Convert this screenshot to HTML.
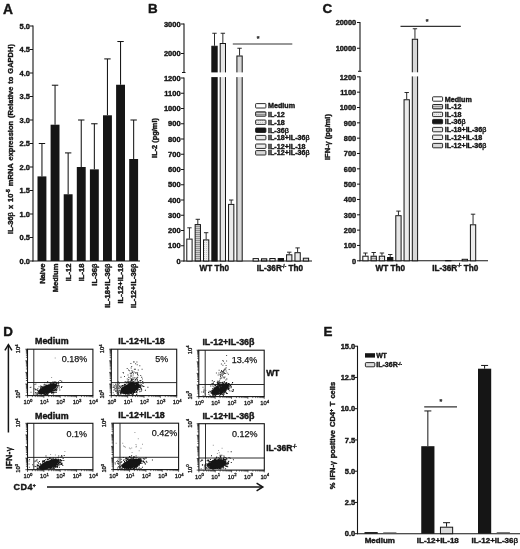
<!DOCTYPE html>
<html lang="en"><head><meta charset="utf-8"><title>Figure</title>
<style>html,body{margin:0;padding:0;background:#fff}body{width:520px;height:549px;overflow:hidden}svg text{font-family:"Liberation Sans",Arial,sans-serif}</style></head>
<body>
<svg width="520" height="549" viewBox="0 0 520 549" font-family="'Liberation Sans', Arial, sans-serif" style="display:block;background:#fff">
<rect width="520" height="549" fill="#fff"/>
<defs>
<pattern id="hh" width="2" height="2" patternUnits="userSpaceOnUse"><rect width="2" height="2" fill="#cfcfcf"/><rect width="2" height="0.9" fill="#8a8a8a"/></pattern>
<pattern id="dots" width="2" height="2" patternUnits="userSpaceOnUse"><rect width="2" height="2" fill="#ececec"/><rect width="1" height="1" fill="#c4c4c4"/></pattern>
</defs>
<g id="panelA">
<text x="2.9" y="13.5" font-size="13.8" font-weight="bold" text-anchor="start" fill="#151515" stroke="#151515" stroke-width="0.4" stroke-linejoin="round">A</text>
<line x1="33.00" y1="25.50" x2="33.00" y2="261.50" stroke="#151515" stroke-width="1.1"/>
<line x1="32.50" y1="261.00" x2="140.00" y2="261.00" stroke="#151515" stroke-width="1.1"/>
<line x1="30.00" y1="261.00" x2="33.00" y2="261.00" stroke="#151515" stroke-width="1"/>
<text x="30.0" y="263.7" font-size="7.5" font-weight="bold" text-anchor="end" fill="#151515" stroke="#151515" stroke-width="0.4" stroke-linejoin="round">0.0</text>
<line x1="30.00" y1="237.50" x2="33.00" y2="237.50" stroke="#151515" stroke-width="1"/>
<text x="30.0" y="240.2" font-size="7.5" font-weight="bold" text-anchor="end" fill="#151515" stroke="#151515" stroke-width="0.4" stroke-linejoin="round">0.5</text>
<line x1="30.00" y1="214.00" x2="33.00" y2="214.00" stroke="#151515" stroke-width="1"/>
<text x="30.0" y="216.7" font-size="7.5" font-weight="bold" text-anchor="end" fill="#151515" stroke="#151515" stroke-width="0.4" stroke-linejoin="round">1.0</text>
<line x1="30.00" y1="190.50" x2="33.00" y2="190.50" stroke="#151515" stroke-width="1"/>
<text x="30.0" y="193.2" font-size="7.5" font-weight="bold" text-anchor="end" fill="#151515" stroke="#151515" stroke-width="0.4" stroke-linejoin="round">1.5</text>
<line x1="30.00" y1="167.00" x2="33.00" y2="167.00" stroke="#151515" stroke-width="1"/>
<text x="30.0" y="169.7" font-size="7.5" font-weight="bold" text-anchor="end" fill="#151515" stroke="#151515" stroke-width="0.4" stroke-linejoin="round">2.0</text>
<line x1="30.00" y1="143.50" x2="33.00" y2="143.50" stroke="#151515" stroke-width="1"/>
<text x="30.0" y="146.2" font-size="7.5" font-weight="bold" text-anchor="end" fill="#151515" stroke="#151515" stroke-width="0.4" stroke-linejoin="round">2.5</text>
<line x1="30.00" y1="120.00" x2="33.00" y2="120.00" stroke="#151515" stroke-width="1"/>
<text x="30.0" y="122.7" font-size="7.5" font-weight="bold" text-anchor="end" fill="#151515" stroke="#151515" stroke-width="0.4" stroke-linejoin="round">3.0</text>
<line x1="30.00" y1="96.50" x2="33.00" y2="96.50" stroke="#151515" stroke-width="1"/>
<text x="30.0" y="99.2" font-size="7.5" font-weight="bold" text-anchor="end" fill="#151515" stroke="#151515" stroke-width="0.4" stroke-linejoin="round">3.5</text>
<line x1="30.00" y1="73.00" x2="33.00" y2="73.00" stroke="#151515" stroke-width="1"/>
<text x="30.0" y="75.7" font-size="7.5" font-weight="bold" text-anchor="end" fill="#151515" stroke="#151515" stroke-width="0.4" stroke-linejoin="round">4.0</text>
<line x1="30.00" y1="49.50" x2="33.00" y2="49.50" stroke="#151515" stroke-width="1"/>
<text x="30.0" y="52.2" font-size="7.5" font-weight="bold" text-anchor="end" fill="#151515" stroke="#151515" stroke-width="0.4" stroke-linejoin="round">4.5</text>
<line x1="30.00" y1="26.00" x2="33.00" y2="26.00" stroke="#151515" stroke-width="1"/>
<text x="30.0" y="28.7" font-size="7.5" font-weight="bold" text-anchor="end" fill="#151515" stroke="#151515" stroke-width="0.4" stroke-linejoin="round">5.0</text>
<text x="13.4" y="139" font-size="7.5" font-weight="bold" text-anchor="middle" fill="#151515" stroke="#151515" stroke-width="0.4" stroke-linejoin="round" transform="rotate(-90 13.4 139)" word-spacing="0.9" xml:space="preserve">IL-36<tspan font-weight="normal">β</tspan> x 10<tspan dy="-3" font-size="5">-5</tspan><tspan dy="3"> </tspan>mRNA expression (Relative to GAPDH)</text>
<line x1="41.95" y1="143.50" x2="41.95" y2="176.40" stroke="#151515" stroke-width="1.05"/>
<line x1="38.75" y1="143.50" x2="45.15" y2="143.50" stroke="#151515" stroke-width="1.05"/>
<rect x="37.50" y="176.40" width="8.90" height="84.60" fill="#151515" stroke="none" stroke-width="1"/>
<text x="44.75" y="263.6" font-size="7.6" font-weight="bold" text-anchor="end" fill="#151515" stroke="#151515" stroke-width="0.4" stroke-linejoin="round" transform="rotate(-90 44.75 263.6)">Naive</text>
<line x1="55.05" y1="85.22" x2="55.05" y2="124.70" stroke="#151515" stroke-width="1.05"/>
<line x1="51.85" y1="85.22" x2="58.25" y2="85.22" stroke="#151515" stroke-width="1.05"/>
<rect x="50.60" y="124.70" width="8.90" height="136.30" fill="#151515" stroke="none" stroke-width="1"/>
<text x="57.85" y="263.6" font-size="7.6" font-weight="bold" text-anchor="end" fill="#151515" stroke="#151515" stroke-width="0.4" stroke-linejoin="round" transform="rotate(-90 57.85 263.6)">Medium</text>
<line x1="68.15" y1="152.90" x2="68.15" y2="194.26" stroke="#151515" stroke-width="1.05"/>
<line x1="64.95" y1="152.90" x2="71.35" y2="152.90" stroke="#151515" stroke-width="1.05"/>
<rect x="63.70" y="194.26" width="8.90" height="66.74" fill="#151515" stroke="none" stroke-width="1"/>
<text x="70.95" y="263.6" font-size="7.6" font-weight="bold" text-anchor="end" fill="#151515" stroke="#151515" stroke-width="0.4" stroke-linejoin="round" transform="rotate(-90 70.95 263.6)">IL-12</text>
<line x1="81.25" y1="120.00" x2="81.25" y2="167.00" stroke="#151515" stroke-width="1.05"/>
<line x1="78.05" y1="120.00" x2="84.45" y2="120.00" stroke="#151515" stroke-width="1.05"/>
<rect x="76.80" y="167.00" width="8.90" height="94.00" fill="#151515" stroke="none" stroke-width="1"/>
<text x="84.05" y="263.6" font-size="7.6" font-weight="bold" text-anchor="end" fill="#151515" stroke="#151515" stroke-width="0.4" stroke-linejoin="round" transform="rotate(-90 84.05 263.6)">IL-18</text>
<line x1="94.35" y1="123.76" x2="94.35" y2="169.35" stroke="#151515" stroke-width="1.05"/>
<line x1="91.15" y1="123.76" x2="97.55" y2="123.76" stroke="#151515" stroke-width="1.05"/>
<rect x="89.90" y="169.35" width="8.90" height="91.65" fill="#151515" stroke="none" stroke-width="1"/>
<text x="97.15" y="263.6" font-size="7.6" font-weight="bold" text-anchor="end" fill="#151515" stroke="#151515" stroke-width="0.4" stroke-linejoin="round" transform="rotate(-90 97.15 263.6)">IL-36<tspan font-weight="normal">β</tspan></text>
<line x1="107.45" y1="58.90" x2="107.45" y2="115.30" stroke="#151515" stroke-width="1.05"/>
<line x1="104.25" y1="58.90" x2="110.65" y2="58.90" stroke="#151515" stroke-width="1.05"/>
<rect x="103.00" y="115.30" width="8.90" height="145.70" fill="#151515" stroke="none" stroke-width="1"/>
<text x="110.25" y="263.6" font-size="7.6" font-weight="bold" text-anchor="end" fill="#151515" stroke="#151515" stroke-width="0.4" stroke-linejoin="round" transform="rotate(-90 110.25 263.6)">IL-18+IL-36<tspan font-weight="normal">β</tspan></text>
<line x1="120.55" y1="41.51" x2="120.55" y2="84.75" stroke="#151515" stroke-width="1.05"/>
<line x1="117.35" y1="41.51" x2="123.75" y2="41.51" stroke="#151515" stroke-width="1.05"/>
<rect x="116.10" y="84.75" width="8.90" height="176.25" fill="#151515" stroke="none" stroke-width="1"/>
<text x="123.35" y="263.6" font-size="7.6" font-weight="bold" text-anchor="end" fill="#151515" stroke="#151515" stroke-width="0.4" stroke-linejoin="round" transform="rotate(-90 123.35 263.6)">IL-12+IL-18</text>
<line x1="133.65" y1="120.00" x2="133.65" y2="159.01" stroke="#151515" stroke-width="1.05"/>
<line x1="130.45" y1="120.00" x2="136.85" y2="120.00" stroke="#151515" stroke-width="1.05"/>
<rect x="129.20" y="159.01" width="8.90" height="101.99" fill="#151515" stroke="none" stroke-width="1"/>
<text x="136.45" y="263.6" font-size="7.6" font-weight="bold" text-anchor="end" fill="#151515" stroke="#151515" stroke-width="0.4" stroke-linejoin="round" transform="rotate(-90 136.45 263.6)">IL-12+IL-36<tspan font-weight="normal">β</tspan></text>
</g>
<g id="panelB">
<text x="148.0" y="13.3" font-size="13.4" font-weight="bold" text-anchor="start" fill="#151515" stroke="#151515" stroke-width="0.4" stroke-linejoin="round">B</text>
<line x1="184.00" y1="77.50" x2="184.00" y2="261.50" stroke="#151515" stroke-width="1.1"/>
<line x1="184.00" y1="23.50" x2="184.00" y2="72.50" stroke="#151515" stroke-width="1.1"/>
<line x1="183.50" y1="261.00" x2="312.00" y2="261.00" stroke="#151515" stroke-width="1.1"/>
<line x1="181.00" y1="261.00" x2="184.00" y2="261.00" stroke="#151515" stroke-width="1"/>
<text x="180.6" y="263.7" font-size="7.5" font-weight="bold" text-anchor="end" fill="#151515" stroke="#151515" stroke-width="0.4" stroke-linejoin="round">0</text>
<line x1="181.00" y1="245.75" x2="184.00" y2="245.75" stroke="#151515" stroke-width="1"/>
<text x="180.6" y="248.45" font-size="7.5" font-weight="bold" text-anchor="end" fill="#151515" stroke="#151515" stroke-width="0.4" stroke-linejoin="round">100</text>
<line x1="181.00" y1="230.50" x2="184.00" y2="230.50" stroke="#151515" stroke-width="1"/>
<text x="180.6" y="233.2" font-size="7.5" font-weight="bold" text-anchor="end" fill="#151515" stroke="#151515" stroke-width="0.4" stroke-linejoin="round">200</text>
<line x1="181.00" y1="215.25" x2="184.00" y2="215.25" stroke="#151515" stroke-width="1"/>
<text x="180.6" y="217.95" font-size="7.5" font-weight="bold" text-anchor="end" fill="#151515" stroke="#151515" stroke-width="0.4" stroke-linejoin="round">300</text>
<line x1="181.00" y1="200.00" x2="184.00" y2="200.00" stroke="#151515" stroke-width="1"/>
<text x="180.6" y="202.7" font-size="7.5" font-weight="bold" text-anchor="end" fill="#151515" stroke="#151515" stroke-width="0.4" stroke-linejoin="round">400</text>
<line x1="181.00" y1="184.75" x2="184.00" y2="184.75" stroke="#151515" stroke-width="1"/>
<text x="180.6" y="187.45" font-size="7.5" font-weight="bold" text-anchor="end" fill="#151515" stroke="#151515" stroke-width="0.4" stroke-linejoin="round">500</text>
<line x1="181.00" y1="169.50" x2="184.00" y2="169.50" stroke="#151515" stroke-width="1"/>
<text x="180.6" y="172.2" font-size="7.5" font-weight="bold" text-anchor="end" fill="#151515" stroke="#151515" stroke-width="0.4" stroke-linejoin="round">600</text>
<line x1="181.00" y1="154.25" x2="184.00" y2="154.25" stroke="#151515" stroke-width="1"/>
<text x="180.6" y="156.95" font-size="7.5" font-weight="bold" text-anchor="end" fill="#151515" stroke="#151515" stroke-width="0.4" stroke-linejoin="round">700</text>
<line x1="181.00" y1="139.00" x2="184.00" y2="139.00" stroke="#151515" stroke-width="1"/>
<text x="180.6" y="141.7" font-size="7.5" font-weight="bold" text-anchor="end" fill="#151515" stroke="#151515" stroke-width="0.4" stroke-linejoin="round">800</text>
<line x1="181.00" y1="123.75" x2="184.00" y2="123.75" stroke="#151515" stroke-width="1"/>
<text x="180.6" y="126.45" font-size="7.5" font-weight="bold" text-anchor="end" fill="#151515" stroke="#151515" stroke-width="0.4" stroke-linejoin="round">900</text>
<line x1="181.00" y1="108.50" x2="184.00" y2="108.50" stroke="#151515" stroke-width="1"/>
<text x="180.6" y="111.2" font-size="7.5" font-weight="bold" text-anchor="end" fill="#151515" stroke="#151515" stroke-width="0.4" stroke-linejoin="round">1000</text>
<line x1="181.00" y1="93.25" x2="184.00" y2="93.25" stroke="#151515" stroke-width="1"/>
<text x="180.6" y="95.95" font-size="7.5" font-weight="bold" text-anchor="end" fill="#151515" stroke="#151515" stroke-width="0.4" stroke-linejoin="round">1100</text>
<line x1="181.00" y1="78.00" x2="184.00" y2="78.00" stroke="#151515" stroke-width="1"/>
<text x="180.6" y="80.7" font-size="7.5" font-weight="bold" text-anchor="end" fill="#151515" stroke="#151515" stroke-width="0.4" stroke-linejoin="round">1200</text>
<line x1="181.00" y1="24.00" x2="184.00" y2="24.00" stroke="#151515" stroke-width="1"/>
<text x="180.6" y="26.7" font-size="7.5" font-weight="bold" text-anchor="end" fill="#151515" stroke="#151515" stroke-width="0.4" stroke-linejoin="round">3000</text>
<line x1="181.00" y1="53.50" x2="184.00" y2="53.50" stroke="#151515" stroke-width="1"/>
<text x="180.6" y="56.2" font-size="7.5" font-weight="bold" text-anchor="end" fill="#151515" stroke="#151515" stroke-width="0.4" stroke-linejoin="round">2000</text>
<line x1="182.00" y1="72.50" x2="185.50" y2="72.50" stroke="#151515" stroke-width="1"/>
<text x="156.9" y="138" font-size="7.4" font-weight="bold" text-anchor="middle" fill="#151515" stroke="#151515" stroke-width="0.4" stroke-linejoin="round" transform="rotate(-90 156.9 138)">IL-2 (pg/ml)</text>
<line x1="189.45" y1="227.80" x2="189.45" y2="238.60" stroke="#151515" stroke-width="0.9"/>
<line x1="187.25" y1="227.80" x2="191.65" y2="227.80" stroke="#151515" stroke-width="0.9"/>
<rect x="186.80" y="239.10" width="5.30" height="21.90" fill="#ffffff" stroke="#151515" stroke-width="1"/>
<line x1="197.80" y1="219.30" x2="197.80" y2="224.10" stroke="#151515" stroke-width="0.9"/>
<line x1="195.60" y1="219.30" x2="200.00" y2="219.30" stroke="#151515" stroke-width="0.9"/>
<rect x="195.15" y="224.60" width="5.30" height="36.40" fill="url(#hh)" stroke="#151515" stroke-width="1"/>
<line x1="206.15" y1="232.70" x2="206.15" y2="239.40" stroke="#151515" stroke-width="0.9"/>
<line x1="203.95" y1="232.70" x2="208.35" y2="232.70" stroke="#151515" stroke-width="0.9"/>
<rect x="203.50" y="239.90" width="5.30" height="21.10" fill="url(#dots)" stroke="#151515" stroke-width="1"/>
<line x1="214.50" y1="33.25" x2="214.50" y2="45.75" stroke="#151515" stroke-width="0.9"/>
<line x1="212.30" y1="33.25" x2="216.70" y2="33.25" stroke="#151515" stroke-width="0.9"/>
<rect x="211.85" y="46.25" width="5.30" height="214.75" fill="#151515" stroke="#151515" stroke-width="1"/>
<rect x="210.55" y="72.40" width="7.90" height="4.70" fill="#fff"/>
<line x1="222.85" y1="33.25" x2="222.85" y2="43.00" stroke="#151515" stroke-width="0.9"/>
<line x1="220.65" y1="33.25" x2="225.05" y2="33.25" stroke="#151515" stroke-width="0.9"/>
<rect x="220.20" y="43.50" width="5.30" height="217.50" fill="#e6e6e6" stroke="#151515" stroke-width="1"/>
<rect x="218.90" y="72.40" width="7.90" height="4.70" fill="#fff"/>
<line x1="231.20" y1="200.00" x2="231.20" y2="203.90" stroke="#151515" stroke-width="0.9"/>
<line x1="229.00" y1="200.00" x2="233.40" y2="200.00" stroke="#151515" stroke-width="0.9"/>
<rect x="228.55" y="204.40" width="5.30" height="56.60" fill="#ebebeb" stroke="#151515" stroke-width="1"/>
<line x1="239.55" y1="48.25" x2="239.55" y2="55.50" stroke="#151515" stroke-width="0.9"/>
<line x1="237.35" y1="48.25" x2="241.75" y2="48.25" stroke="#151515" stroke-width="0.9"/>
<rect x="236.90" y="56.00" width="5.30" height="205.00" fill="#d8d8d8" stroke="#151515" stroke-width="1"/>
<rect x="235.60" y="72.40" width="7.90" height="4.70" fill="#fff"/>
<rect x="253.10" y="258.60" width="5.30" height="2.40" fill="#ffffff" stroke="#151515" stroke-width="1"/>
<rect x="261.47" y="258.80" width="5.30" height="2.20" fill="url(#hh)" stroke="#151515" stroke-width="1"/>
<rect x="269.84" y="258.50" width="5.30" height="2.50" fill="url(#dots)" stroke="#151515" stroke-width="1"/>
<rect x="278.21" y="258.50" width="5.30" height="2.50" fill="#151515" stroke="#151515" stroke-width="1"/>
<line x1="289.23" y1="252.20" x2="289.23" y2="254.30" stroke="#151515" stroke-width="0.9"/>
<line x1="287.03" y1="252.20" x2="291.43" y2="252.20" stroke="#151515" stroke-width="0.9"/>
<rect x="286.58" y="254.80" width="5.30" height="6.20" fill="#e6e6e6" stroke="#151515" stroke-width="1"/>
<line x1="297.60" y1="247.90" x2="297.60" y2="252.20" stroke="#151515" stroke-width="0.9"/>
<line x1="295.40" y1="247.90" x2="299.80" y2="247.90" stroke="#151515" stroke-width="0.9"/>
<rect x="294.95" y="252.70" width="5.30" height="8.30" fill="#ebebeb" stroke="#151515" stroke-width="1"/>
<rect x="303.32" y="258.20" width="5.30" height="2.80" fill="#d8d8d8" stroke="#151515" stroke-width="1"/>
<line x1="232.80" y1="44.00" x2="292.30" y2="44.00" stroke="#333" stroke-width="1.2"/>
<text x="258.2" y="41.0" font-size="7" font-weight="bold" text-anchor="middle" fill="#151515" stroke="#151515" stroke-width="0.2" stroke-linejoin="round">*</text>
<text x="214.4" y="271" font-size="8.2" font-weight="bold" text-anchor="middle" fill="#151515" stroke="#151515" stroke-width="0.4" stroke-linejoin="round">WT Th0</text>
<text x="256.8" y="271" font-size="8.2" font-weight="bold" text-anchor="start" fill="#151515" stroke="#151515" stroke-width="0.4" stroke-linejoin="round">IL-36R<tspan dy="-3.2" font-size="4.6">-/-</tspan><tspan dy="3.2"> </tspan>Th0</text>
<rect x="255.6" y="103.60" width="10.3" height="4.4" rx="0.7" fill="#ffffff" stroke="#151515" stroke-width="0.9"/>
<text x="268" y="108.39999999999999" font-size="7.15" font-weight="bold" text-anchor="start" fill="#151515" stroke="#151515" stroke-width="0.4" stroke-linejoin="round">Medium</text>
<rect x="255.6" y="111.80" width="10.3" height="4.4" rx="0.7" fill="url(#hh)" stroke="#151515" stroke-width="0.9"/>
<text x="268" y="116.6" font-size="7.15" font-weight="bold" text-anchor="start" fill="#151515" stroke="#151515" stroke-width="0.4" stroke-linejoin="round">IL-12</text>
<rect x="255.6" y="120.00" width="10.3" height="4.4" rx="0.7" fill="url(#dots)" stroke="#151515" stroke-width="0.9"/>
<text x="268" y="124.8" font-size="7.15" font-weight="bold" text-anchor="start" fill="#151515" stroke="#151515" stroke-width="0.4" stroke-linejoin="round">IL-18</text>
<rect x="255.6" y="128.00" width="10.3" height="4.4" rx="0.7" fill="#151515" stroke="#151515" stroke-width="0.9"/>
<text x="268" y="132.79999999999998" font-size="7.15" font-weight="bold" text-anchor="start" fill="#151515" stroke="#151515" stroke-width="0.4" stroke-linejoin="round">IL-36<tspan font-weight="normal">β</tspan></text>
<rect x="255.6" y="135.40" width="10.3" height="4.4" rx="0.7" fill="#e6e6e6" stroke="#151515" stroke-width="0.9"/>
<text x="268" y="140.2" font-size="7.15" font-weight="bold" text-anchor="start" fill="#151515" stroke="#151515" stroke-width="0.4" stroke-linejoin="round">IL-18+IL-36<tspan font-weight="normal">β</tspan></text>
<rect x="255.6" y="144.00" width="10.3" height="4.4" rx="0.7" fill="#ebebeb" stroke="#151515" stroke-width="0.9"/>
<text x="268" y="148.79999999999998" font-size="7.15" font-weight="bold" text-anchor="start" fill="#151515" stroke="#151515" stroke-width="0.4" stroke-linejoin="round">IL-12+IL-18</text>
<rect x="255.6" y="150.60" width="10.3" height="4.4" rx="0.7" fill="#d8d8d8" stroke="#151515" stroke-width="0.9"/>
<text x="268" y="155.4" font-size="7.15" font-weight="bold" text-anchor="start" fill="#151515" stroke="#151515" stroke-width="0.4" stroke-linejoin="round">IL-12+IL-36<tspan font-weight="normal">β</tspan></text>
</g>
<g id="panelC">
<text x="322.6" y="13.3" font-size="13.4" font-weight="bold" text-anchor="start" fill="#151515" stroke="#151515" stroke-width="0.4" stroke-linejoin="round">C</text>
<line x1="360.00" y1="76.50" x2="360.00" y2="261.30" stroke="#151515" stroke-width="1.1"/>
<line x1="360.00" y1="22.00" x2="360.00" y2="71.30" stroke="#151515" stroke-width="1.1"/>
<line x1="359.50" y1="260.80" x2="488.00" y2="260.80" stroke="#151515" stroke-width="1.1"/>
<line x1="357.00" y1="260.80" x2="360.00" y2="260.80" stroke="#151515" stroke-width="1"/>
<text x="356.2" y="263.5" font-size="7.4" font-weight="bold" text-anchor="end" fill="#151515" stroke="#151515" stroke-width="0.4" stroke-linejoin="round">0</text>
<line x1="357.00" y1="245.47" x2="360.00" y2="245.47" stroke="#151515" stroke-width="1"/>
<text x="356.2" y="248.17000000000002" font-size="7.4" font-weight="bold" text-anchor="end" fill="#151515" stroke="#151515" stroke-width="0.4" stroke-linejoin="round">100</text>
<line x1="357.00" y1="230.14" x2="360.00" y2="230.14" stroke="#151515" stroke-width="1"/>
<text x="356.2" y="232.84" font-size="7.4" font-weight="bold" text-anchor="end" fill="#151515" stroke="#151515" stroke-width="0.4" stroke-linejoin="round">200</text>
<line x1="357.00" y1="214.81" x2="360.00" y2="214.81" stroke="#151515" stroke-width="1"/>
<text x="356.2" y="217.51" font-size="7.4" font-weight="bold" text-anchor="end" fill="#151515" stroke="#151515" stroke-width="0.4" stroke-linejoin="round">300</text>
<line x1="357.00" y1="199.48" x2="360.00" y2="199.48" stroke="#151515" stroke-width="1"/>
<text x="356.2" y="202.18" font-size="7.4" font-weight="bold" text-anchor="end" fill="#151515" stroke="#151515" stroke-width="0.4" stroke-linejoin="round">400</text>
<line x1="357.00" y1="184.15" x2="360.00" y2="184.15" stroke="#151515" stroke-width="1"/>
<text x="356.2" y="186.85000000000002" font-size="7.4" font-weight="bold" text-anchor="end" fill="#151515" stroke="#151515" stroke-width="0.4" stroke-linejoin="round">500</text>
<line x1="357.00" y1="168.82" x2="360.00" y2="168.82" stroke="#151515" stroke-width="1"/>
<text x="356.2" y="171.52" font-size="7.4" font-weight="bold" text-anchor="end" fill="#151515" stroke="#151515" stroke-width="0.4" stroke-linejoin="round">600</text>
<line x1="357.00" y1="153.49" x2="360.00" y2="153.49" stroke="#151515" stroke-width="1"/>
<text x="356.2" y="156.19" font-size="7.4" font-weight="bold" text-anchor="end" fill="#151515" stroke="#151515" stroke-width="0.4" stroke-linejoin="round">700</text>
<line x1="357.00" y1="138.16" x2="360.00" y2="138.16" stroke="#151515" stroke-width="1"/>
<text x="356.2" y="140.86" font-size="7.4" font-weight="bold" text-anchor="end" fill="#151515" stroke="#151515" stroke-width="0.4" stroke-linejoin="round">800</text>
<line x1="357.00" y1="122.83" x2="360.00" y2="122.83" stroke="#151515" stroke-width="1"/>
<text x="356.2" y="125.53000000000002" font-size="7.4" font-weight="bold" text-anchor="end" fill="#151515" stroke="#151515" stroke-width="0.4" stroke-linejoin="round">900</text>
<line x1="357.00" y1="107.50" x2="360.00" y2="107.50" stroke="#151515" stroke-width="1"/>
<text x="356.2" y="110.20000000000003" font-size="7.4" font-weight="bold" text-anchor="end" fill="#151515" stroke="#151515" stroke-width="0.4" stroke-linejoin="round">1000</text>
<line x1="357.00" y1="92.17" x2="360.00" y2="92.17" stroke="#151515" stroke-width="1"/>
<text x="356.2" y="94.87000000000002" font-size="7.4" font-weight="bold" text-anchor="end" fill="#151515" stroke="#151515" stroke-width="0.4" stroke-linejoin="round">1100</text>
<line x1="357.00" y1="76.84" x2="360.00" y2="76.84" stroke="#151515" stroke-width="1"/>
<text x="356.2" y="79.54000000000003" font-size="7.4" font-weight="bold" text-anchor="end" fill="#151515" stroke="#151515" stroke-width="0.4" stroke-linejoin="round">1200</text>
<line x1="357.00" y1="22.50" x2="360.00" y2="22.50" stroke="#151515" stroke-width="1"/>
<text x="356.2" y="25.2" font-size="7.4" font-weight="bold" text-anchor="end" fill="#151515" stroke="#151515" stroke-width="0.4" stroke-linejoin="round">20000</text>
<line x1="357.00" y1="48.25" x2="360.00" y2="48.25" stroke="#151515" stroke-width="1"/>
<text x="356.2" y="50.95" font-size="7.4" font-weight="bold" text-anchor="end" fill="#151515" stroke="#151515" stroke-width="0.4" stroke-linejoin="round">10000</text>
<line x1="358.00" y1="71.30" x2="361.50" y2="71.30" stroke="#151515" stroke-width="1"/>
<text x="329.6" y="137" font-size="7.6" font-weight="bold" text-anchor="middle" fill="#151515" stroke="#151515" stroke-width="0.4" stroke-linejoin="round" transform="rotate(-90 329.6 137)">IFN-<tspan font-weight="normal">γ</tspan> (pg/ml)</text>
<line x1="365.45" y1="253.00" x2="365.45" y2="255.70" stroke="#151515" stroke-width="0.9"/>
<line x1="363.25" y1="253.00" x2="367.65" y2="253.00" stroke="#151515" stroke-width="0.9"/>
<rect x="362.80" y="256.20" width="5.30" height="4.60" fill="#ffffff" stroke="#151515" stroke-width="1"/>
<line x1="373.70" y1="252.50" x2="373.70" y2="255.70" stroke="#151515" stroke-width="0.9"/>
<line x1="371.50" y1="252.50" x2="375.90" y2="252.50" stroke="#151515" stroke-width="0.9"/>
<rect x="371.05" y="256.20" width="5.30" height="4.60" fill="url(#hh)" stroke="#151515" stroke-width="1"/>
<line x1="381.95" y1="253.00" x2="381.95" y2="255.70" stroke="#151515" stroke-width="0.9"/>
<line x1="379.75" y1="253.00" x2="384.15" y2="253.00" stroke="#151515" stroke-width="0.9"/>
<rect x="379.30" y="256.20" width="5.30" height="4.60" fill="url(#dots)" stroke="#151515" stroke-width="1"/>
<line x1="390.20" y1="254.50" x2="390.20" y2="257.00" stroke="#151515" stroke-width="0.9"/>
<line x1="388.00" y1="254.50" x2="392.40" y2="254.50" stroke="#151515" stroke-width="0.9"/>
<rect x="387.55" y="257.50" width="5.30" height="3.30" fill="#151515" stroke="#151515" stroke-width="1"/>
<line x1="398.45" y1="211.10" x2="398.45" y2="215.20" stroke="#151515" stroke-width="0.9"/>
<line x1="396.25" y1="211.10" x2="400.65" y2="211.10" stroke="#151515" stroke-width="0.9"/>
<rect x="395.80" y="215.70" width="5.30" height="45.10" fill="#e6e6e6" stroke="#151515" stroke-width="1"/>
<line x1="406.70" y1="92.50" x2="406.70" y2="99.25" stroke="#151515" stroke-width="0.9"/>
<line x1="404.50" y1="92.50" x2="408.90" y2="92.50" stroke="#151515" stroke-width="0.9"/>
<rect x="404.05" y="99.75" width="5.30" height="161.05" fill="#ebebeb" stroke="#151515" stroke-width="1"/>
<line x1="414.95" y1="28.75" x2="414.95" y2="38.75" stroke="#151515" stroke-width="0.9"/>
<line x1="412.75" y1="28.75" x2="417.15" y2="28.75" stroke="#151515" stroke-width="0.9"/>
<rect x="412.30" y="39.25" width="5.30" height="221.55" fill="#d8d8d8" stroke="#151515" stroke-width="1"/>
<rect x="411.00" y="72.30" width="7.90" height="4.10" fill="#fff"/>
<rect x="445.65" y="260.50" width="5.30" height="0.30" fill="url(#dots)" stroke="#151515" stroke-width="1"/>
<rect x="462.15" y="259.30" width="5.30" height="1.50" fill="#e6e6e6" stroke="#151515" stroke-width="1"/>
<line x1="473.05" y1="214.20" x2="473.05" y2="224.30" stroke="#151515" stroke-width="0.9"/>
<line x1="470.85" y1="214.20" x2="475.25" y2="214.20" stroke="#151515" stroke-width="0.9"/>
<rect x="470.40" y="224.80" width="5.30" height="36.00" fill="#ebebeb" stroke="#151515" stroke-width="1"/>
<line x1="400.50" y1="26.40" x2="460.80" y2="26.40" stroke="#333" stroke-width="1.2"/>
<text x="427.0" y="23.8" font-size="7" font-weight="bold" text-anchor="middle" fill="#151515" stroke="#151515" stroke-width="0.2" stroke-linejoin="round">*</text>
<text x="390.2" y="270.5" font-size="8.2" font-weight="bold" text-anchor="middle" fill="#151515" stroke="#151515" stroke-width="0.4" stroke-linejoin="round">WT Th0</text>
<text x="432.2" y="270.5" font-size="8.2" font-weight="bold" text-anchor="start" fill="#151515" stroke="#151515" stroke-width="0.4" stroke-linejoin="round">IL-36R<tspan dy="-3.2" font-size="4.6">-/-</tspan><tspan dy="3.2"> </tspan>Th0</text>
<rect x="432.6" y="96.80" width="10" height="4.4" rx="0.7" fill="#ffffff" stroke="#151515" stroke-width="0.9"/>
<text x="444.8" y="101.6" font-size="7.15" font-weight="bold" text-anchor="start" fill="#151515" stroke="#151515" stroke-width="0.4" stroke-linejoin="round">Medium</text>
<rect x="432.6" y="104.50" width="10" height="4.4" rx="0.7" fill="url(#hh)" stroke="#151515" stroke-width="0.9"/>
<text x="444.8" y="109.3" font-size="7.15" font-weight="bold" text-anchor="start" fill="#151515" stroke="#151515" stroke-width="0.4" stroke-linejoin="round">IL-12</text>
<rect x="432.6" y="112.20" width="10" height="4.4" rx="0.7" fill="url(#dots)" stroke="#151515" stroke-width="0.9"/>
<text x="444.8" y="117.0" font-size="7.15" font-weight="bold" text-anchor="start" fill="#151515" stroke="#151515" stroke-width="0.4" stroke-linejoin="round">IL-18</text>
<rect x="432.6" y="119.40" width="10" height="4.4" rx="0.7" fill="#151515" stroke="#151515" stroke-width="0.9"/>
<text x="444.8" y="124.19999999999999" font-size="7.15" font-weight="bold" text-anchor="start" fill="#151515" stroke="#151515" stroke-width="0.4" stroke-linejoin="round">IL-36<tspan font-weight="normal">β</tspan></text>
<rect x="432.6" y="127.40" width="10" height="4.4" rx="0.7" fill="#e6e6e6" stroke="#151515" stroke-width="0.9"/>
<text x="444.8" y="132.2" font-size="7.15" font-weight="bold" text-anchor="start" fill="#151515" stroke="#151515" stroke-width="0.4" stroke-linejoin="round">IL-18+IL-36<tspan font-weight="normal">β</tspan></text>
<rect x="432.6" y="135.10" width="10" height="4.4" rx="0.7" fill="#ebebeb" stroke="#151515" stroke-width="0.9"/>
<text x="444.8" y="139.9" font-size="7.15" font-weight="bold" text-anchor="start" fill="#151515" stroke="#151515" stroke-width="0.4" stroke-linejoin="round">IL-12+IL-18</text>
<rect x="432.6" y="143.40" width="10" height="4.4" rx="0.7" fill="#d8d8d8" stroke="#151515" stroke-width="0.9"/>
<text x="444.8" y="148.2" font-size="7.15" font-weight="bold" text-anchor="start" fill="#151515" stroke="#151515" stroke-width="0.4" stroke-linejoin="round">IL-12+IL-36<tspan font-weight="normal">β</tspan></text>
</g>
<g id="panelD">
<text x="3.2" y="335.8" font-size="13.4" font-weight="bold" text-anchor="start" fill="#151515" stroke="#151515" stroke-width="0.4" stroke-linejoin="round">D</text>
<line x1="8.40" y1="344.80" x2="8.40" y2="432.50" stroke="#151515" stroke-width="1.5"/>
<polyline points="4.9,350.4 8.4,344.6 11.9,350.4" fill="none" stroke="#151515" stroke-width="1.5"/>
<text x="12.2" y="468.8" font-size="8.4" font-weight="bold" text-anchor="start" fill="#151515" stroke="#151515" stroke-width="0.4" stroke-linejoin="round" transform="rotate(-90 12.2 468.8)" letter-spacing="0.3">IFN-<tspan font-weight="normal">γ</tspan></text>
<text x="13.6" y="490.2" font-size="9" font-weight="bold" text-anchor="start" fill="#151515" stroke="#151515" stroke-width="0.4" stroke-linejoin="round" letter-spacing="0.4">CD4<tspan dy="-3.2" font-size="5">+</tspan><tspan dy="3.2"> </tspan></text>
<line x1="47.00" y1="487.00" x2="262.30" y2="487.00" stroke="#151515" stroke-width="1.5"/>
<polyline points="256.6,483.2 262.8,487 256.6,490.8" fill="none" stroke="#151515" stroke-width="1.5"/>
<rect x="27.50" y="349.20" width="65.40" height="46.40" fill="#fff" stroke="#151515" stroke-width="1.1"/>
<line x1="33.80" y1="349.20" x2="33.80" y2="395.60" stroke="#151515" stroke-width="0.9"/>
<line x1="27.50" y1="382.50" x2="92.90" y2="382.50" stroke="#151515" stroke-width="0.9"/>
<text x="35.0" y="344.4" font-size="8.9" font-weight="bold" text-anchor="start" fill="#151515" stroke="#151515" stroke-width="0.4" stroke-linejoin="round">Medium</text>
<text x="87.2" y="362.4" font-size="9" font-weight="normal" text-anchor="end" fill="#151515" stroke="#151515" stroke-width="0.25" stroke-linejoin="round">0.18%</text>
<text x="23.6" y="404.29999999999995" font-size="5.8" font-weight="normal" text-anchor="start" fill="#151515" stroke="#151515" stroke-width="0.3" stroke-linejoin="round">10<tspan dy="-2.4" font-size="4.3">0</tspan><tspan dy="2.4"></tspan></text>
<line x1="27.50" y1="395.60" x2="27.50" y2="397.80" stroke="#151515" stroke-width="0.7"/>
<line x1="25.30" y1="395.60" x2="27.50" y2="395.60" stroke="#151515" stroke-width="0.7"/>
<line x1="32.42" y1="395.60" x2="32.42" y2="397.10" stroke="#151515" stroke-width="0.6"/>
<line x1="25.90" y1="392.11" x2="27.50" y2="392.11" stroke="#151515" stroke-width="0.7"/>
<line x1="35.30" y1="395.60" x2="35.30" y2="397.10" stroke="#151515" stroke-width="0.6"/>
<line x1="25.90" y1="390.07" x2="27.50" y2="390.07" stroke="#151515" stroke-width="0.7"/>
<line x1="37.34" y1="395.60" x2="37.34" y2="397.10" stroke="#151515" stroke-width="0.6"/>
<line x1="25.90" y1="388.62" x2="27.50" y2="388.62" stroke="#151515" stroke-width="0.7"/>
<line x1="38.93" y1="395.60" x2="38.93" y2="397.10" stroke="#151515" stroke-width="0.6"/>
<line x1="25.90" y1="387.49" x2="27.50" y2="387.49" stroke="#151515" stroke-width="0.7"/>
<line x1="40.22" y1="395.60" x2="40.22" y2="397.10" stroke="#151515" stroke-width="0.6"/>
<line x1="25.90" y1="386.57" x2="27.50" y2="386.57" stroke="#151515" stroke-width="0.7"/>
<line x1="41.32" y1="395.60" x2="41.32" y2="397.10" stroke="#151515" stroke-width="0.6"/>
<line x1="25.90" y1="385.80" x2="27.50" y2="385.80" stroke="#151515" stroke-width="0.7"/>
<line x1="42.27" y1="395.60" x2="42.27" y2="397.10" stroke="#151515" stroke-width="0.6"/>
<line x1="25.90" y1="385.12" x2="27.50" y2="385.12" stroke="#151515" stroke-width="0.7"/>
<line x1="43.10" y1="395.60" x2="43.10" y2="397.10" stroke="#151515" stroke-width="0.6"/>
<line x1="25.90" y1="384.53" x2="27.50" y2="384.53" stroke="#151515" stroke-width="0.7"/>
<text x="39.95" y="404.29999999999995" font-size="5.8" font-weight="normal" text-anchor="start" fill="#151515" stroke="#151515" stroke-width="0.3" stroke-linejoin="round">10<tspan dy="-2.4" font-size="4.3">1</tspan><tspan dy="2.4"></tspan></text>
<line x1="43.85" y1="395.60" x2="43.85" y2="397.80" stroke="#151515" stroke-width="0.7"/>
<line x1="25.30" y1="384.00" x2="27.50" y2="384.00" stroke="#151515" stroke-width="0.7"/>
<line x1="48.77" y1="395.60" x2="48.77" y2="397.10" stroke="#151515" stroke-width="0.6"/>
<line x1="25.90" y1="380.51" x2="27.50" y2="380.51" stroke="#151515" stroke-width="0.7"/>
<line x1="51.65" y1="395.60" x2="51.65" y2="397.10" stroke="#151515" stroke-width="0.6"/>
<line x1="25.90" y1="378.47" x2="27.50" y2="378.47" stroke="#151515" stroke-width="0.7"/>
<line x1="53.69" y1="395.60" x2="53.69" y2="397.10" stroke="#151515" stroke-width="0.6"/>
<line x1="25.90" y1="377.02" x2="27.50" y2="377.02" stroke="#151515" stroke-width="0.7"/>
<line x1="55.28" y1="395.60" x2="55.28" y2="397.10" stroke="#151515" stroke-width="0.6"/>
<line x1="25.90" y1="375.89" x2="27.50" y2="375.89" stroke="#151515" stroke-width="0.7"/>
<line x1="56.57" y1="395.60" x2="56.57" y2="397.10" stroke="#151515" stroke-width="0.6"/>
<line x1="25.90" y1="374.97" x2="27.50" y2="374.97" stroke="#151515" stroke-width="0.7"/>
<line x1="57.67" y1="395.60" x2="57.67" y2="397.10" stroke="#151515" stroke-width="0.6"/>
<line x1="25.90" y1="374.20" x2="27.50" y2="374.20" stroke="#151515" stroke-width="0.7"/>
<line x1="58.62" y1="395.60" x2="58.62" y2="397.10" stroke="#151515" stroke-width="0.6"/>
<line x1="25.90" y1="373.52" x2="27.50" y2="373.52" stroke="#151515" stroke-width="0.7"/>
<line x1="59.45" y1="395.60" x2="59.45" y2="397.10" stroke="#151515" stroke-width="0.6"/>
<line x1="25.90" y1="372.93" x2="27.50" y2="372.93" stroke="#151515" stroke-width="0.7"/>
<text x="56.300000000000004" y="404.29999999999995" font-size="5.8" font-weight="normal" text-anchor="start" fill="#151515" stroke="#151515" stroke-width="0.3" stroke-linejoin="round">10<tspan dy="-2.4" font-size="4.3">2</tspan><tspan dy="2.4"></tspan></text>
<line x1="60.20" y1="395.60" x2="60.20" y2="397.80" stroke="#151515" stroke-width="0.7"/>
<line x1="25.30" y1="372.40" x2="27.50" y2="372.40" stroke="#151515" stroke-width="0.7"/>
<line x1="65.12" y1="395.60" x2="65.12" y2="397.10" stroke="#151515" stroke-width="0.6"/>
<line x1="25.90" y1="368.91" x2="27.50" y2="368.91" stroke="#151515" stroke-width="0.7"/>
<line x1="68.00" y1="395.60" x2="68.00" y2="397.10" stroke="#151515" stroke-width="0.6"/>
<line x1="25.90" y1="366.87" x2="27.50" y2="366.87" stroke="#151515" stroke-width="0.7"/>
<line x1="70.04" y1="395.60" x2="70.04" y2="397.10" stroke="#151515" stroke-width="0.6"/>
<line x1="25.90" y1="365.42" x2="27.50" y2="365.42" stroke="#151515" stroke-width="0.7"/>
<line x1="71.63" y1="395.60" x2="71.63" y2="397.10" stroke="#151515" stroke-width="0.6"/>
<line x1="25.90" y1="364.29" x2="27.50" y2="364.29" stroke="#151515" stroke-width="0.7"/>
<line x1="72.92" y1="395.60" x2="72.92" y2="397.10" stroke="#151515" stroke-width="0.6"/>
<line x1="25.90" y1="363.37" x2="27.50" y2="363.37" stroke="#151515" stroke-width="0.7"/>
<line x1="74.02" y1="395.60" x2="74.02" y2="397.10" stroke="#151515" stroke-width="0.6"/>
<line x1="25.90" y1="362.60" x2="27.50" y2="362.60" stroke="#151515" stroke-width="0.7"/>
<line x1="74.97" y1="395.60" x2="74.97" y2="397.10" stroke="#151515" stroke-width="0.6"/>
<line x1="25.90" y1="361.92" x2="27.50" y2="361.92" stroke="#151515" stroke-width="0.7"/>
<line x1="75.80" y1="395.60" x2="75.80" y2="397.10" stroke="#151515" stroke-width="0.6"/>
<line x1="25.90" y1="361.33" x2="27.50" y2="361.33" stroke="#151515" stroke-width="0.7"/>
<text x="72.65" y="404.29999999999995" font-size="5.8" font-weight="normal" text-anchor="start" fill="#151515" stroke="#151515" stroke-width="0.3" stroke-linejoin="round">10<tspan dy="-2.4" font-size="4.3">3</tspan><tspan dy="2.4"></tspan></text>
<line x1="76.55" y1="395.60" x2="76.55" y2="397.80" stroke="#151515" stroke-width="0.7"/>
<line x1="25.30" y1="360.80" x2="27.50" y2="360.80" stroke="#151515" stroke-width="0.7"/>
<line x1="81.47" y1="395.60" x2="81.47" y2="397.10" stroke="#151515" stroke-width="0.6"/>
<line x1="25.90" y1="357.31" x2="27.50" y2="357.31" stroke="#151515" stroke-width="0.7"/>
<line x1="84.35" y1="395.60" x2="84.35" y2="397.10" stroke="#151515" stroke-width="0.6"/>
<line x1="25.90" y1="355.27" x2="27.50" y2="355.27" stroke="#151515" stroke-width="0.7"/>
<line x1="86.39" y1="395.60" x2="86.39" y2="397.10" stroke="#151515" stroke-width="0.6"/>
<line x1="25.90" y1="353.82" x2="27.50" y2="353.82" stroke="#151515" stroke-width="0.7"/>
<line x1="87.98" y1="395.60" x2="87.98" y2="397.10" stroke="#151515" stroke-width="0.6"/>
<line x1="25.90" y1="352.69" x2="27.50" y2="352.69" stroke="#151515" stroke-width="0.7"/>
<line x1="89.27" y1="395.60" x2="89.27" y2="397.10" stroke="#151515" stroke-width="0.6"/>
<line x1="25.90" y1="351.77" x2="27.50" y2="351.77" stroke="#151515" stroke-width="0.7"/>
<line x1="90.37" y1="395.60" x2="90.37" y2="397.10" stroke="#151515" stroke-width="0.6"/>
<line x1="25.90" y1="351.00" x2="27.50" y2="351.00" stroke="#151515" stroke-width="0.7"/>
<line x1="91.32" y1="395.60" x2="91.32" y2="397.10" stroke="#151515" stroke-width="0.6"/>
<line x1="25.90" y1="350.32" x2="27.50" y2="350.32" stroke="#151515" stroke-width="0.7"/>
<line x1="92.15" y1="395.60" x2="92.15" y2="397.10" stroke="#151515" stroke-width="0.6"/>
<line x1="25.90" y1="349.73" x2="27.50" y2="349.73" stroke="#151515" stroke-width="0.7"/>
<text x="89.0" y="404.29999999999995" font-size="5.8" font-weight="normal" text-anchor="start" fill="#151515" stroke="#151515" stroke-width="0.3" stroke-linejoin="round">10<tspan dy="-2.4" font-size="4.3">4</tspan><tspan dy="2.4"></tspan></text>
<line x1="92.90" y1="395.60" x2="92.90" y2="397.80" stroke="#151515" stroke-width="0.7"/>
<line x1="25.30" y1="349.20" x2="27.50" y2="349.20" stroke="#151515" stroke-width="0.7"/>
<text x="20.5" y="398.59999999999997" font-size="5.8" font-weight="normal" text-anchor="start" fill="#151515" stroke="#151515" stroke-width="0.3" stroke-linejoin="round" transform="rotate(-90 20.5 398.59999999999997)">10<tspan dy="-2.4" font-size="4.3">0</tspan><tspan dy="2.4"></tspan></text>
<text x="20.5" y="353.2" font-size="5.8" font-weight="normal" text-anchor="start" fill="#151515" stroke="#151515" stroke-width="0.3" stroke-linejoin="round" transform="rotate(-90 20.5 353.2)">10<tspan dy="-2.4" font-size="4.3">4</tspan><tspan dy="2.4"></tspan></text>
<ellipse cx="47.4" cy="388.9" rx="10.6" ry="3.7" transform="rotate(-24 47.4 388.9)" fill="#151515"/>
<path d="M52.7 382.3h1v1h-1zM48.6 390.6h1v1h-1zM41.5 391.4h1v1h-1zM48.3 388.1h1v1h-1zM51.3 389.8h1v1h-1zM47.5 389.0h1v1h-1zM38.8 391.2h1v1h-1zM46.5 382.3h1v1h-1zM48.6 388.8h1v1h-1zM53.8 385.5h1v1h-1zM52.6 387.6h1v1h-1zM47.5 385.9h1v1h-1zM51.0 386.9h1v1h-1zM41.2 390.4h1v1h-1zM47.0 387.0h1v1h-1zM47.4 385.7h1v1h-1zM46.9 388.5h1v1h-1zM52.1 390.0h1v1h-1zM45.8 391.1h1v1h-1zM58.0 384.4h1v1h-1zM50.2 385.8h1v1h-1zM47.6 393.3h1v1h-1zM53.0 387.6h1v1h-1zM52.6 390.4h1v1h-1zM43.7 386.9h1v1h-1zM56.4 388.7h1v1h-1zM40.3 392.2h1v1h-1zM51.1 386.8h1v1h-1zM50.1 390.6h1v1h-1zM49.3 384.8h1v1h-1zM46.6 393.4h1v1h-1zM42.5 388.8h1v1h-1zM38.3 393.2h1v1h-1zM42.3 391.6h1v1h-1zM46.1 389.4h1v1h-1zM54.9 384.3h1v1h-1zM54.7 386.1h1v1h-1zM44.4 389.1h1v1h-1zM49.6 391.5h1v1h-1zM50.5 389.2h1v1h-1zM42.8 392.5h1v1h-1zM45.2 386.2h1v1h-1zM48.0 388.7h1v1h-1zM51.4 392.4h1v1h-1zM55.2 388.6h1v1h-1zM51.0 390.6h1v1h-1zM42.6 392.2h1v1h-1zM56.7 382.7h1v1h-1zM44.5 391.0h1v1h-1zM41.3 391.7h1v1h-1zM43.6 388.5h1v1h-1zM40.5 392.9h1v1h-1zM43.7 392.6h1v1h-1zM51.1 386.9h1v1h-1zM49.2 384.6h1v1h-1zM55.0 389.5h1v1h-1zM52.2 391.9h1v1h-1zM45.0 384.4h1v1h-1zM46.8 390.3h1v1h-1zM48.3 388.5h1v1h-1zM48.4 390.7h1v1h-1zM52.2 384.2h1v1h-1zM45.9 388.6h1v1h-1zM49.8 384.8h1v1h-1zM48.7 386.3h1v1h-1zM47.2 392.1h1v1h-1zM43.7 387.6h1v1h-1zM52.4 386.2h1v1h-1zM44.0 389.5h1v1h-1zM54.8 381.7h1v1h-1zM43.8 390.6h1v1h-1zM48.4 388.4h1v1h-1zM51.2 383.5h1v1h-1zM50.4 383.7h1v1h-1zM45.7 392.9h1v1h-1zM47.2 381.2h1v1h-1zM50.5 390.9h1v1h-1zM47.1 384.9h1v1h-1zM41.0 389.4h1v1h-1zM42.8 387.3h1v1h-1zM51.3 386.3h1v1h-1zM58.5 385.2h1v1h-1zM41.7 386.0h1v1h-1zM40.3 385.6h1v1h-1zM48.3 391.5h1v1h-1zM47.2 388.6h1v1h-1zM48.7 388.9h1v1h-1zM55.7 392.0h1v1h-1zM44.7 390.9h1v1h-1zM59.3 389.4h1v1h-1zM46.8 392.5h1v1h-1zM43.2 388.9h1v1h-1zM48.0 384.4h1v1h-1zM43.9 389.7h1v1h-1zM52.7 383.9h1v1h-1zM44.4 387.0h1v1h-1zM40.5 386.7h1v1h-1zM48.3 388.8h1v1h-1zM47.9 386.2h1v1h-1zM56.8 385.1h1v1h-1zM44.8 388.3h1v1h-1zM52.3 387.8h1v1h-1zM54.5 388.7h1v1h-1zM46.5 384.6h1v1h-1zM49.9 386.9h1v1h-1zM50.9 388.4h1v1h-1zM49.3 392.0h1v1h-1zM51.0 389.6h1v1h-1zM44.3 388.3h1v1h-1zM53.4 389.2h1v1h-1zM58.7 385.6h1v1h-1zM50.8 384.6h1v1h-1zM48.4 387.9h1v1h-1zM56.0 382.5h1v1h-1zM51.7 392.3h1v1h-1zM42.2 387.8h1v1h-1zM49.5 390.8h1v1h-1zM44.3 391.2h1v1h-1zM50.6 386.3h1v1h-1zM53.6 388.5h1v1h-1zM53.2 387.8h1v1h-1zM43.9 385.4h1v1h-1zM47.9 389.1h1v1h-1zM46.7 390.3h1v1h-1zM54.2 381.9h1v1h-1zM51.0 386.8h1v1h-1zM53.0 386.6h1v1h-1zM49.4 386.8h1v1h-1zM46.1 384.7h1v1h-1zM55.3 381.5h1v1h-1zM35.2 389.0h1v1h-1zM51.6 388.3h1v1h-1zM46.0 386.2h1v1h-1zM52.7 384.0h1v1h-1zM48.1 388.5h1v1h-1zM51.9 387.1h1v1h-1zM43.3 392.5h1v1h-1zM46.3 388.4h1v1h-1zM60.9 386.9h1v1h-1zM50.0 388.0h1v1h-1zM47.5 384.9h1v1h-1zM54.2 386.3h1v1h-1zM45.9 393.5h1v1h-1zM45.7 386.0h1v1h-1zM45.2 387.8h1v1h-1zM50.7 386.3h1v1h-1zM53.3 386.6h1v1h-1zM44.3 393.7h1v1h-1zM52.7 387.6h1v1h-1zM44.8 387.6h1v1h-1zM41.3 386.5h1v1h-1zM51.5 388.6h1v1h-1zM42.9 387.8h1v1h-1zM41.8 393.3h1v1h-1zM47.2 388.4h1v1h-1zM47.1 387.9h1v1h-1zM45.6 390.1h1v1h-1zM53.4 384.3h1v1h-1zM43.1 385.8h1v1h-1zM36.7 393.4h1v1h-1zM49.9 384.9h1v1h-1zM48.4 389.6h1v1h-1zM50.7 388.0h1v1h-1zM50.3 389.9h1v1h-1zM51.6 384.8h1v1h-1zM51.7 388.2h1v1h-1zM50.1 388.7h1v1h-1zM48.7 388.7h1v1h-1zM40.6 386.2h1v1h-1zM53.5 392.2h1v1h-1zM53.7 390.2h1v1h-1zM46.8 390.9h1v1h-1zM44.3 389.6h1v1h-1zM47.2 393.2h1v1h-1zM47.0 388.0h1v1h-1zM57.3 385.7h1v1h-1zM41.5 392.6h1v1h-1zM51.8 389.5h1v1h-1zM43.0 389.3h1v1h-1zM47.1 388.4h1v1h-1zM44.9 392.4h1v1h-1zM45.8 390.0h1v1h-1zM45.2 388.6h1v1h-1zM49.7 386.3h1v1h-1zM50.9 389.9h1v1h-1zM40.6 389.6h1v1h-1zM47.3 388.6h1v1h-1zM41.5 392.2h1v1h-1zM44.9 392.5h1v1h-1zM45.7 394.0h1v1h-1zM46.6 385.9h1v1h-1zM43.5 390.3h1v1h-1zM40.9 389.9h1v1h-1zM58.7 387.5h1v1h-1zM44.6 386.0h1v1h-1zM49.2 387.7h1v1h-1zM36.7 394.1h1v1h-1zM50.7 383.2h1v1h-1zM51.4 388.8h1v1h-1zM40.5 388.7h1v1h-1zM48.2 392.4h1v1h-1zM56.2 389.8h1v1h-1zM54.5 386.7h1v1h-1zM48.5 386.4h1v1h-1zM47.4 385.2h1v1h-1zM47.8 389.7h1v1h-1zM45.4 394.0h1v1h-1zM42.6 388.2h1v1h-1zM50.3 383.6h1v1h-1zM61.2 380.7h1v1h-1zM51.5 390.9h1v1h-1zM43.7 384.1h1v1h-1zM50.4 388.0h1v1h-1zM51.1 392.8h1v1h-1zM44.4 394.1h1v1h-1zM35.2 392.1h1v1h-1zM52.7 387.0h1v1h-1zM50.3 390.5h1v1h-1zM49.0 386.0h1v1h-1zM53.9 381.5h1v1h-1zM50.1 388.1h1v1h-1zM43.7 392.3h1v1h-1zM50.1 386.1h1v1h-1zM45.7 384.8h1v1h-1zM50.8 387.3h1v1h-1zM46.3 389.2h1v1h-1zM43.4 393.5h1v1h-1zM49.9 389.5h1v1h-1zM44.6 386.6h1v1h-1zM44.9 386.2h1v1h-1zM45.7 385.2h1v1h-1zM51.8 392.1h1v1h-1zM54.2 386.5h1v1h-1zM36.8 393.3h1v1h-1zM49.6 391.7h1v1h-1zM43.6 389.0h1v1h-1zM53.7 382.8h1v1h-1zM52.7 383.3h1v1h-1zM50.5 384.9h1v1h-1zM43.7 391.7h1v1h-1zM42.4 391.2h1v1h-1zM47.2 389.0h1v1h-1zM41.5 390.4h1v1h-1zM44.6 387.4h1v1h-1zM50.7 391.8h1v1h-1zM39.6 392.2h1v1h-1zM44.3 388.9h1v1h-1zM51.7 386.9h1v1h-1zM51.6 390.1h1v1h-1zM53.4 386.5h1v1h-1zM51.1 389.8h1v1h-1zM45.7 388.0h1v1h-1zM43.5 393.1h1v1h-1zM47.0 388.9h1v1h-1zM42.4 389.2h1v1h-1zM37.4 390.1h1v1h-1zM40.8 394.2h1v1h-1zM55.6 388.2h1v1h-1zM38.5 392.6h1v1h-1zM43.7 393.8h1v1h-1zM44.5 392.4h1v1h-1zM43.3 393.7h1v1h-1zM56.7 386.7h1v1h-1zM54.1 390.0h1v1h-1zM51.7 390.7h1v1h-1zM44.3 388.4h1v1h-1zM44.6 390.6h1v1h-1zM51.5 390.0h1v1h-1zM45.7 389.5h1v1h-1zM38.7 393.1h1v1h-1zM42.5 389.8h1v1h-1zM47.0 389.6h1v1h-1zM46.4 392.1h1v1h-1zM46.1 393.2h1v1h-1zM47.6 386.9h1v1h-1zM51.1 388.7h1v1h-1zM55.4 382.8h1v1h-1zM42.5 391.5h1v1h-1zM38.8 393.1h1v1h-1zM49.8 384.1h1v1h-1zM47.1 394.2h1v1h-1zM45.0 386.0h1v1h-1zM46.8 385.5h1v1h-1zM50.1 383.1h1v1h-1zM51.3 389.1h1v1h-1zM47.0 381.7h1v1h-1zM58.2 382.9h1v1h-1zM44.7 391.9h1v1h-1zM38.4 390.8h1v1h-1zM48.8 390.1h1v1h-1zM45.6 390.9h1v1h-1zM53.3 386.8h1v1h-1zM55.7 387.7h1v1h-1zM44.7 391.5h1v1h-1zM44.6 390.4h1v1h-1zM51.6 383.5h1v1h-1zM40.3 388.3h1v1h-1zM46.2 384.8h1v1h-1zM47.4 391.3h1v1h-1zM50.9 385.5h1v1h-1zM44.9 389.9h1v1h-1zM47.8 387.8h1v1h-1zM47.4 388.1h1v1h-1zM54.9 386.5h1v1h-1zM40.1 387.5h1v1h-1zM52.3 383.7h1v1h-1zM51.2 385.5h1v1h-1zM42.2 391.1h1v1h-1zM48.6 386.5h1v1h-1zM51.0 390.2h1v1h-1zM44.5 391.1h1v1h-1zM47.3 391.5h1v1h-1zM49.0 388.2h1v1h-1zM52.5 392.1h1v1h-1zM44.2 387.7h1v1h-1zM37.2 389.9h1v1h-1zM48.2 390.2h1v1h-1zM48.3 388.8h1v1h-1zM51.0 383.9h1v1h-1zM51.9 385.9h1v1h-1zM50.6 385.1h1v1h-1zM55.6 390.6h1v1h-1zM49.2 387.9h1v1h-1zM48.5 389.1h1v1h-1zM46.5 387.9h1v1h-1zM48.3 388.1h1v1h-1zM45.6 392.2h1v1h-1zM45.5 391.4h1v1h-1zM58.0 381.6h1v1h-1zM43.8 392.0h1v1h-1zM42.9 393.2h1v1h-1zM45.6 389.9h1v1h-1zM43.2 388.4h1v1h-1zM48.7 382.6h1v1h-1zM39.7 390.4h1v1h-1zM47.1 393.7h1v1h-1zM47.6 393.6h1v1h-1zM44.3 382.3h1v1h-1zM52.4 381.4h1v1h-1zM55.4 389.8h1v1h-1zM49.4 387.6h1v1h-1zM50.8 390.4h1v1h-1zM34.6 388.5h1v1h-1zM53.4 385.3h1v1h-1zM44.6 389.6h1v1h-1zM39.8 389.5h1v1h-1zM48.4 388.9h1v1h-1zM45.2 390.1h1v1h-1zM48.5 389.6h1v1h-1zM52.3 386.1h1v1h-1zM47.8 391.2h1v1h-1zM52.5 382.9h1v1h-1zM53.1 391.8h1v1h-1zM44.5 387.3h1v1h-1zM46.2 385.7h1v1h-1zM44.2 388.0h1v1h-1zM52.8 393.6h1v1h-1zM45.5 390.4h1v1h-1zM45.0 392.6h1v1h-1zM56.0 385.4h1v1h-1zM53.1 390.3h1v1h-1zM50.4 389.7h1v1h-1zM49.4 385.7h1v1h-1zM45.1 390.1h1v1h-1zM42.3 388.0h1v1h-1zM56.3 383.5h1v1h-1zM45.5 391.8h1v1h-1zM45.0 387.4h1v1h-1zM41.8 387.1h1v1h-1zM40.9 391.8h1v1h-1zM52.5 381.4h1v1h-1zM44.4 387.9h1v1h-1zM59.6 380.1h1v1h-1zM35.4 393.4h1v1h-1zM61.3 386.1h1v1h-1zM54.5 391.8h1v1h-1zM56.8 387.2h1v1h-1zM50.7 384.8h1v1h-1zM50.8 391.8h1v1h-1zM48.3 391.3h1v1h-1zM55.1 387.0h1v1h-1zM41.8 389.5h1v1h-1zM54.1 386.4h1v1h-1zM48.4 387.0h1v1h-1zM46.1 393.0h1v1h-1zM50.6 388.5h1v1h-1zM39.2 390.1h1v1h-1zM49.6 387.5h1v1h-1zM43.6 391.2h1v1h-1zM50.1 386.3h1v1h-1zM44.0 393.1h1v1h-1zM49.0 387.6h1v1h-1zM53.2 389.7h1v1h-1zM50.4 382.4h1v1h-1zM52.3 386.3h1v1h-1zM53.6 389.9h1v1h-1z" fill="#151515"/>
<path d="M54.7 357.6h1v1h-1zM51.1 376.9h1v1h-1z" fill="#999"/>
<path d="M37.4 388.2h1v1h-1zM35.3 389.5h1v1h-1zM37.9 392.4h1v1h-1zM35.8 392.5h1v1h-1zM38.5 386.3h1v1h-1zM30.5 391.8h1v1h-1zM36.2 389.2h1v1h-1zM33.4 388.0h1v1h-1zM37.3 392.3h1v1h-1zM34.3 383.9h1v1h-1zM37.0 388.6h1v1h-1zM30.4 386.8h1v1h-1zM35.4 383.6h1v1h-1zM29.7 386.9h1v1h-1z" fill="#555"/>
<rect x="111.30" y="349.20" width="65.40" height="46.40" fill="#fff" stroke="#151515" stroke-width="1.1"/>
<line x1="117.80" y1="349.20" x2="117.80" y2="395.60" stroke="#151515" stroke-width="0.9"/>
<line x1="111.30" y1="382.60" x2="176.70" y2="382.60" stroke="#151515" stroke-width="0.9"/>
<text x="118.2" y="344.4" font-size="8.9" font-weight="bold" text-anchor="start" fill="#151515" stroke="#151515" stroke-width="0.4" stroke-linejoin="round">IL-12+IL-18</text>
<text x="168.2" y="362.4" font-size="9" font-weight="normal" text-anchor="end" fill="#151515" stroke="#151515" stroke-width="0.25" stroke-linejoin="round">5%</text>
<text x="107.39999999999999" y="404.29999999999995" font-size="5.8" font-weight="normal" text-anchor="start" fill="#151515" stroke="#151515" stroke-width="0.3" stroke-linejoin="round">10<tspan dy="-2.4" font-size="4.3">0</tspan><tspan dy="2.4"></tspan></text>
<line x1="111.30" y1="395.60" x2="111.30" y2="397.80" stroke="#151515" stroke-width="0.7"/>
<line x1="109.10" y1="395.60" x2="111.30" y2="395.60" stroke="#151515" stroke-width="0.7"/>
<line x1="116.22" y1="395.60" x2="116.22" y2="397.10" stroke="#151515" stroke-width="0.6"/>
<line x1="109.70" y1="392.11" x2="111.30" y2="392.11" stroke="#151515" stroke-width="0.7"/>
<line x1="119.10" y1="395.60" x2="119.10" y2="397.10" stroke="#151515" stroke-width="0.6"/>
<line x1="109.70" y1="390.07" x2="111.30" y2="390.07" stroke="#151515" stroke-width="0.7"/>
<line x1="121.14" y1="395.60" x2="121.14" y2="397.10" stroke="#151515" stroke-width="0.6"/>
<line x1="109.70" y1="388.62" x2="111.30" y2="388.62" stroke="#151515" stroke-width="0.7"/>
<line x1="122.73" y1="395.60" x2="122.73" y2="397.10" stroke="#151515" stroke-width="0.6"/>
<line x1="109.70" y1="387.49" x2="111.30" y2="387.49" stroke="#151515" stroke-width="0.7"/>
<line x1="124.02" y1="395.60" x2="124.02" y2="397.10" stroke="#151515" stroke-width="0.6"/>
<line x1="109.70" y1="386.57" x2="111.30" y2="386.57" stroke="#151515" stroke-width="0.7"/>
<line x1="125.12" y1="395.60" x2="125.12" y2="397.10" stroke="#151515" stroke-width="0.6"/>
<line x1="109.70" y1="385.80" x2="111.30" y2="385.80" stroke="#151515" stroke-width="0.7"/>
<line x1="126.07" y1="395.60" x2="126.07" y2="397.10" stroke="#151515" stroke-width="0.6"/>
<line x1="109.70" y1="385.12" x2="111.30" y2="385.12" stroke="#151515" stroke-width="0.7"/>
<line x1="126.90" y1="395.60" x2="126.90" y2="397.10" stroke="#151515" stroke-width="0.6"/>
<line x1="109.70" y1="384.53" x2="111.30" y2="384.53" stroke="#151515" stroke-width="0.7"/>
<text x="123.75" y="404.29999999999995" font-size="5.8" font-weight="normal" text-anchor="start" fill="#151515" stroke="#151515" stroke-width="0.3" stroke-linejoin="round">10<tspan dy="-2.4" font-size="4.3">1</tspan><tspan dy="2.4"></tspan></text>
<line x1="127.65" y1="395.60" x2="127.65" y2="397.80" stroke="#151515" stroke-width="0.7"/>
<line x1="109.10" y1="384.00" x2="111.30" y2="384.00" stroke="#151515" stroke-width="0.7"/>
<line x1="132.57" y1="395.60" x2="132.57" y2="397.10" stroke="#151515" stroke-width="0.6"/>
<line x1="109.70" y1="380.51" x2="111.30" y2="380.51" stroke="#151515" stroke-width="0.7"/>
<line x1="135.45" y1="395.60" x2="135.45" y2="397.10" stroke="#151515" stroke-width="0.6"/>
<line x1="109.70" y1="378.47" x2="111.30" y2="378.47" stroke="#151515" stroke-width="0.7"/>
<line x1="137.49" y1="395.60" x2="137.49" y2="397.10" stroke="#151515" stroke-width="0.6"/>
<line x1="109.70" y1="377.02" x2="111.30" y2="377.02" stroke="#151515" stroke-width="0.7"/>
<line x1="139.08" y1="395.60" x2="139.08" y2="397.10" stroke="#151515" stroke-width="0.6"/>
<line x1="109.70" y1="375.89" x2="111.30" y2="375.89" stroke="#151515" stroke-width="0.7"/>
<line x1="140.37" y1="395.60" x2="140.37" y2="397.10" stroke="#151515" stroke-width="0.6"/>
<line x1="109.70" y1="374.97" x2="111.30" y2="374.97" stroke="#151515" stroke-width="0.7"/>
<line x1="141.47" y1="395.60" x2="141.47" y2="397.10" stroke="#151515" stroke-width="0.6"/>
<line x1="109.70" y1="374.20" x2="111.30" y2="374.20" stroke="#151515" stroke-width="0.7"/>
<line x1="142.42" y1="395.60" x2="142.42" y2="397.10" stroke="#151515" stroke-width="0.6"/>
<line x1="109.70" y1="373.52" x2="111.30" y2="373.52" stroke="#151515" stroke-width="0.7"/>
<line x1="143.25" y1="395.60" x2="143.25" y2="397.10" stroke="#151515" stroke-width="0.6"/>
<line x1="109.70" y1="372.93" x2="111.30" y2="372.93" stroke="#151515" stroke-width="0.7"/>
<text x="140.1" y="404.29999999999995" font-size="5.8" font-weight="normal" text-anchor="start" fill="#151515" stroke="#151515" stroke-width="0.3" stroke-linejoin="round">10<tspan dy="-2.4" font-size="4.3">2</tspan><tspan dy="2.4"></tspan></text>
<line x1="144.00" y1="395.60" x2="144.00" y2="397.80" stroke="#151515" stroke-width="0.7"/>
<line x1="109.10" y1="372.40" x2="111.30" y2="372.40" stroke="#151515" stroke-width="0.7"/>
<line x1="148.92" y1="395.60" x2="148.92" y2="397.10" stroke="#151515" stroke-width="0.6"/>
<line x1="109.70" y1="368.91" x2="111.30" y2="368.91" stroke="#151515" stroke-width="0.7"/>
<line x1="151.80" y1="395.60" x2="151.80" y2="397.10" stroke="#151515" stroke-width="0.6"/>
<line x1="109.70" y1="366.87" x2="111.30" y2="366.87" stroke="#151515" stroke-width="0.7"/>
<line x1="153.84" y1="395.60" x2="153.84" y2="397.10" stroke="#151515" stroke-width="0.6"/>
<line x1="109.70" y1="365.42" x2="111.30" y2="365.42" stroke="#151515" stroke-width="0.7"/>
<line x1="155.43" y1="395.60" x2="155.43" y2="397.10" stroke="#151515" stroke-width="0.6"/>
<line x1="109.70" y1="364.29" x2="111.30" y2="364.29" stroke="#151515" stroke-width="0.7"/>
<line x1="156.72" y1="395.60" x2="156.72" y2="397.10" stroke="#151515" stroke-width="0.6"/>
<line x1="109.70" y1="363.37" x2="111.30" y2="363.37" stroke="#151515" stroke-width="0.7"/>
<line x1="157.82" y1="395.60" x2="157.82" y2="397.10" stroke="#151515" stroke-width="0.6"/>
<line x1="109.70" y1="362.60" x2="111.30" y2="362.60" stroke="#151515" stroke-width="0.7"/>
<line x1="158.77" y1="395.60" x2="158.77" y2="397.10" stroke="#151515" stroke-width="0.6"/>
<line x1="109.70" y1="361.92" x2="111.30" y2="361.92" stroke="#151515" stroke-width="0.7"/>
<line x1="159.60" y1="395.60" x2="159.60" y2="397.10" stroke="#151515" stroke-width="0.6"/>
<line x1="109.70" y1="361.33" x2="111.30" y2="361.33" stroke="#151515" stroke-width="0.7"/>
<text x="156.45" y="404.29999999999995" font-size="5.8" font-weight="normal" text-anchor="start" fill="#151515" stroke="#151515" stroke-width="0.3" stroke-linejoin="round">10<tspan dy="-2.4" font-size="4.3">3</tspan><tspan dy="2.4"></tspan></text>
<line x1="160.35" y1="395.60" x2="160.35" y2="397.80" stroke="#151515" stroke-width="0.7"/>
<line x1="109.10" y1="360.80" x2="111.30" y2="360.80" stroke="#151515" stroke-width="0.7"/>
<line x1="165.27" y1="395.60" x2="165.27" y2="397.10" stroke="#151515" stroke-width="0.6"/>
<line x1="109.70" y1="357.31" x2="111.30" y2="357.31" stroke="#151515" stroke-width="0.7"/>
<line x1="168.15" y1="395.60" x2="168.15" y2="397.10" stroke="#151515" stroke-width="0.6"/>
<line x1="109.70" y1="355.27" x2="111.30" y2="355.27" stroke="#151515" stroke-width="0.7"/>
<line x1="170.19" y1="395.60" x2="170.19" y2="397.10" stroke="#151515" stroke-width="0.6"/>
<line x1="109.70" y1="353.82" x2="111.30" y2="353.82" stroke="#151515" stroke-width="0.7"/>
<line x1="171.78" y1="395.60" x2="171.78" y2="397.10" stroke="#151515" stroke-width="0.6"/>
<line x1="109.70" y1="352.69" x2="111.30" y2="352.69" stroke="#151515" stroke-width="0.7"/>
<line x1="173.07" y1="395.60" x2="173.07" y2="397.10" stroke="#151515" stroke-width="0.6"/>
<line x1="109.70" y1="351.77" x2="111.30" y2="351.77" stroke="#151515" stroke-width="0.7"/>
<line x1="174.17" y1="395.60" x2="174.17" y2="397.10" stroke="#151515" stroke-width="0.6"/>
<line x1="109.70" y1="351.00" x2="111.30" y2="351.00" stroke="#151515" stroke-width="0.7"/>
<line x1="175.12" y1="395.60" x2="175.12" y2="397.10" stroke="#151515" stroke-width="0.6"/>
<line x1="109.70" y1="350.32" x2="111.30" y2="350.32" stroke="#151515" stroke-width="0.7"/>
<line x1="175.95" y1="395.60" x2="175.95" y2="397.10" stroke="#151515" stroke-width="0.6"/>
<line x1="109.70" y1="349.73" x2="111.30" y2="349.73" stroke="#151515" stroke-width="0.7"/>
<text x="172.79999999999998" y="404.29999999999995" font-size="5.8" font-weight="normal" text-anchor="start" fill="#151515" stroke="#151515" stroke-width="0.3" stroke-linejoin="round">10<tspan dy="-2.4" font-size="4.3">4</tspan><tspan dy="2.4"></tspan></text>
<line x1="176.70" y1="395.60" x2="176.70" y2="397.80" stroke="#151515" stroke-width="0.7"/>
<line x1="109.10" y1="349.20" x2="111.30" y2="349.20" stroke="#151515" stroke-width="0.7"/>
<text x="104.3" y="398.59999999999997" font-size="5.8" font-weight="normal" text-anchor="start" fill="#151515" stroke="#151515" stroke-width="0.3" stroke-linejoin="round" transform="rotate(-90 104.3 398.59999999999997)">10<tspan dy="-2.4" font-size="4.3">0</tspan><tspan dy="2.4"></tspan></text>
<text x="104.3" y="353.2" font-size="5.8" font-weight="normal" text-anchor="start" fill="#151515" stroke="#151515" stroke-width="0.3" stroke-linejoin="round" transform="rotate(-90 104.3 353.2)">10<tspan dy="-2.4" font-size="4.3">4</tspan><tspan dy="2.4"></tspan></text>
<ellipse cx="130.0" cy="388.4" rx="10.4" ry="4.8" transform="rotate(-20 130.0 388.4)" fill="#151515"/>
<path d="M143.4 386.0h1v1h-1zM131.9 387.2h1v1h-1zM136.1 391.3h1v1h-1zM128.7 391.7h1v1h-1zM125.2 393.2h1v1h-1zM127.6 390.3h1v1h-1zM124.6 388.8h1v1h-1zM136.9 387.3h1v1h-1zM125.7 389.0h1v1h-1zM131.2 387.8h1v1h-1zM125.2 389.4h1v1h-1zM120.0 386.7h1v1h-1zM123.4 391.5h1v1h-1zM129.8 387.7h1v1h-1zM128.1 387.3h1v1h-1zM129.1 390.8h1v1h-1zM138.8 389.3h1v1h-1zM132.8 393.8h1v1h-1zM118.2 384.5h1v1h-1zM133.3 387.7h1v1h-1zM132.1 393.5h1v1h-1zM123.2 389.8h1v1h-1zM117.6 392.4h1v1h-1zM119.9 392.1h1v1h-1zM121.3 385.5h1v1h-1zM135.6 388.8h1v1h-1zM130.3 392.5h1v1h-1zM129.8 385.3h1v1h-1zM129.7 390.6h1v1h-1zM134.1 388.5h1v1h-1zM134.5 388.4h1v1h-1zM138.6 386.8h1v1h-1zM123.5 390.9h1v1h-1zM127.1 393.4h1v1h-1zM127.9 386.9h1v1h-1zM117.7 393.5h1v1h-1zM128.8 389.9h1v1h-1zM135.4 391.8h1v1h-1zM133.4 388.5h1v1h-1zM130.3 389.6h1v1h-1zM128.3 391.4h1v1h-1zM129.2 381.3h1v1h-1zM134.2 384.1h1v1h-1zM133.2 389.4h1v1h-1zM130.4 380.9h1v1h-1zM121.6 388.7h1v1h-1zM134.8 386.0h1v1h-1zM132.2 382.7h1v1h-1zM140.1 380.2h1v1h-1zM138.3 384.4h1v1h-1zM134.0 386.6h1v1h-1zM131.9 389.7h1v1h-1zM131.7 382.6h1v1h-1zM128.6 388.2h1v1h-1zM133.1 387.4h1v1h-1zM134.6 386.0h1v1h-1zM133.0 385.1h1v1h-1zM135.5 385.6h1v1h-1zM132.8 393.4h1v1h-1zM138.5 388.9h1v1h-1zM136.9 390.3h1v1h-1zM126.1 389.4h1v1h-1zM128.4 391.7h1v1h-1zM133.9 384.6h1v1h-1zM132.4 388.9h1v1h-1zM126.0 391.7h1v1h-1zM127.1 389.7h1v1h-1zM134.3 387.6h1v1h-1zM126.4 392.1h1v1h-1zM136.7 385.4h1v1h-1zM130.9 387.1h1v1h-1zM133.0 386.9h1v1h-1zM135.3 383.5h1v1h-1zM147.4 386.8h1v1h-1zM129.4 384.7h1v1h-1zM128.4 384.1h1v1h-1zM129.8 391.2h1v1h-1zM123.5 388.7h1v1h-1zM131.4 387.8h1v1h-1zM127.5 388.3h1v1h-1zM130.2 391.0h1v1h-1zM132.3 386.2h1v1h-1zM129.6 386.0h1v1h-1zM124.2 391.0h1v1h-1zM125.6 385.1h1v1h-1zM130.2 380.5h1v1h-1zM138.9 386.5h1v1h-1zM123.5 389.0h1v1h-1zM128.7 389.5h1v1h-1zM123.6 388.5h1v1h-1zM130.5 386.7h1v1h-1zM132.7 390.7h1v1h-1zM118.3 393.7h1v1h-1zM127.2 391.4h1v1h-1zM135.3 386.8h1v1h-1zM137.9 384.9h1v1h-1zM133.1 385.4h1v1h-1zM135.8 390.9h1v1h-1zM135.7 385.9h1v1h-1zM124.0 388.3h1v1h-1zM130.3 383.5h1v1h-1zM133.5 385.8h1v1h-1zM119.2 386.2h1v1h-1zM137.1 383.0h1v1h-1zM131.0 383.5h1v1h-1zM124.5 387.8h1v1h-1zM131.3 391.6h1v1h-1zM131.6 386.5h1v1h-1zM138.0 382.0h1v1h-1zM129.8 389.2h1v1h-1zM130.3 392.5h1v1h-1zM125.3 387.0h1v1h-1zM132.2 390.4h1v1h-1zM124.2 391.2h1v1h-1zM139.9 386.7h1v1h-1zM140.2 387.6h1v1h-1zM128.0 386.6h1v1h-1zM125.8 389.7h1v1h-1zM121.9 388.9h1v1h-1zM137.0 388.2h1v1h-1zM131.5 389.4h1v1h-1zM115.2 383.7h1v1h-1zM132.4 384.5h1v1h-1zM131.9 387.1h1v1h-1zM144.9 389.7h1v1h-1zM128.8 390.4h1v1h-1zM128.1 386.5h1v1h-1zM127.7 394.1h1v1h-1zM123.4 389.1h1v1h-1zM134.2 383.9h1v1h-1zM139.2 387.0h1v1h-1zM134.5 384.2h1v1h-1zM130.0 391.2h1v1h-1zM135.5 388.9h1v1h-1zM129.6 392.1h1v1h-1zM139.5 385.2h1v1h-1zM127.6 390.2h1v1h-1zM128.7 388.6h1v1h-1zM131.4 383.9h1v1h-1zM124.4 390.0h1v1h-1zM129.6 392.5h1v1h-1zM134.9 387.4h1v1h-1zM131.5 393.2h1v1h-1zM129.5 383.5h1v1h-1zM122.5 388.0h1v1h-1zM137.8 386.3h1v1h-1zM135.9 386.0h1v1h-1zM142.5 382.9h1v1h-1zM130.7 393.1h1v1h-1zM140.6 388.8h1v1h-1zM136.7 382.0h1v1h-1zM131.2 390.4h1v1h-1zM131.3 392.8h1v1h-1zM131.5 381.7h1v1h-1zM133.6 383.2h1v1h-1zM125.9 388.8h1v1h-1zM125.0 391.9h1v1h-1zM131.0 378.8h1v1h-1zM130.3 388.2h1v1h-1zM119.6 391.5h1v1h-1zM121.8 390.9h1v1h-1zM127.0 387.0h1v1h-1zM128.7 388.9h1v1h-1zM136.9 382.9h1v1h-1zM132.4 382.1h1v1h-1zM132.3 391.2h1v1h-1zM132.4 389.0h1v1h-1zM131.8 384.7h1v1h-1zM125.4 389.4h1v1h-1zM136.7 385.6h1v1h-1zM135.3 387.2h1v1h-1zM125.1 391.0h1v1h-1zM119.0 389.8h1v1h-1zM125.6 385.0h1v1h-1zM123.2 390.4h1v1h-1zM132.1 388.4h1v1h-1zM133.0 390.1h1v1h-1zM127.9 392.2h1v1h-1zM131.7 389.1h1v1h-1zM127.3 392.1h1v1h-1zM120.1 393.4h1v1h-1zM133.8 392.0h1v1h-1zM127.8 386.7h1v1h-1zM126.0 389.1h1v1h-1zM124.7 381.2h1v1h-1zM136.2 381.8h1v1h-1zM125.5 387.6h1v1h-1zM128.7 387.5h1v1h-1zM126.7 389.0h1v1h-1zM125.5 389.0h1v1h-1zM141.2 389.4h1v1h-1zM122.2 389.4h1v1h-1zM134.8 388.1h1v1h-1zM132.7 385.8h1v1h-1zM131.3 382.8h1v1h-1zM125.7 387.5h1v1h-1zM131.9 390.3h1v1h-1zM134.3 391.7h1v1h-1zM120.6 387.8h1v1h-1zM121.9 385.0h1v1h-1zM136.3 388.1h1v1h-1zM131.6 394.0h1v1h-1zM140.6 390.8h1v1h-1zM126.5 384.7h1v1h-1zM128.5 392.0h1v1h-1zM126.9 388.1h1v1h-1zM135.1 387.4h1v1h-1zM118.4 391.5h1v1h-1zM132.5 378.9h1v1h-1zM130.7 387.5h1v1h-1zM126.1 387.0h1v1h-1zM140.9 388.2h1v1h-1zM131.7 391.7h1v1h-1zM126.4 390.4h1v1h-1zM133.7 390.2h1v1h-1zM126.7 384.5h1v1h-1zM131.9 385.1h1v1h-1zM132.4 388.3h1v1h-1zM131.7 385.9h1v1h-1zM128.7 385.0h1v1h-1zM128.9 385.4h1v1h-1zM129.2 386.0h1v1h-1zM126.9 391.6h1v1h-1zM122.1 386.8h1v1h-1zM132.5 386.7h1v1h-1zM134.4 389.9h1v1h-1zM131.1 389.9h1v1h-1zM120.1 393.0h1v1h-1zM123.5 385.4h1v1h-1zM126.6 392.0h1v1h-1zM135.4 386.5h1v1h-1zM122.4 390.3h1v1h-1zM123.8 384.3h1v1h-1zM125.1 393.0h1v1h-1zM140.4 385.1h1v1h-1zM124.3 389.4h1v1h-1zM128.4 389.1h1v1h-1zM141.2 376.7h1v1h-1zM136.8 379.7h1v1h-1zM133.6 385.6h1v1h-1zM130.4 388.7h1v1h-1zM133.2 385.1h1v1h-1zM130.8 386.3h1v1h-1zM129.3 390.1h1v1h-1zM138.0 386.5h1v1h-1zM140.2 382.3h1v1h-1zM129.0 384.6h1v1h-1zM127.5 390.0h1v1h-1zM128.1 389.1h1v1h-1zM131.2 380.1h1v1h-1zM134.2 390.9h1v1h-1zM132.9 384.0h1v1h-1zM131.4 386.6h1v1h-1zM132.4 385.9h1v1h-1zM133.3 386.4h1v1h-1zM123.4 387.3h1v1h-1zM139.3 391.2h1v1h-1zM130.1 392.7h1v1h-1zM133.1 388.4h1v1h-1zM136.5 381.9h1v1h-1zM128.0 390.9h1v1h-1zM126.1 387.7h1v1h-1zM124.3 388.8h1v1h-1zM121.0 387.7h1v1h-1zM134.0 391.3h1v1h-1zM125.5 389.5h1v1h-1zM129.3 383.0h1v1h-1zM129.2 393.8h1v1h-1zM136.4 385.2h1v1h-1zM130.3 386.0h1v1h-1zM124.0 393.1h1v1h-1zM129.5 392.6h1v1h-1zM138.2 383.5h1v1h-1zM136.5 392.3h1v1h-1zM129.0 389.4h1v1h-1zM130.3 386.6h1v1h-1zM126.7 393.1h1v1h-1zM132.5 379.0h1v1h-1zM141.8 385.2h1v1h-1zM125.4 389.4h1v1h-1zM130.4 381.6h1v1h-1zM129.6 391.4h1v1h-1zM136.6 388.7h1v1h-1zM124.6 388.4h1v1h-1zM130.2 392.3h1v1h-1zM129.0 390.3h1v1h-1zM129.6 391.3h1v1h-1zM133.6 388.5h1v1h-1zM125.4 386.1h1v1h-1zM124.0 387.8h1v1h-1zM133.6 388.2h1v1h-1zM132.9 392.9h1v1h-1zM132.6 391.4h1v1h-1zM124.9 389.3h1v1h-1zM125.8 389.5h1v1h-1zM131.0 384.2h1v1h-1zM130.9 384.2h1v1h-1zM126.3 391.2h1v1h-1zM132.1 383.2h1v1h-1zM133.1 389.3h1v1h-1zM125.3 393.7h1v1h-1zM137.3 389.4h1v1h-1zM127.9 386.8h1v1h-1zM133.2 389.9h1v1h-1zM140.6 383.9h1v1h-1zM130.5 385.2h1v1h-1zM127.4 386.8h1v1h-1zM130.3 391.6h1v1h-1zM124.3 389.1h1v1h-1zM130.7 388.8h1v1h-1zM127.8 390.1h1v1h-1zM133.0 383.2h1v1h-1zM128.3 388.1h1v1h-1zM127.2 392.8h1v1h-1zM136.2 393.9h1v1h-1zM131.8 385.2h1v1h-1zM142.6 385.7h1v1h-1zM130.7 382.7h1v1h-1zM136.2 389.6h1v1h-1zM129.4 392.9h1v1h-1zM129.5 386.0h1v1h-1zM136.7 383.9h1v1h-1zM133.6 383.2h1v1h-1zM124.7 387.8h1v1h-1zM135.5 387.1h1v1h-1zM124.6 389.8h1v1h-1zM130.0 385.8h1v1h-1zM120.7 393.2h1v1h-1zM139.4 380.2h1v1h-1zM129.5 389.7h1v1h-1zM129.7 392.1h1v1h-1zM127.6 389.4h1v1h-1zM123.6 391.0h1v1h-1zM133.0 392.1h1v1h-1zM130.0 387.6h1v1h-1zM127.1 389.2h1v1h-1zM132.2 385.1h1v1h-1zM123.2 392.1h1v1h-1zM134.6 383.9h1v1h-1zM135.9 383.4h1v1h-1zM127.0 388.7h1v1h-1zM125.5 385.0h1v1h-1zM116.8 391.7h1v1h-1zM126.1 387.2h1v1h-1zM137.2 388.1h1v1h-1zM136.1 382.2h1v1h-1zM119.3 385.5h1v1h-1zM135.9 388.9h1v1h-1zM131.3 388.1h1v1h-1zM122.6 385.2h1v1h-1zM137.9 385.2h1v1h-1zM138.5 385.3h1v1h-1zM131.8 388.9h1v1h-1zM123.3 392.1h1v1h-1zM124.4 388.9h1v1h-1zM131.5 390.0h1v1h-1zM136.5 384.7h1v1h-1zM140.3 386.1h1v1h-1zM128.8 391.6h1v1h-1zM131.5 388.5h1v1h-1zM128.1 382.6h1v1h-1zM135.0 388.9h1v1h-1zM132.5 388.5h1v1h-1zM128.6 389.7h1v1h-1zM129.6 386.2h1v1h-1zM135.4 386.3h1v1h-1zM125.6 390.0h1v1h-1zM129.3 389.6h1v1h-1zM123.6 391.2h1v1h-1zM118.7 387.8h1v1h-1zM133.1 384.5h1v1h-1zM124.7 389.4h1v1h-1zM137.2 386.6h1v1h-1zM124.4 390.9h1v1h-1zM116.7 389.8h1v1h-1zM134.0 392.0h1v1h-1zM132.4 383.3h1v1h-1zM132.7 385.0h1v1h-1zM138.0 384.6h1v1h-1zM137.8 386.3h1v1h-1zM126.7 390.8h1v1h-1zM123.9 389.2h1v1h-1zM125.8 388.6h1v1h-1zM129.8 382.5h1v1h-1zM140.2 386.7h1v1h-1zM129.3 389.3h1v1h-1zM124.5 383.7h1v1h-1zM136.9 386.7h1v1h-1zM123.3 393.2h1v1h-1zM128.3 383.2h1v1h-1zM121.4 386.2h1v1h-1zM121.9 390.1h1v1h-1zM133.0 381.5h1v1h-1zM133.5 384.1h1v1h-1zM117.8 381.6h1v1h-1zM132.6 380.9h1v1h-1zM128.0 381.6h1v1h-1zM132.2 383.0h1v1h-1zM131.2 382.6h1v1h-1zM140.4 380.0h1v1h-1zM131.3 379.8h1v1h-1zM134.7 379.6h1v1h-1zM126.8 381.6h1v1h-1zM134.4 380.7h1v1h-1zM130.6 382.3h1v1h-1zM130.9 379.3h1v1h-1zM124.0 384.1h1v1h-1zM124.0 384.4h1v1h-1zM136.3 378.0h1v1h-1zM132.5 381.1h1v1h-1zM136.9 379.2h1v1h-1zM118.7 382.7h1v1h-1zM142.2 380.9h1v1h-1zM126.5 382.8h1v1h-1zM137.8 381.4h1v1h-1zM132.1 379.5h1v1h-1zM130.9 381.4h1v1h-1zM124.9 383.9h1v1h-1zM135.4 382.9h1v1h-1zM135.3 379.1h1v1h-1zM137.5 381.1h1v1h-1zM125.9 381.7h1v1h-1z" fill="#151515"/>
<path d="M128.1 376.7h1v1h-1zM123.0 372.6h1v1h-1zM133.1 378.5h1v1h-1zM124.0 376.1h1v1h-1zM132.9 381.0h1v1h-1zM135.0 372.5h1v1h-1zM128.2 378.9h1v1h-1zM122.6 372.0h1v1h-1zM137.1 372.2h1v1h-1zM127.7 381.0h1v1h-1zM131.7 378.2h1v1h-1zM134.2 377.2h1v1h-1zM136.7 364.3h1v1h-1zM130.5 378.2h1v1h-1zM120.5 376.8h1v1h-1zM134.5 377.5h1v1h-1zM137.6 374.8h1v1h-1zM128.0 369.6h1v1h-1zM134.9 383.9h1v1h-1zM130.0 381.1h1v1h-1zM132.0 371.9h1v1h-1zM131.0 372.4h1v1h-1zM136.7 373.1h1v1h-1zM127.6 380.2h1v1h-1zM136.4 361.4h1v1h-1zM132.2 370.7h1v1h-1zM129.5 377.2h1v1h-1zM137.0 374.1h1v1h-1zM133.7 371.6h1v1h-1zM137.8 369.5h1v1h-1zM132.7 374.4h1v1h-1zM130.7 367.5h1v1h-1zM141.9 378.6h1v1h-1zM137.2 376.8h1v1h-1zM130.3 375.3h1v1h-1zM131.1 375.5h1v1h-1zM130.4 363.1h1v1h-1zM126.8 378.6h1v1h-1zM129.7 372.7h1v1h-1zM127.5 374.6h1v1h-1zM133.4 361.1h1v1h-1zM135.6 372.0h1v1h-1zM133.4 361.8h1v1h-1zM132.5 376.8h1v1h-1zM130.3 375.7h1v1h-1zM136.6 377.1h1v1h-1zM130.5 373.6h1v1h-1zM129.1 370.2h1v1h-1zM131.3 370.3h1v1h-1zM135.1 363.2h1v1h-1zM140.2 375.0h1v1h-1zM127.4 381.3h1v1h-1zM134.9 368.8h1v1h-1zM132.9 372.8h1v1h-1zM139.3 365.2h1v1h-1zM133.9 368.7h1v1h-1zM126.7 368.0h1v1h-1zM141.6 368.7h1v1h-1zM131.2 366.0h1v1h-1zM130.9 372.7h1v1h-1z" fill="#444"/>
<path d="M117.6 387.4h1v1h-1zM116.0 389.4h1v1h-1zM112.7 384.4h1v1h-1zM115.9 386.9h1v1h-1zM114.2 389.3h1v1h-1zM117.4 390.7h1v1h-1zM115.3 391.1h1v1h-1zM114.6 387.9h1v1h-1zM115.8 386.0h1v1h-1zM112.5 386.7h1v1h-1zM115.9 391.3h1v1h-1zM117.6 391.0h1v1h-1zM114.3 387.4h1v1h-1zM117.8 390.2h1v1h-1zM117.9 387.8h1v1h-1zM113.5 386.8h1v1h-1zM115.1 391.1h1v1h-1zM114.7 385.3h1v1h-1zM115.7 389.7h1v1h-1zM116.6 393.1h1v1h-1zM116.3 385.0h1v1h-1zM112.7 392.3h1v1h-1zM113.3 389.6h1v1h-1zM117.3 386.2h1v1h-1zM116.9 388.1h1v1h-1zM113.4 386.2h1v1h-1zM115.7 387.9h1v1h-1zM117.9 391.8h1v1h-1zM114.9 389.7h1v1h-1zM115.7 386.1h1v1h-1zM113.7 394.2h1v1h-1zM121.6 392.7h1v1h-1zM114.0 385.3h1v1h-1zM113.3 386.9h1v1h-1zM116.6 383.7h1v1h-1zM116.5 391.2h1v1h-1zM120.6 385.7h1v1h-1z" fill="#555"/>
<rect x="198.80" y="350.20" width="65.40" height="46.40" fill="#fff" stroke="#151515" stroke-width="1.1"/>
<line x1="205.20" y1="350.20" x2="205.20" y2="396.60" stroke="#151515" stroke-width="0.9"/>
<line x1="198.80" y1="384.50" x2="264.20" y2="384.50" stroke="#151515" stroke-width="0.9"/>
<text x="202.4" y="345.4" font-size="8.9" font-weight="bold" text-anchor="start" fill="#151515" stroke="#151515" stroke-width="0.4" stroke-linejoin="round">IL-12+IL-36<tspan font-weight="bold">β</tspan></text>
<text x="257.2" y="363.4" font-size="9" font-weight="normal" text-anchor="end" fill="#151515" stroke="#151515" stroke-width="0.25" stroke-linejoin="round">13.4%</text>
<text x="194.9" y="405.29999999999995" font-size="5.8" font-weight="normal" text-anchor="start" fill="#151515" stroke="#151515" stroke-width="0.3" stroke-linejoin="round">10<tspan dy="-2.4" font-size="4.3">0</tspan><tspan dy="2.4"></tspan></text>
<line x1="198.80" y1="396.60" x2="198.80" y2="398.80" stroke="#151515" stroke-width="0.7"/>
<line x1="196.60" y1="396.60" x2="198.80" y2="396.60" stroke="#151515" stroke-width="0.7"/>
<line x1="203.72" y1="396.60" x2="203.72" y2="398.10" stroke="#151515" stroke-width="0.6"/>
<line x1="197.20" y1="393.11" x2="198.80" y2="393.11" stroke="#151515" stroke-width="0.7"/>
<line x1="206.60" y1="396.60" x2="206.60" y2="398.10" stroke="#151515" stroke-width="0.6"/>
<line x1="197.20" y1="391.07" x2="198.80" y2="391.07" stroke="#151515" stroke-width="0.7"/>
<line x1="208.64" y1="396.60" x2="208.64" y2="398.10" stroke="#151515" stroke-width="0.6"/>
<line x1="197.20" y1="389.62" x2="198.80" y2="389.62" stroke="#151515" stroke-width="0.7"/>
<line x1="210.23" y1="396.60" x2="210.23" y2="398.10" stroke="#151515" stroke-width="0.6"/>
<line x1="197.20" y1="388.49" x2="198.80" y2="388.49" stroke="#151515" stroke-width="0.7"/>
<line x1="211.52" y1="396.60" x2="211.52" y2="398.10" stroke="#151515" stroke-width="0.6"/>
<line x1="197.20" y1="387.57" x2="198.80" y2="387.57" stroke="#151515" stroke-width="0.7"/>
<line x1="212.62" y1="396.60" x2="212.62" y2="398.10" stroke="#151515" stroke-width="0.6"/>
<line x1="197.20" y1="386.80" x2="198.80" y2="386.80" stroke="#151515" stroke-width="0.7"/>
<line x1="213.57" y1="396.60" x2="213.57" y2="398.10" stroke="#151515" stroke-width="0.6"/>
<line x1="197.20" y1="386.12" x2="198.80" y2="386.12" stroke="#151515" stroke-width="0.7"/>
<line x1="214.40" y1="396.60" x2="214.40" y2="398.10" stroke="#151515" stroke-width="0.6"/>
<line x1="197.20" y1="385.53" x2="198.80" y2="385.53" stroke="#151515" stroke-width="0.7"/>
<text x="211.25" y="405.29999999999995" font-size="5.8" font-weight="normal" text-anchor="start" fill="#151515" stroke="#151515" stroke-width="0.3" stroke-linejoin="round">10<tspan dy="-2.4" font-size="4.3">1</tspan><tspan dy="2.4"></tspan></text>
<line x1="215.15" y1="396.60" x2="215.15" y2="398.80" stroke="#151515" stroke-width="0.7"/>
<line x1="196.60" y1="385.00" x2="198.80" y2="385.00" stroke="#151515" stroke-width="0.7"/>
<line x1="220.07" y1="396.60" x2="220.07" y2="398.10" stroke="#151515" stroke-width="0.6"/>
<line x1="197.20" y1="381.51" x2="198.80" y2="381.51" stroke="#151515" stroke-width="0.7"/>
<line x1="222.95" y1="396.60" x2="222.95" y2="398.10" stroke="#151515" stroke-width="0.6"/>
<line x1="197.20" y1="379.47" x2="198.80" y2="379.47" stroke="#151515" stroke-width="0.7"/>
<line x1="224.99" y1="396.60" x2="224.99" y2="398.10" stroke="#151515" stroke-width="0.6"/>
<line x1="197.20" y1="378.02" x2="198.80" y2="378.02" stroke="#151515" stroke-width="0.7"/>
<line x1="226.58" y1="396.60" x2="226.58" y2="398.10" stroke="#151515" stroke-width="0.6"/>
<line x1="197.20" y1="376.89" x2="198.80" y2="376.89" stroke="#151515" stroke-width="0.7"/>
<line x1="227.87" y1="396.60" x2="227.87" y2="398.10" stroke="#151515" stroke-width="0.6"/>
<line x1="197.20" y1="375.97" x2="198.80" y2="375.97" stroke="#151515" stroke-width="0.7"/>
<line x1="228.97" y1="396.60" x2="228.97" y2="398.10" stroke="#151515" stroke-width="0.6"/>
<line x1="197.20" y1="375.20" x2="198.80" y2="375.20" stroke="#151515" stroke-width="0.7"/>
<line x1="229.92" y1="396.60" x2="229.92" y2="398.10" stroke="#151515" stroke-width="0.6"/>
<line x1="197.20" y1="374.52" x2="198.80" y2="374.52" stroke="#151515" stroke-width="0.7"/>
<line x1="230.75" y1="396.60" x2="230.75" y2="398.10" stroke="#151515" stroke-width="0.6"/>
<line x1="197.20" y1="373.93" x2="198.80" y2="373.93" stroke="#151515" stroke-width="0.7"/>
<text x="227.6" y="405.29999999999995" font-size="5.8" font-weight="normal" text-anchor="start" fill="#151515" stroke="#151515" stroke-width="0.3" stroke-linejoin="round">10<tspan dy="-2.4" font-size="4.3">2</tspan><tspan dy="2.4"></tspan></text>
<line x1="231.50" y1="396.60" x2="231.50" y2="398.80" stroke="#151515" stroke-width="0.7"/>
<line x1="196.60" y1="373.40" x2="198.80" y2="373.40" stroke="#151515" stroke-width="0.7"/>
<line x1="236.42" y1="396.60" x2="236.42" y2="398.10" stroke="#151515" stroke-width="0.6"/>
<line x1="197.20" y1="369.91" x2="198.80" y2="369.91" stroke="#151515" stroke-width="0.7"/>
<line x1="239.30" y1="396.60" x2="239.30" y2="398.10" stroke="#151515" stroke-width="0.6"/>
<line x1="197.20" y1="367.87" x2="198.80" y2="367.87" stroke="#151515" stroke-width="0.7"/>
<line x1="241.34" y1="396.60" x2="241.34" y2="398.10" stroke="#151515" stroke-width="0.6"/>
<line x1="197.20" y1="366.42" x2="198.80" y2="366.42" stroke="#151515" stroke-width="0.7"/>
<line x1="242.93" y1="396.60" x2="242.93" y2="398.10" stroke="#151515" stroke-width="0.6"/>
<line x1="197.20" y1="365.29" x2="198.80" y2="365.29" stroke="#151515" stroke-width="0.7"/>
<line x1="244.22" y1="396.60" x2="244.22" y2="398.10" stroke="#151515" stroke-width="0.6"/>
<line x1="197.20" y1="364.37" x2="198.80" y2="364.37" stroke="#151515" stroke-width="0.7"/>
<line x1="245.32" y1="396.60" x2="245.32" y2="398.10" stroke="#151515" stroke-width="0.6"/>
<line x1="197.20" y1="363.60" x2="198.80" y2="363.60" stroke="#151515" stroke-width="0.7"/>
<line x1="246.27" y1="396.60" x2="246.27" y2="398.10" stroke="#151515" stroke-width="0.6"/>
<line x1="197.20" y1="362.92" x2="198.80" y2="362.92" stroke="#151515" stroke-width="0.7"/>
<line x1="247.10" y1="396.60" x2="247.10" y2="398.10" stroke="#151515" stroke-width="0.6"/>
<line x1="197.20" y1="362.33" x2="198.80" y2="362.33" stroke="#151515" stroke-width="0.7"/>
<text x="243.95000000000002" y="405.29999999999995" font-size="5.8" font-weight="normal" text-anchor="start" fill="#151515" stroke="#151515" stroke-width="0.3" stroke-linejoin="round">10<tspan dy="-2.4" font-size="4.3">3</tspan><tspan dy="2.4"></tspan></text>
<line x1="247.85" y1="396.60" x2="247.85" y2="398.80" stroke="#151515" stroke-width="0.7"/>
<line x1="196.60" y1="361.80" x2="198.80" y2="361.80" stroke="#151515" stroke-width="0.7"/>
<line x1="252.77" y1="396.60" x2="252.77" y2="398.10" stroke="#151515" stroke-width="0.6"/>
<line x1="197.20" y1="358.31" x2="198.80" y2="358.31" stroke="#151515" stroke-width="0.7"/>
<line x1="255.65" y1="396.60" x2="255.65" y2="398.10" stroke="#151515" stroke-width="0.6"/>
<line x1="197.20" y1="356.27" x2="198.80" y2="356.27" stroke="#151515" stroke-width="0.7"/>
<line x1="257.69" y1="396.60" x2="257.69" y2="398.10" stroke="#151515" stroke-width="0.6"/>
<line x1="197.20" y1="354.82" x2="198.80" y2="354.82" stroke="#151515" stroke-width="0.7"/>
<line x1="259.28" y1="396.60" x2="259.28" y2="398.10" stroke="#151515" stroke-width="0.6"/>
<line x1="197.20" y1="353.69" x2="198.80" y2="353.69" stroke="#151515" stroke-width="0.7"/>
<line x1="260.57" y1="396.60" x2="260.57" y2="398.10" stroke="#151515" stroke-width="0.6"/>
<line x1="197.20" y1="352.77" x2="198.80" y2="352.77" stroke="#151515" stroke-width="0.7"/>
<line x1="261.67" y1="396.60" x2="261.67" y2="398.10" stroke="#151515" stroke-width="0.6"/>
<line x1="197.20" y1="352.00" x2="198.80" y2="352.00" stroke="#151515" stroke-width="0.7"/>
<line x1="262.62" y1="396.60" x2="262.62" y2="398.10" stroke="#151515" stroke-width="0.6"/>
<line x1="197.20" y1="351.32" x2="198.80" y2="351.32" stroke="#151515" stroke-width="0.7"/>
<line x1="263.45" y1="396.60" x2="263.45" y2="398.10" stroke="#151515" stroke-width="0.6"/>
<line x1="197.20" y1="350.73" x2="198.80" y2="350.73" stroke="#151515" stroke-width="0.7"/>
<text x="260.30000000000007" y="405.29999999999995" font-size="5.8" font-weight="normal" text-anchor="start" fill="#151515" stroke="#151515" stroke-width="0.3" stroke-linejoin="round">10<tspan dy="-2.4" font-size="4.3">4</tspan><tspan dy="2.4"></tspan></text>
<line x1="264.20" y1="396.60" x2="264.20" y2="398.80" stroke="#151515" stroke-width="0.7"/>
<line x1="196.60" y1="350.20" x2="198.80" y2="350.20" stroke="#151515" stroke-width="0.7"/>
<text x="191.8" y="399.59999999999997" font-size="5.8" font-weight="normal" text-anchor="start" fill="#151515" stroke="#151515" stroke-width="0.3" stroke-linejoin="round" transform="rotate(-90 191.8 399.59999999999997)">10<tspan dy="-2.4" font-size="4.3">0</tspan><tspan dy="2.4"></tspan></text>
<text x="191.8" y="354.2" font-size="5.8" font-weight="normal" text-anchor="start" fill="#151515" stroke="#151515" stroke-width="0.3" stroke-linejoin="round" transform="rotate(-90 191.8 354.2)">10<tspan dy="-2.4" font-size="4.3">4</tspan><tspan dy="2.4"></tspan></text>
<ellipse cx="220.1" cy="389.2" rx="9.8" ry="4.0" transform="rotate(-26 220.1 389.2)" fill="#151515"/>
<path d="M219.0 385.7h1v1h-1zM214.3 388.8h1v1h-1zM219.2 390.5h1v1h-1zM229.1 384.3h1v1h-1zM219.0 387.4h1v1h-1zM225.6 386.6h1v1h-1zM224.2 390.3h1v1h-1zM218.9 391.2h1v1h-1zM212.5 393.7h1v1h-1zM219.7 390.4h1v1h-1zM222.1 392.5h1v1h-1zM219.4 388.8h1v1h-1zM224.8 389.6h1v1h-1zM211.8 389.7h1v1h-1zM208.4 392.3h1v1h-1zM222.1 389.2h1v1h-1zM221.7 386.7h1v1h-1zM225.5 387.3h1v1h-1zM218.0 392.2h1v1h-1zM215.4 391.6h1v1h-1zM214.9 388.3h1v1h-1zM232.4 390.9h1v1h-1zM219.4 391.2h1v1h-1zM230.6 390.4h1v1h-1zM226.2 388.6h1v1h-1zM220.2 391.3h1v1h-1zM224.6 390.6h1v1h-1zM219.3 388.5h1v1h-1zM232.1 391.1h1v1h-1zM226.3 383.1h1v1h-1zM217.4 389.6h1v1h-1zM215.8 386.0h1v1h-1zM221.4 389.3h1v1h-1zM219.2 390.3h1v1h-1zM220.4 391.9h1v1h-1zM232.5 389.3h1v1h-1zM218.9 388.6h1v1h-1zM219.3 390.1h1v1h-1zM220.5 385.9h1v1h-1zM218.4 391.2h1v1h-1zM228.8 383.2h1v1h-1zM212.4 385.5h1v1h-1zM224.6 388.9h1v1h-1zM214.0 391.2h1v1h-1zM217.4 393.9h1v1h-1zM214.5 393.6h1v1h-1zM226.0 387.7h1v1h-1zM212.2 390.9h1v1h-1zM219.4 386.9h1v1h-1zM226.1 386.8h1v1h-1zM219.5 389.7h1v1h-1zM213.8 390.1h1v1h-1zM226.5 385.5h1v1h-1zM219.3 390.4h1v1h-1zM217.3 393.1h1v1h-1zM219.2 392.3h1v1h-1zM220.0 394.3h1v1h-1zM221.7 388.2h1v1h-1zM218.7 386.4h1v1h-1zM217.2 392.2h1v1h-1zM216.5 388.9h1v1h-1zM214.4 388.8h1v1h-1zM217.5 387.5h1v1h-1zM220.5 389.7h1v1h-1zM213.8 394.5h1v1h-1zM218.0 388.1h1v1h-1zM222.2 390.4h1v1h-1zM220.8 385.7h1v1h-1zM219.9 390.7h1v1h-1zM217.2 388.0h1v1h-1zM223.9 390.3h1v1h-1zM222.5 389.6h1v1h-1zM214.9 387.8h1v1h-1zM225.0 389.1h1v1h-1zM219.9 387.7h1v1h-1zM217.2 391.0h1v1h-1zM225.6 392.3h1v1h-1zM220.8 386.5h1v1h-1zM224.2 391.5h1v1h-1zM222.7 390.7h1v1h-1zM222.1 386.3h1v1h-1zM222.1 390.7h1v1h-1zM216.2 388.4h1v1h-1zM215.1 390.0h1v1h-1zM222.9 388.7h1v1h-1zM231.6 383.4h1v1h-1zM233.0 389.3h1v1h-1zM208.0 392.0h1v1h-1zM223.6 388.5h1v1h-1zM222.2 394.3h1v1h-1zM218.4 393.4h1v1h-1zM217.9 387.4h1v1h-1zM219.9 388.1h1v1h-1zM217.3 392.0h1v1h-1zM221.0 389.7h1v1h-1zM227.3 388.5h1v1h-1zM230.5 387.3h1v1h-1zM226.2 388.7h1v1h-1zM227.9 385.0h1v1h-1zM221.1 386.3h1v1h-1zM218.3 393.4h1v1h-1zM208.7 390.8h1v1h-1zM217.5 392.4h1v1h-1zM217.4 384.1h1v1h-1zM211.4 392.6h1v1h-1zM217.5 388.8h1v1h-1zM211.9 394.5h1v1h-1zM222.2 383.2h1v1h-1zM228.9 387.6h1v1h-1zM220.5 389.4h1v1h-1zM223.5 386.8h1v1h-1zM217.9 386.4h1v1h-1zM214.6 390.2h1v1h-1zM220.2 389.3h1v1h-1zM222.3 387.6h1v1h-1zM221.1 387.9h1v1h-1zM229.9 385.4h1v1h-1zM224.2 385.2h1v1h-1zM217.4 388.0h1v1h-1zM214.5 388.2h1v1h-1zM216.8 392.4h1v1h-1zM220.6 386.3h1v1h-1zM223.4 384.7h1v1h-1zM220.3 392.2h1v1h-1zM222.4 387.1h1v1h-1zM214.3 388.9h1v1h-1zM222.3 391.2h1v1h-1zM223.9 391.6h1v1h-1zM215.3 390.2h1v1h-1zM212.5 392.8h1v1h-1zM212.6 390.5h1v1h-1zM216.3 390.4h1v1h-1zM213.3 393.6h1v1h-1zM224.1 385.8h1v1h-1zM210.0 391.2h1v1h-1zM224.9 388.1h1v1h-1zM228.3 388.6h1v1h-1zM218.3 386.5h1v1h-1zM224.8 382.8h1v1h-1zM223.8 392.0h1v1h-1zM221.1 392.8h1v1h-1zM224.2 384.6h1v1h-1zM222.8 387.8h1v1h-1zM220.7 389.9h1v1h-1zM221.6 387.6h1v1h-1zM222.9 389.2h1v1h-1zM228.9 384.0h1v1h-1zM225.2 382.5h1v1h-1zM226.7 387.2h1v1h-1zM220.8 389.7h1v1h-1zM222.2 392.0h1v1h-1zM220.2 390.6h1v1h-1zM223.0 395.3h1v1h-1zM223.7 386.4h1v1h-1zM212.7 395.2h1v1h-1zM219.5 387.5h1v1h-1zM218.4 385.6h1v1h-1zM221.5 391.7h1v1h-1zM215.9 388.9h1v1h-1zM216.1 388.5h1v1h-1zM224.3 385.3h1v1h-1zM225.2 387.2h1v1h-1zM220.8 390.8h1v1h-1zM219.1 394.7h1v1h-1zM218.8 393.3h1v1h-1zM213.0 392.2h1v1h-1zM222.7 389.0h1v1h-1zM225.5 383.5h1v1h-1zM225.9 388.3h1v1h-1zM212.2 391.3h1v1h-1zM220.7 386.6h1v1h-1zM220.5 385.0h1v1h-1zM217.9 388.2h1v1h-1zM216.1 386.4h1v1h-1zM210.7 390.5h1v1h-1zM217.3 391.8h1v1h-1zM220.0 388.5h1v1h-1zM215.2 391.2h1v1h-1zM221.2 386.0h1v1h-1zM214.5 387.0h1v1h-1zM226.3 378.4h1v1h-1zM213.4 391.9h1v1h-1zM210.6 392.6h1v1h-1zM224.2 390.9h1v1h-1zM212.2 392.5h1v1h-1zM224.1 389.8h1v1h-1zM216.5 390.5h1v1h-1zM218.8 384.7h1v1h-1zM223.0 389.7h1v1h-1zM220.6 386.7h1v1h-1zM221.2 384.0h1v1h-1zM228.8 390.3h1v1h-1zM217.3 384.2h1v1h-1zM216.9 387.7h1v1h-1zM220.4 390.4h1v1h-1zM226.5 382.8h1v1h-1zM217.8 387.4h1v1h-1zM214.7 394.2h1v1h-1zM224.4 387.0h1v1h-1zM214.4 390.5h1v1h-1zM220.1 385.1h1v1h-1zM225.1 387.7h1v1h-1zM217.9 390.7h1v1h-1zM217.1 386.0h1v1h-1zM226.1 381.9h1v1h-1zM222.2 388.9h1v1h-1zM224.9 388.0h1v1h-1zM223.3 393.0h1v1h-1zM216.2 386.5h1v1h-1zM217.2 385.3h1v1h-1zM227.6 386.7h1v1h-1zM217.9 390.6h1v1h-1zM215.5 391.3h1v1h-1zM220.5 393.7h1v1h-1zM217.6 391.2h1v1h-1zM217.3 394.1h1v1h-1zM222.1 382.2h1v1h-1zM219.2 391.0h1v1h-1zM222.8 388.6h1v1h-1zM214.6 387.4h1v1h-1zM216.0 393.6h1v1h-1zM218.0 393.1h1v1h-1zM218.2 388.3h1v1h-1zM226.2 384.1h1v1h-1zM221.9 392.4h1v1h-1zM221.0 391.8h1v1h-1zM218.4 386.9h1v1h-1zM221.4 389.3h1v1h-1zM216.5 391.0h1v1h-1zM221.8 391.3h1v1h-1zM216.5 388.1h1v1h-1zM212.6 394.3h1v1h-1zM212.5 388.0h1v1h-1zM222.4 386.4h1v1h-1zM221.7 387.5h1v1h-1zM223.5 392.6h1v1h-1zM220.6 387.1h1v1h-1zM212.1 390.4h1v1h-1zM225.3 391.6h1v1h-1zM218.2 391.1h1v1h-1zM217.1 389.4h1v1h-1zM214.2 392.8h1v1h-1zM220.3 386.8h1v1h-1zM220.6 389.7h1v1h-1zM226.0 392.7h1v1h-1zM225.0 387.8h1v1h-1zM214.6 393.3h1v1h-1zM219.5 392.0h1v1h-1zM224.8 389.8h1v1h-1zM215.0 394.7h1v1h-1zM228.4 385.1h1v1h-1zM218.4 393.2h1v1h-1zM215.0 392.2h1v1h-1zM220.7 385.2h1v1h-1zM225.3 385.8h1v1h-1zM218.0 393.0h1v1h-1zM222.6 389.1h1v1h-1zM223.6 391.8h1v1h-1zM224.1 386.3h1v1h-1zM219.8 388.1h1v1h-1zM213.5 386.6h1v1h-1zM219.9 390.9h1v1h-1zM225.6 389.9h1v1h-1zM227.9 387.7h1v1h-1zM221.0 391.7h1v1h-1zM226.8 392.9h1v1h-1zM224.5 389.7h1v1h-1zM221.8 392.1h1v1h-1zM221.0 388.2h1v1h-1zM222.6 387.0h1v1h-1zM221.9 385.2h1v1h-1zM219.7 393.2h1v1h-1zM213.1 390.5h1v1h-1zM216.9 387.4h1v1h-1zM221.6 391.7h1v1h-1zM222.0 382.0h1v1h-1zM220.4 392.1h1v1h-1zM214.9 388.9h1v1h-1zM217.8 391.6h1v1h-1zM223.4 387.6h1v1h-1zM221.3 390.3h1v1h-1zM216.8 390.3h1v1h-1zM220.1 387.3h1v1h-1zM217.2 389.5h1v1h-1zM222.3 387.9h1v1h-1zM221.6 385.2h1v1h-1zM221.0 388.5h1v1h-1zM215.0 390.6h1v1h-1zM220.0 390.2h1v1h-1zM215.4 389.7h1v1h-1zM232.0 382.0h1v1h-1zM220.0 387.9h1v1h-1zM217.1 390.4h1v1h-1zM217.7 392.4h1v1h-1zM220.9 388.1h1v1h-1zM220.6 391.5h1v1h-1zM222.8 391.4h1v1h-1zM224.3 388.3h1v1h-1zM219.1 387.2h1v1h-1zM224.4 391.2h1v1h-1zM218.4 388.8h1v1h-1zM219.8 389.5h1v1h-1zM222.1 388.0h1v1h-1zM220.4 388.3h1v1h-1zM226.1 384.7h1v1h-1zM223.2 388.9h1v1h-1zM225.8 387.0h1v1h-1zM226.3 392.9h1v1h-1zM221.4 388.9h1v1h-1zM216.2 387.0h1v1h-1zM222.2 388.6h1v1h-1zM215.2 385.6h1v1h-1zM222.9 385.7h1v1h-1zM214.8 387.6h1v1h-1zM223.1 388.6h1v1h-1zM221.6 393.7h1v1h-1zM224.6 390.5h1v1h-1zM224.7 388.3h1v1h-1zM216.6 389.7h1v1h-1zM222.5 391.6h1v1h-1zM219.0 387.8h1v1h-1zM220.6 393.3h1v1h-1zM220.1 392.3h1v1h-1zM217.2 390.4h1v1h-1zM220.1 389.9h1v1h-1zM211.7 392.2h1v1h-1zM219.6 390.7h1v1h-1zM218.4 383.9h1v1h-1zM224.8 389.4h1v1h-1zM227.6 388.7h1v1h-1zM216.7 388.2h1v1h-1zM223.9 385.9h1v1h-1zM222.5 388.5h1v1h-1zM218.2 390.8h1v1h-1zM225.3 384.4h1v1h-1zM219.8 388.3h1v1h-1zM222.6 384.2h1v1h-1zM219.6 389.7h1v1h-1zM218.4 381.7h1v1h-1zM219.7 385.4h1v1h-1zM211.6 390.6h1v1h-1zM214.7 395.3h1v1h-1zM217.2 391.1h1v1h-1zM220.5 387.8h1v1h-1zM221.7 389.8h1v1h-1zM232.1 382.1h1v1h-1zM220.8 382.4h1v1h-1zM224.0 385.4h1v1h-1zM219.3 383.6h1v1h-1zM216.1 394.2h1v1h-1zM223.4 394.1h1v1h-1zM214.9 388.1h1v1h-1zM217.7 389.9h1v1h-1zM224.9 390.6h1v1h-1zM222.2 390.2h1v1h-1zM215.2 392.5h1v1h-1zM220.3 390.4h1v1h-1zM215.7 388.3h1v1h-1zM224.9 385.1h1v1h-1zM221.0 392.1h1v1h-1zM217.5 394.0h1v1h-1zM220.0 386.4h1v1h-1zM224.5 387.1h1v1h-1zM218.0 389.6h1v1h-1zM219.9 387.4h1v1h-1zM228.0 387.5h1v1h-1zM232.8 389.7h1v1h-1zM215.5 392.2h1v1h-1zM230.9 386.2h1v1h-1zM225.8 387.5h1v1h-1zM222.1 391.5h1v1h-1zM231.0 384.0h1v1h-1zM214.3 384.8h1v1h-1zM220.4 387.7h1v1h-1zM220.4 391.7h1v1h-1zM213.5 393.0h1v1h-1zM227.3 384.3h1v1h-1zM217.9 386.9h1v1h-1zM213.9 387.9h1v1h-1zM221.1 391.4h1v1h-1zM222.7 386.3h1v1h-1zM218.2 389.5h1v1h-1zM223.0 383.3h1v1h-1zM230.2 385.1h1v1h-1zM217.6 389.1h1v1h-1zM216.7 387.5h1v1h-1zM214.4 392.6h1v1h-1zM212.2 388.2h1v1h-1zM217.5 387.0h1v1h-1zM228.3 389.0h1v1h-1zM218.1 387.9h1v1h-1zM220.5 389.4h1v1h-1zM223.0 384.9h1v1h-1zM217.4 390.9h1v1h-1zM222.9 387.1h1v1h-1zM222.2 391.7h1v1h-1zM228.8 385.7h1v1h-1zM221.4 388.7h1v1h-1zM220.2 388.7h1v1h-1zM219.0 381.8h1v1h-1zM228.0 382.9h1v1h-1zM219.6 382.3h1v1h-1zM211.8 380.2h1v1h-1zM211.6 383.0h1v1h-1zM216.7 382.2h1v1h-1zM213.7 380.9h1v1h-1zM217.9 384.3h1v1h-1zM212.8 382.7h1v1h-1zM213.0 382.4h1v1h-1zM218.2 383.2h1v1h-1zM210.3 385.4h1v1h-1zM218.3 383.1h1v1h-1zM223.5 382.3h1v1h-1zM218.4 381.3h1v1h-1zM217.3 382.0h1v1h-1zM220.6 382.2h1v1h-1zM218.2 382.9h1v1h-1zM224.0 381.3h1v1h-1zM220.0 386.6h1v1h-1zM215.3 384.4h1v1h-1zM217.2 383.1h1v1h-1z" fill="#151515"/>
<path d="M220.0 374.7h1v1h-1zM225.6 367.3h1v1h-1zM224.3 368.6h1v1h-1zM222.4 364.7h1v1h-1zM220.4 374.1h1v1h-1zM225.2 368.4h1v1h-1zM219.4 382.4h1v1h-1zM226.6 372.5h1v1h-1zM222.3 370.9h1v1h-1zM222.6 381.6h1v1h-1zM217.0 380.8h1v1h-1zM220.2 377.5h1v1h-1zM222.6 372.4h1v1h-1zM218.6 386.3h1v1h-1zM224.9 373.1h1v1h-1zM219.0 387.2h1v1h-1zM223.8 377.6h1v1h-1zM219.4 374.3h1v1h-1zM223.1 369.7h1v1h-1zM218.8 391.7h1v1h-1zM219.6 378.5h1v1h-1zM220.5 371.6h1v1h-1zM223.3 377.2h1v1h-1zM223.9 372.2h1v1h-1zM221.0 369.9h1v1h-1zM217.7 374.6h1v1h-1zM225.3 379.4h1v1h-1zM221.8 375.0h1v1h-1zM219.1 380.3h1v1h-1zM220.0 376.1h1v1h-1zM220.7 385.7h1v1h-1zM225.6 364.9h1v1h-1zM220.0 372.3h1v1h-1zM227.9 373.7h1v1h-1zM221.2 377.5h1v1h-1zM223.9 373.0h1v1h-1zM218.4 372.5h1v1h-1zM221.4 371.2h1v1h-1zM228.7 368.9h1v1h-1zM221.2 370.6h1v1h-1zM222.0 371.4h1v1h-1zM222.3 360.1h1v1h-1zM224.1 369.6h1v1h-1zM222.7 371.2h1v1h-1zM217.7 380.7h1v1h-1zM224.4 376.6h1v1h-1zM222.4 373.8h1v1h-1zM220.9 363.4h1v1h-1zM224.3 369.3h1v1h-1zM220.1 375.9h1v1h-1zM221.5 375.0h1v1h-1zM222.9 360.7h1v1h-1zM226.1 360.5h1v1h-1zM226.1 355.0h1v1h-1zM220.5 382.0h1v1h-1zM222.9 371.5h1v1h-1zM222.4 376.3h1v1h-1zM224.2 362.7h1v1h-1zM222.9 373.8h1v1h-1zM225.7 370.6h1v1h-1zM221.3 373.2h1v1h-1zM215.9 372.6h1v1h-1zM222.0 371.4h1v1h-1zM223.2 370.4h1v1h-1zM218.6 369.8h1v1h-1z" fill="#444"/>
<path d="M205.2 390.0h1v1h-1zM201.3 391.6h1v1h-1zM203.0 390.6h1v1h-1zM203.5 388.7h1v1h-1zM203.4 391.6h1v1h-1zM209.6 395.0h1v1h-1zM208.4 393.9h1v1h-1zM202.5 386.7h1v1h-1zM204.8 392.9h1v1h-1zM203.2 392.0h1v1h-1zM202.6 395.3h1v1h-1zM204.3 390.3h1v1h-1zM205.1 394.3h1v1h-1z" fill="#555"/>
<rect x="27.50" y="423.30" width="65.40" height="46.40" fill="#fff" stroke="#151515" stroke-width="1.1"/>
<line x1="33.80" y1="423.30" x2="33.80" y2="469.70" stroke="#151515" stroke-width="0.9"/>
<line x1="27.50" y1="457.40" x2="92.90" y2="457.40" stroke="#151515" stroke-width="0.9"/>
<text x="35.0" y="418.5" font-size="8.9" font-weight="bold" text-anchor="start" fill="#151515" stroke="#151515" stroke-width="0.4" stroke-linejoin="round">Medium</text>
<text x="87.0" y="436.5" font-size="9" font-weight="normal" text-anchor="end" fill="#151515" stroke="#151515" stroke-width="0.25" stroke-linejoin="round">0.1%</text>
<text x="23.6" y="478.4" font-size="5.8" font-weight="normal" text-anchor="start" fill="#151515" stroke="#151515" stroke-width="0.3" stroke-linejoin="round">10<tspan dy="-2.4" font-size="4.3">0</tspan><tspan dy="2.4"></tspan></text>
<line x1="27.50" y1="469.70" x2="27.50" y2="471.90" stroke="#151515" stroke-width="0.7"/>
<line x1="25.30" y1="469.70" x2="27.50" y2="469.70" stroke="#151515" stroke-width="0.7"/>
<line x1="32.42" y1="469.70" x2="32.42" y2="471.20" stroke="#151515" stroke-width="0.6"/>
<line x1="25.90" y1="466.21" x2="27.50" y2="466.21" stroke="#151515" stroke-width="0.7"/>
<line x1="35.30" y1="469.70" x2="35.30" y2="471.20" stroke="#151515" stroke-width="0.6"/>
<line x1="25.90" y1="464.17" x2="27.50" y2="464.17" stroke="#151515" stroke-width="0.7"/>
<line x1="37.34" y1="469.70" x2="37.34" y2="471.20" stroke="#151515" stroke-width="0.6"/>
<line x1="25.90" y1="462.72" x2="27.50" y2="462.72" stroke="#151515" stroke-width="0.7"/>
<line x1="38.93" y1="469.70" x2="38.93" y2="471.20" stroke="#151515" stroke-width="0.6"/>
<line x1="25.90" y1="461.59" x2="27.50" y2="461.59" stroke="#151515" stroke-width="0.7"/>
<line x1="40.22" y1="469.70" x2="40.22" y2="471.20" stroke="#151515" stroke-width="0.6"/>
<line x1="25.90" y1="460.67" x2="27.50" y2="460.67" stroke="#151515" stroke-width="0.7"/>
<line x1="41.32" y1="469.70" x2="41.32" y2="471.20" stroke="#151515" stroke-width="0.6"/>
<line x1="25.90" y1="459.90" x2="27.50" y2="459.90" stroke="#151515" stroke-width="0.7"/>
<line x1="42.27" y1="469.70" x2="42.27" y2="471.20" stroke="#151515" stroke-width="0.6"/>
<line x1="25.90" y1="459.22" x2="27.50" y2="459.22" stroke="#151515" stroke-width="0.7"/>
<line x1="43.10" y1="469.70" x2="43.10" y2="471.20" stroke="#151515" stroke-width="0.6"/>
<line x1="25.90" y1="458.63" x2="27.50" y2="458.63" stroke="#151515" stroke-width="0.7"/>
<text x="39.95" y="478.4" font-size="5.8" font-weight="normal" text-anchor="start" fill="#151515" stroke="#151515" stroke-width="0.3" stroke-linejoin="round">10<tspan dy="-2.4" font-size="4.3">1</tspan><tspan dy="2.4"></tspan></text>
<line x1="43.85" y1="469.70" x2="43.85" y2="471.90" stroke="#151515" stroke-width="0.7"/>
<line x1="25.30" y1="458.10" x2="27.50" y2="458.10" stroke="#151515" stroke-width="0.7"/>
<line x1="48.77" y1="469.70" x2="48.77" y2="471.20" stroke="#151515" stroke-width="0.6"/>
<line x1="25.90" y1="454.61" x2="27.50" y2="454.61" stroke="#151515" stroke-width="0.7"/>
<line x1="51.65" y1="469.70" x2="51.65" y2="471.20" stroke="#151515" stroke-width="0.6"/>
<line x1="25.90" y1="452.57" x2="27.50" y2="452.57" stroke="#151515" stroke-width="0.7"/>
<line x1="53.69" y1="469.70" x2="53.69" y2="471.20" stroke="#151515" stroke-width="0.6"/>
<line x1="25.90" y1="451.12" x2="27.50" y2="451.12" stroke="#151515" stroke-width="0.7"/>
<line x1="55.28" y1="469.70" x2="55.28" y2="471.20" stroke="#151515" stroke-width="0.6"/>
<line x1="25.90" y1="449.99" x2="27.50" y2="449.99" stroke="#151515" stroke-width="0.7"/>
<line x1="56.57" y1="469.70" x2="56.57" y2="471.20" stroke="#151515" stroke-width="0.6"/>
<line x1="25.90" y1="449.07" x2="27.50" y2="449.07" stroke="#151515" stroke-width="0.7"/>
<line x1="57.67" y1="469.70" x2="57.67" y2="471.20" stroke="#151515" stroke-width="0.6"/>
<line x1="25.90" y1="448.30" x2="27.50" y2="448.30" stroke="#151515" stroke-width="0.7"/>
<line x1="58.62" y1="469.70" x2="58.62" y2="471.20" stroke="#151515" stroke-width="0.6"/>
<line x1="25.90" y1="447.62" x2="27.50" y2="447.62" stroke="#151515" stroke-width="0.7"/>
<line x1="59.45" y1="469.70" x2="59.45" y2="471.20" stroke="#151515" stroke-width="0.6"/>
<line x1="25.90" y1="447.03" x2="27.50" y2="447.03" stroke="#151515" stroke-width="0.7"/>
<text x="56.300000000000004" y="478.4" font-size="5.8" font-weight="normal" text-anchor="start" fill="#151515" stroke="#151515" stroke-width="0.3" stroke-linejoin="round">10<tspan dy="-2.4" font-size="4.3">2</tspan><tspan dy="2.4"></tspan></text>
<line x1="60.20" y1="469.70" x2="60.20" y2="471.90" stroke="#151515" stroke-width="0.7"/>
<line x1="25.30" y1="446.50" x2="27.50" y2="446.50" stroke="#151515" stroke-width="0.7"/>
<line x1="65.12" y1="469.70" x2="65.12" y2="471.20" stroke="#151515" stroke-width="0.6"/>
<line x1="25.90" y1="443.01" x2="27.50" y2="443.01" stroke="#151515" stroke-width="0.7"/>
<line x1="68.00" y1="469.70" x2="68.00" y2="471.20" stroke="#151515" stroke-width="0.6"/>
<line x1="25.90" y1="440.97" x2="27.50" y2="440.97" stroke="#151515" stroke-width="0.7"/>
<line x1="70.04" y1="469.70" x2="70.04" y2="471.20" stroke="#151515" stroke-width="0.6"/>
<line x1="25.90" y1="439.52" x2="27.50" y2="439.52" stroke="#151515" stroke-width="0.7"/>
<line x1="71.63" y1="469.70" x2="71.63" y2="471.20" stroke="#151515" stroke-width="0.6"/>
<line x1="25.90" y1="438.39" x2="27.50" y2="438.39" stroke="#151515" stroke-width="0.7"/>
<line x1="72.92" y1="469.70" x2="72.92" y2="471.20" stroke="#151515" stroke-width="0.6"/>
<line x1="25.90" y1="437.47" x2="27.50" y2="437.47" stroke="#151515" stroke-width="0.7"/>
<line x1="74.02" y1="469.70" x2="74.02" y2="471.20" stroke="#151515" stroke-width="0.6"/>
<line x1="25.90" y1="436.70" x2="27.50" y2="436.70" stroke="#151515" stroke-width="0.7"/>
<line x1="74.97" y1="469.70" x2="74.97" y2="471.20" stroke="#151515" stroke-width="0.6"/>
<line x1="25.90" y1="436.02" x2="27.50" y2="436.02" stroke="#151515" stroke-width="0.7"/>
<line x1="75.80" y1="469.70" x2="75.80" y2="471.20" stroke="#151515" stroke-width="0.6"/>
<line x1="25.90" y1="435.43" x2="27.50" y2="435.43" stroke="#151515" stroke-width="0.7"/>
<text x="72.65" y="478.4" font-size="5.8" font-weight="normal" text-anchor="start" fill="#151515" stroke="#151515" stroke-width="0.3" stroke-linejoin="round">10<tspan dy="-2.4" font-size="4.3">3</tspan><tspan dy="2.4"></tspan></text>
<line x1="76.55" y1="469.70" x2="76.55" y2="471.90" stroke="#151515" stroke-width="0.7"/>
<line x1="25.30" y1="434.90" x2="27.50" y2="434.90" stroke="#151515" stroke-width="0.7"/>
<line x1="81.47" y1="469.70" x2="81.47" y2="471.20" stroke="#151515" stroke-width="0.6"/>
<line x1="25.90" y1="431.41" x2="27.50" y2="431.41" stroke="#151515" stroke-width="0.7"/>
<line x1="84.35" y1="469.70" x2="84.35" y2="471.20" stroke="#151515" stroke-width="0.6"/>
<line x1="25.90" y1="429.37" x2="27.50" y2="429.37" stroke="#151515" stroke-width="0.7"/>
<line x1="86.39" y1="469.70" x2="86.39" y2="471.20" stroke="#151515" stroke-width="0.6"/>
<line x1="25.90" y1="427.92" x2="27.50" y2="427.92" stroke="#151515" stroke-width="0.7"/>
<line x1="87.98" y1="469.70" x2="87.98" y2="471.20" stroke="#151515" stroke-width="0.6"/>
<line x1="25.90" y1="426.79" x2="27.50" y2="426.79" stroke="#151515" stroke-width="0.7"/>
<line x1="89.27" y1="469.70" x2="89.27" y2="471.20" stroke="#151515" stroke-width="0.6"/>
<line x1="25.90" y1="425.87" x2="27.50" y2="425.87" stroke="#151515" stroke-width="0.7"/>
<line x1="90.37" y1="469.70" x2="90.37" y2="471.20" stroke="#151515" stroke-width="0.6"/>
<line x1="25.90" y1="425.10" x2="27.50" y2="425.10" stroke="#151515" stroke-width="0.7"/>
<line x1="91.32" y1="469.70" x2="91.32" y2="471.20" stroke="#151515" stroke-width="0.6"/>
<line x1="25.90" y1="424.42" x2="27.50" y2="424.42" stroke="#151515" stroke-width="0.7"/>
<line x1="92.15" y1="469.70" x2="92.15" y2="471.20" stroke="#151515" stroke-width="0.6"/>
<line x1="25.90" y1="423.83" x2="27.50" y2="423.83" stroke="#151515" stroke-width="0.7"/>
<text x="89.0" y="478.4" font-size="5.8" font-weight="normal" text-anchor="start" fill="#151515" stroke="#151515" stroke-width="0.3" stroke-linejoin="round">10<tspan dy="-2.4" font-size="4.3">4</tspan><tspan dy="2.4"></tspan></text>
<line x1="92.90" y1="469.70" x2="92.90" y2="471.90" stroke="#151515" stroke-width="0.7"/>
<line x1="25.30" y1="423.30" x2="27.50" y2="423.30" stroke="#151515" stroke-width="0.7"/>
<text x="20.5" y="472.7" font-size="5.8" font-weight="normal" text-anchor="start" fill="#151515" stroke="#151515" stroke-width="0.3" stroke-linejoin="round" transform="rotate(-90 20.5 472.7)">10<tspan dy="-2.4" font-size="4.3">0</tspan><tspan dy="2.4"></tspan></text>
<text x="20.5" y="427.3" font-size="5.8" font-weight="normal" text-anchor="start" fill="#151515" stroke="#151515" stroke-width="0.3" stroke-linejoin="round" transform="rotate(-90 20.5 427.3)">10<tspan dy="-2.4" font-size="4.3">4</tspan><tspan dy="2.4"></tspan></text>
<ellipse cx="49.0" cy="464.5" rx="10.8" ry="3.9" transform="rotate(-22 49.0 464.5)" fill="#151515"/>
<path d="M48.7 463.2h1v1h-1zM46.1 464.6h1v1h-1zM53.7 461.4h1v1h-1zM58.5 463.3h1v1h-1zM50.1 466.2h1v1h-1zM44.9 466.7h1v1h-1zM49.8 462.9h1v1h-1zM49.4 457.6h1v1h-1zM55.4 466.7h1v1h-1zM50.8 465.7h1v1h-1zM44.8 462.2h1v1h-1zM51.0 464.6h1v1h-1zM45.6 466.0h1v1h-1zM46.6 465.3h1v1h-1zM60.0 462.5h1v1h-1zM44.8 466.9h1v1h-1zM55.8 463.9h1v1h-1zM58.3 464.7h1v1h-1zM43.4 466.9h1v1h-1zM44.9 468.0h1v1h-1zM50.7 461.6h1v1h-1zM49.9 465.0h1v1h-1zM56.0 460.5h1v1h-1zM46.4 461.9h1v1h-1zM43.9 466.1h1v1h-1zM52.6 463.1h1v1h-1zM45.5 464.9h1v1h-1zM46.6 467.3h1v1h-1zM42.0 463.4h1v1h-1zM44.8 462.7h1v1h-1zM51.4 464.3h1v1h-1zM52.4 462.3h1v1h-1zM51.2 467.8h1v1h-1zM48.4 462.0h1v1h-1zM50.6 460.8h1v1h-1zM56.8 460.1h1v1h-1zM61.5 464.0h1v1h-1zM53.4 462.4h1v1h-1zM58.7 461.7h1v1h-1zM36.5 465.7h1v1h-1zM47.4 463.3h1v1h-1zM46.0 465.1h1v1h-1zM36.8 464.2h1v1h-1zM48.5 464.3h1v1h-1zM52.0 462.8h1v1h-1zM51.1 466.5h1v1h-1zM47.9 463.6h1v1h-1zM54.9 462.5h1v1h-1zM49.1 463.4h1v1h-1zM51.9 462.7h1v1h-1zM48.1 466.4h1v1h-1zM54.9 461.2h1v1h-1zM45.5 455.4h1v1h-1zM53.0 460.3h1v1h-1zM50.9 466.8h1v1h-1zM55.4 462.2h1v1h-1zM48.2 461.7h1v1h-1zM54.4 461.6h1v1h-1zM46.9 459.0h1v1h-1zM53.2 465.9h1v1h-1zM53.0 462.4h1v1h-1zM48.5 462.7h1v1h-1zM48.2 458.8h1v1h-1zM49.9 463.4h1v1h-1zM56.0 463.4h1v1h-1zM54.6 462.4h1v1h-1zM56.4 464.1h1v1h-1zM53.0 467.7h1v1h-1zM46.6 465.4h1v1h-1zM49.6 458.3h1v1h-1zM60.5 463.9h1v1h-1zM43.5 462.9h1v1h-1zM52.9 467.1h1v1h-1zM52.9 466.3h1v1h-1zM45.2 459.2h1v1h-1zM51.2 463.9h1v1h-1zM63.3 460.1h1v1h-1zM48.5 465.5h1v1h-1zM51.6 464.4h1v1h-1zM57.3 462.0h1v1h-1zM51.9 462.7h1v1h-1zM49.0 464.3h1v1h-1zM49.9 464.4h1v1h-1zM51.3 464.6h1v1h-1zM54.2 467.3h1v1h-1zM54.9 464.8h1v1h-1zM52.2 464.6h1v1h-1zM47.5 467.5h1v1h-1zM57.5 464.3h1v1h-1zM42.1 466.6h1v1h-1zM50.4 463.8h1v1h-1zM44.4 468.3h1v1h-1zM55.1 465.2h1v1h-1zM51.6 461.2h1v1h-1zM51.0 467.4h1v1h-1zM59.3 459.9h1v1h-1zM50.5 465.0h1v1h-1zM44.1 467.3h1v1h-1zM51.0 466.2h1v1h-1zM48.4 461.2h1v1h-1zM51.5 463.8h1v1h-1zM53.8 459.8h1v1h-1zM54.8 464.6h1v1h-1zM38.2 466.4h1v1h-1zM49.7 465.3h1v1h-1zM52.1 464.6h1v1h-1zM43.7 461.2h1v1h-1zM39.4 465.8h1v1h-1zM52.7 457.6h1v1h-1zM49.9 462.6h1v1h-1zM44.0 466.4h1v1h-1zM49.0 464.8h1v1h-1zM45.2 462.5h1v1h-1zM40.2 467.7h1v1h-1zM46.8 465.3h1v1h-1zM47.3 459.3h1v1h-1zM41.8 463.4h1v1h-1zM56.8 461.7h1v1h-1zM42.1 461.1h1v1h-1zM36.7 468.1h1v1h-1zM43.2 461.1h1v1h-1zM52.2 467.3h1v1h-1zM46.0 465.1h1v1h-1zM50.7 466.7h1v1h-1zM47.9 466.3h1v1h-1zM51.4 462.7h1v1h-1zM50.9 465.5h1v1h-1zM53.9 464.2h1v1h-1zM44.9 467.4h1v1h-1zM47.6 466.0h1v1h-1zM37.0 465.3h1v1h-1zM51.0 459.7h1v1h-1zM46.1 463.4h1v1h-1zM50.1 464.0h1v1h-1zM59.5 462.1h1v1h-1zM54.0 467.7h1v1h-1zM52.3 463.7h1v1h-1zM44.1 468.3h1v1h-1zM53.9 459.6h1v1h-1zM42.6 460.5h1v1h-1zM42.0 465.0h1v1h-1zM56.8 464.2h1v1h-1zM46.8 463.3h1v1h-1zM44.1 462.7h1v1h-1zM60.8 459.9h1v1h-1zM43.9 464.8h1v1h-1zM51.6 465.7h1v1h-1zM48.1 464.6h1v1h-1zM50.6 460.4h1v1h-1zM38.2 463.3h1v1h-1zM47.1 466.5h1v1h-1zM61.4 456.1h1v1h-1zM61.5 460.0h1v1h-1zM45.8 467.4h1v1h-1zM52.1 462.0h1v1h-1zM48.8 457.7h1v1h-1zM57.6 464.3h1v1h-1zM50.8 462.0h1v1h-1zM42.5 460.1h1v1h-1zM52.5 458.5h1v1h-1zM53.4 463.3h1v1h-1zM45.9 466.0h1v1h-1zM50.0 463.7h1v1h-1zM47.4 463.7h1v1h-1zM63.7 455.0h1v1h-1zM44.0 460.3h1v1h-1zM56.5 464.8h1v1h-1zM49.2 468.2h1v1h-1zM45.8 465.8h1v1h-1zM53.5 465.6h1v1h-1zM51.8 462.6h1v1h-1zM52.6 464.7h1v1h-1zM41.5 464.6h1v1h-1zM52.9 465.0h1v1h-1zM43.9 464.5h1v1h-1zM59.7 459.1h1v1h-1zM62.6 458.1h1v1h-1zM50.3 462.5h1v1h-1zM56.5 466.0h1v1h-1zM48.5 460.9h1v1h-1zM40.1 467.4h1v1h-1zM51.3 458.4h1v1h-1zM57.7 461.1h1v1h-1zM61.6 462.8h1v1h-1zM39.8 464.2h1v1h-1zM53.9 466.0h1v1h-1zM54.1 459.8h1v1h-1zM53.5 464.1h1v1h-1zM47.9 465.4h1v1h-1zM46.7 467.1h1v1h-1zM55.3 465.4h1v1h-1zM42.8 461.0h1v1h-1zM46.1 467.6h1v1h-1zM56.8 466.9h1v1h-1zM59.3 464.2h1v1h-1zM54.2 462.6h1v1h-1zM55.8 459.4h1v1h-1zM42.1 467.3h1v1h-1zM46.0 467.0h1v1h-1zM49.3 463.3h1v1h-1zM48.6 466.1h1v1h-1zM59.5 461.0h1v1h-1zM48.8 464.6h1v1h-1zM54.5 465.8h1v1h-1zM48.4 465.2h1v1h-1zM49.1 465.2h1v1h-1zM45.9 465.5h1v1h-1zM39.9 463.3h1v1h-1zM46.4 462.7h1v1h-1zM48.0 465.4h1v1h-1zM34.8 465.9h1v1h-1zM44.9 461.7h1v1h-1zM52.7 467.6h1v1h-1zM45.6 465.2h1v1h-1zM60.2 459.3h1v1h-1zM53.4 463.7h1v1h-1zM50.3 467.1h1v1h-1zM44.4 462.6h1v1h-1zM47.5 461.5h1v1h-1zM53.1 462.4h1v1h-1zM43.9 460.0h1v1h-1zM53.9 458.7h1v1h-1zM61.2 455.0h1v1h-1zM49.8 463.0h1v1h-1zM49.7 457.4h1v1h-1zM46.3 465.6h1v1h-1zM44.8 463.4h1v1h-1zM52.4 463.3h1v1h-1zM47.4 459.3h1v1h-1zM58.2 455.5h1v1h-1zM45.6 462.1h1v1h-1zM57.6 458.4h1v1h-1zM51.3 459.2h1v1h-1zM58.0 460.0h1v1h-1zM49.9 462.3h1v1h-1zM53.6 462.1h1v1h-1zM38.9 460.9h1v1h-1zM45.5 467.7h1v1h-1zM52.4 463.2h1v1h-1zM49.4 456.9h1v1h-1zM57.5 462.5h1v1h-1zM50.9 463.9h1v1h-1zM57.0 464.0h1v1h-1zM51.5 462.3h1v1h-1zM52.2 460.6h1v1h-1zM42.8 468.1h1v1h-1zM41.8 463.6h1v1h-1zM55.4 466.3h1v1h-1zM51.9 462.9h1v1h-1zM49.0 462.3h1v1h-1zM46.1 466.6h1v1h-1zM46.1 467.6h1v1h-1zM42.1 463.7h1v1h-1zM52.6 463.7h1v1h-1zM37.6 462.1h1v1h-1zM49.1 463.8h1v1h-1zM50.9 458.5h1v1h-1zM47.4 465.1h1v1h-1zM44.4 461.8h1v1h-1zM46.3 464.6h1v1h-1zM43.8 464.2h1v1h-1zM44.4 463.8h1v1h-1zM49.7 463.7h1v1h-1zM52.5 467.9h1v1h-1zM46.4 464.8h1v1h-1zM45.7 462.1h1v1h-1zM54.7 464.3h1v1h-1zM55.9 462.3h1v1h-1zM50.9 459.9h1v1h-1zM49.0 465.1h1v1h-1zM39.2 466.4h1v1h-1zM49.8 463.5h1v1h-1zM50.1 461.8h1v1h-1zM44.2 465.4h1v1h-1zM47.2 466.6h1v1h-1zM43.0 463.2h1v1h-1zM53.2 463.7h1v1h-1zM44.4 463.1h1v1h-1zM44.2 467.2h1v1h-1zM51.9 464.9h1v1h-1zM46.2 465.4h1v1h-1zM55.4 464.6h1v1h-1zM52.1 463.4h1v1h-1zM58.1 459.1h1v1h-1zM50.9 464.6h1v1h-1zM58.7 462.5h1v1h-1zM48.5 463.7h1v1h-1zM37.8 468.1h1v1h-1zM49.4 461.0h1v1h-1zM45.7 461.3h1v1h-1zM60.7 461.4h1v1h-1zM46.6 462.4h1v1h-1zM55.7 461.7h1v1h-1zM57.1 465.9h1v1h-1zM53.8 461.2h1v1h-1zM53.5 461.1h1v1h-1zM53.3 464.1h1v1h-1zM58.9 466.7h1v1h-1zM51.2 465.5h1v1h-1zM61.0 463.0h1v1h-1zM49.8 464.2h1v1h-1zM53.6 462.6h1v1h-1zM43.4 467.1h1v1h-1zM54.8 459.8h1v1h-1zM42.2 467.5h1v1h-1zM48.6 465.7h1v1h-1zM46.0 465.1h1v1h-1zM55.3 458.8h1v1h-1zM45.9 463.3h1v1h-1zM46.4 461.6h1v1h-1zM53.8 459.6h1v1h-1zM60.3 456.7h1v1h-1zM52.7 458.7h1v1h-1zM43.7 467.5h1v1h-1zM46.3 462.9h1v1h-1zM50.7 467.5h1v1h-1zM45.1 466.6h1v1h-1zM47.1 466.6h1v1h-1zM40.9 467.3h1v1h-1zM42.4 468.3h1v1h-1zM46.0 466.6h1v1h-1zM57.5 462.3h1v1h-1zM44.0 465.7h1v1h-1zM46.5 463.0h1v1h-1zM46.6 462.9h1v1h-1zM49.4 461.0h1v1h-1zM46.6 462.6h1v1h-1zM47.3 467.4h1v1h-1zM56.9 465.4h1v1h-1zM42.3 462.1h1v1h-1zM49.7 463.0h1v1h-1zM50.4 463.9h1v1h-1zM60.0 459.8h1v1h-1zM57.0 461.2h1v1h-1zM45.6 466.6h1v1h-1zM46.7 457.5h1v1h-1zM45.3 464.6h1v1h-1zM40.0 466.4h1v1h-1zM48.0 463.7h1v1h-1zM50.1 465.4h1v1h-1zM49.5 464.2h1v1h-1zM54.9 462.2h1v1h-1zM49.8 468.0h1v1h-1zM54.1 462.9h1v1h-1zM42.8 463.3h1v1h-1zM54.2 462.4h1v1h-1zM50.8 467.7h1v1h-1zM40.2 466.1h1v1h-1zM46.9 464.5h1v1h-1zM45.6 464.5h1v1h-1zM53.3 462.3h1v1h-1zM52.4 460.7h1v1h-1zM53.2 464.6h1v1h-1zM37.9 464.9h1v1h-1zM57.5 457.0h1v1h-1zM62.3 464.9h1v1h-1zM54.7 466.4h1v1h-1zM40.3 466.1h1v1h-1zM55.2 464.8h1v1h-1zM47.0 462.6h1v1h-1zM59.5 458.9h1v1h-1zM48.6 462.7h1v1h-1zM37.5 468.3h1v1h-1zM44.6 463.8h1v1h-1zM38.8 465.8h1v1h-1zM55.4 457.7h1v1h-1zM57.4 460.8h1v1h-1zM50.7 467.2h1v1h-1zM49.6 466.7h1v1h-1zM51.5 461.3h1v1h-1zM46.5 460.7h1v1h-1zM58.7 461.4h1v1h-1zM57.9 463.1h1v1h-1zM44.2 463.5h1v1h-1zM57.4 464.1h1v1h-1zM47.6 467.1h1v1h-1zM46.9 466.7h1v1h-1z" fill="#151515"/>
<path d="M50.1 454.0h1v1h-1zM64.4 450.9h1v1h-1zM54.9 454.5h1v1h-1z" fill="#999"/>
<path d="M28.9 466.8h1v1h-1zM36.2 460.0h1v1h-1zM36.7 467.0h1v1h-1zM34.2 461.2h1v1h-1zM29.1 459.1h1v1h-1zM32.9 465.8h1v1h-1zM34.9 460.7h1v1h-1zM36.5 459.1h1v1h-1zM34.6 460.2h1v1h-1zM28.6 460.4h1v1h-1zM36.5 460.7h1v1h-1zM28.6 463.4h1v1h-1zM32.0 464.3h1v1h-1zM34.3 465.7h1v1h-1z" fill="#555"/>
<rect x="113.20" y="423.20" width="65.40" height="46.40" fill="#fff" stroke="#151515" stroke-width="1.1"/>
<line x1="120.00" y1="423.20" x2="120.00" y2="469.60" stroke="#151515" stroke-width="0.9"/>
<line x1="113.20" y1="457.30" x2="178.60" y2="457.30" stroke="#151515" stroke-width="0.9"/>
<text x="118.2" y="418.4" font-size="8.9" font-weight="bold" text-anchor="start" fill="#151515" stroke="#151515" stroke-width="0.4" stroke-linejoin="round">IL-12+IL-18</text>
<text x="177.2" y="436.4" font-size="9" font-weight="normal" text-anchor="end" fill="#151515" stroke="#151515" stroke-width="0.25" stroke-linejoin="round">0.42%</text>
<text x="109.3" y="478.29999999999995" font-size="5.8" font-weight="normal" text-anchor="start" fill="#151515" stroke="#151515" stroke-width="0.3" stroke-linejoin="round">10<tspan dy="-2.4" font-size="4.3">0</tspan><tspan dy="2.4"></tspan></text>
<line x1="113.20" y1="469.60" x2="113.20" y2="471.80" stroke="#151515" stroke-width="0.7"/>
<line x1="111.00" y1="469.60" x2="113.20" y2="469.60" stroke="#151515" stroke-width="0.7"/>
<line x1="118.12" y1="469.60" x2="118.12" y2="471.10" stroke="#151515" stroke-width="0.6"/>
<line x1="111.60" y1="466.11" x2="113.20" y2="466.11" stroke="#151515" stroke-width="0.7"/>
<line x1="121.00" y1="469.60" x2="121.00" y2="471.10" stroke="#151515" stroke-width="0.6"/>
<line x1="111.60" y1="464.07" x2="113.20" y2="464.07" stroke="#151515" stroke-width="0.7"/>
<line x1="123.04" y1="469.60" x2="123.04" y2="471.10" stroke="#151515" stroke-width="0.6"/>
<line x1="111.60" y1="462.62" x2="113.20" y2="462.62" stroke="#151515" stroke-width="0.7"/>
<line x1="124.63" y1="469.60" x2="124.63" y2="471.10" stroke="#151515" stroke-width="0.6"/>
<line x1="111.60" y1="461.49" x2="113.20" y2="461.49" stroke="#151515" stroke-width="0.7"/>
<line x1="125.92" y1="469.60" x2="125.92" y2="471.10" stroke="#151515" stroke-width="0.6"/>
<line x1="111.60" y1="460.57" x2="113.20" y2="460.57" stroke="#151515" stroke-width="0.7"/>
<line x1="127.02" y1="469.60" x2="127.02" y2="471.10" stroke="#151515" stroke-width="0.6"/>
<line x1="111.60" y1="459.80" x2="113.20" y2="459.80" stroke="#151515" stroke-width="0.7"/>
<line x1="127.97" y1="469.60" x2="127.97" y2="471.10" stroke="#151515" stroke-width="0.6"/>
<line x1="111.60" y1="459.12" x2="113.20" y2="459.12" stroke="#151515" stroke-width="0.7"/>
<line x1="128.80" y1="469.60" x2="128.80" y2="471.10" stroke="#151515" stroke-width="0.6"/>
<line x1="111.60" y1="458.53" x2="113.20" y2="458.53" stroke="#151515" stroke-width="0.7"/>
<text x="125.65" y="478.29999999999995" font-size="5.8" font-weight="normal" text-anchor="start" fill="#151515" stroke="#151515" stroke-width="0.3" stroke-linejoin="round">10<tspan dy="-2.4" font-size="4.3">1</tspan><tspan dy="2.4"></tspan></text>
<line x1="129.55" y1="469.60" x2="129.55" y2="471.80" stroke="#151515" stroke-width="0.7"/>
<line x1="111.00" y1="458.00" x2="113.20" y2="458.00" stroke="#151515" stroke-width="0.7"/>
<line x1="134.47" y1="469.60" x2="134.47" y2="471.10" stroke="#151515" stroke-width="0.6"/>
<line x1="111.60" y1="454.51" x2="113.20" y2="454.51" stroke="#151515" stroke-width="0.7"/>
<line x1="137.35" y1="469.60" x2="137.35" y2="471.10" stroke="#151515" stroke-width="0.6"/>
<line x1="111.60" y1="452.47" x2="113.20" y2="452.47" stroke="#151515" stroke-width="0.7"/>
<line x1="139.39" y1="469.60" x2="139.39" y2="471.10" stroke="#151515" stroke-width="0.6"/>
<line x1="111.60" y1="451.02" x2="113.20" y2="451.02" stroke="#151515" stroke-width="0.7"/>
<line x1="140.98" y1="469.60" x2="140.98" y2="471.10" stroke="#151515" stroke-width="0.6"/>
<line x1="111.60" y1="449.89" x2="113.20" y2="449.89" stroke="#151515" stroke-width="0.7"/>
<line x1="142.27" y1="469.60" x2="142.27" y2="471.10" stroke="#151515" stroke-width="0.6"/>
<line x1="111.60" y1="448.97" x2="113.20" y2="448.97" stroke="#151515" stroke-width="0.7"/>
<line x1="143.37" y1="469.60" x2="143.37" y2="471.10" stroke="#151515" stroke-width="0.6"/>
<line x1="111.60" y1="448.20" x2="113.20" y2="448.20" stroke="#151515" stroke-width="0.7"/>
<line x1="144.32" y1="469.60" x2="144.32" y2="471.10" stroke="#151515" stroke-width="0.6"/>
<line x1="111.60" y1="447.52" x2="113.20" y2="447.52" stroke="#151515" stroke-width="0.7"/>
<line x1="145.15" y1="469.60" x2="145.15" y2="471.10" stroke="#151515" stroke-width="0.6"/>
<line x1="111.60" y1="446.93" x2="113.20" y2="446.93" stroke="#151515" stroke-width="0.7"/>
<text x="142.0" y="478.29999999999995" font-size="5.8" font-weight="normal" text-anchor="start" fill="#151515" stroke="#151515" stroke-width="0.3" stroke-linejoin="round">10<tspan dy="-2.4" font-size="4.3">2</tspan><tspan dy="2.4"></tspan></text>
<line x1="145.90" y1="469.60" x2="145.90" y2="471.80" stroke="#151515" stroke-width="0.7"/>
<line x1="111.00" y1="446.40" x2="113.20" y2="446.40" stroke="#151515" stroke-width="0.7"/>
<line x1="150.82" y1="469.60" x2="150.82" y2="471.10" stroke="#151515" stroke-width="0.6"/>
<line x1="111.60" y1="442.91" x2="113.20" y2="442.91" stroke="#151515" stroke-width="0.7"/>
<line x1="153.70" y1="469.60" x2="153.70" y2="471.10" stroke="#151515" stroke-width="0.6"/>
<line x1="111.60" y1="440.87" x2="113.20" y2="440.87" stroke="#151515" stroke-width="0.7"/>
<line x1="155.74" y1="469.60" x2="155.74" y2="471.10" stroke="#151515" stroke-width="0.6"/>
<line x1="111.60" y1="439.42" x2="113.20" y2="439.42" stroke="#151515" stroke-width="0.7"/>
<line x1="157.33" y1="469.60" x2="157.33" y2="471.10" stroke="#151515" stroke-width="0.6"/>
<line x1="111.60" y1="438.29" x2="113.20" y2="438.29" stroke="#151515" stroke-width="0.7"/>
<line x1="158.62" y1="469.60" x2="158.62" y2="471.10" stroke="#151515" stroke-width="0.6"/>
<line x1="111.60" y1="437.37" x2="113.20" y2="437.37" stroke="#151515" stroke-width="0.7"/>
<line x1="159.72" y1="469.60" x2="159.72" y2="471.10" stroke="#151515" stroke-width="0.6"/>
<line x1="111.60" y1="436.60" x2="113.20" y2="436.60" stroke="#151515" stroke-width="0.7"/>
<line x1="160.67" y1="469.60" x2="160.67" y2="471.10" stroke="#151515" stroke-width="0.6"/>
<line x1="111.60" y1="435.92" x2="113.20" y2="435.92" stroke="#151515" stroke-width="0.7"/>
<line x1="161.50" y1="469.60" x2="161.50" y2="471.10" stroke="#151515" stroke-width="0.6"/>
<line x1="111.60" y1="435.33" x2="113.20" y2="435.33" stroke="#151515" stroke-width="0.7"/>
<text x="158.35" y="478.29999999999995" font-size="5.8" font-weight="normal" text-anchor="start" fill="#151515" stroke="#151515" stroke-width="0.3" stroke-linejoin="round">10<tspan dy="-2.4" font-size="4.3">3</tspan><tspan dy="2.4"></tspan></text>
<line x1="162.25" y1="469.60" x2="162.25" y2="471.80" stroke="#151515" stroke-width="0.7"/>
<line x1="111.00" y1="434.80" x2="113.20" y2="434.80" stroke="#151515" stroke-width="0.7"/>
<line x1="167.17" y1="469.60" x2="167.17" y2="471.10" stroke="#151515" stroke-width="0.6"/>
<line x1="111.60" y1="431.31" x2="113.20" y2="431.31" stroke="#151515" stroke-width="0.7"/>
<line x1="170.05" y1="469.60" x2="170.05" y2="471.10" stroke="#151515" stroke-width="0.6"/>
<line x1="111.60" y1="429.27" x2="113.20" y2="429.27" stroke="#151515" stroke-width="0.7"/>
<line x1="172.09" y1="469.60" x2="172.09" y2="471.10" stroke="#151515" stroke-width="0.6"/>
<line x1="111.60" y1="427.82" x2="113.20" y2="427.82" stroke="#151515" stroke-width="0.7"/>
<line x1="173.68" y1="469.60" x2="173.68" y2="471.10" stroke="#151515" stroke-width="0.6"/>
<line x1="111.60" y1="426.69" x2="113.20" y2="426.69" stroke="#151515" stroke-width="0.7"/>
<line x1="174.97" y1="469.60" x2="174.97" y2="471.10" stroke="#151515" stroke-width="0.6"/>
<line x1="111.60" y1="425.77" x2="113.20" y2="425.77" stroke="#151515" stroke-width="0.7"/>
<line x1="176.07" y1="469.60" x2="176.07" y2="471.10" stroke="#151515" stroke-width="0.6"/>
<line x1="111.60" y1="425.00" x2="113.20" y2="425.00" stroke="#151515" stroke-width="0.7"/>
<line x1="177.02" y1="469.60" x2="177.02" y2="471.10" stroke="#151515" stroke-width="0.6"/>
<line x1="111.60" y1="424.32" x2="113.20" y2="424.32" stroke="#151515" stroke-width="0.7"/>
<line x1="177.85" y1="469.60" x2="177.85" y2="471.10" stroke="#151515" stroke-width="0.6"/>
<line x1="111.60" y1="423.73" x2="113.20" y2="423.73" stroke="#151515" stroke-width="0.7"/>
<text x="174.70000000000002" y="478.29999999999995" font-size="5.8" font-weight="normal" text-anchor="start" fill="#151515" stroke="#151515" stroke-width="0.3" stroke-linejoin="round">10<tspan dy="-2.4" font-size="4.3">4</tspan><tspan dy="2.4"></tspan></text>
<line x1="178.60" y1="469.60" x2="178.60" y2="471.80" stroke="#151515" stroke-width="0.7"/>
<line x1="111.00" y1="423.20" x2="113.20" y2="423.20" stroke="#151515" stroke-width="0.7"/>
<text x="106.2" y="472.59999999999997" font-size="5.8" font-weight="normal" text-anchor="start" fill="#151515" stroke="#151515" stroke-width="0.3" stroke-linejoin="round" transform="rotate(-90 106.2 472.59999999999997)">10<tspan dy="-2.4" font-size="4.3">0</tspan><tspan dy="2.4"></tspan></text>
<text x="106.2" y="427.2" font-size="5.8" font-weight="normal" text-anchor="start" fill="#151515" stroke="#151515" stroke-width="0.3" stroke-linejoin="round" transform="rotate(-90 106.2 427.2)">10<tspan dy="-2.4" font-size="4.3">4</tspan><tspan dy="2.4"></tspan></text>
<ellipse cx="131.6" cy="463.7" rx="10.6" ry="4.2" transform="rotate(-16 131.6 463.7)" fill="#151515"/>
<path d="M137.6 461.3h1v1h-1zM139.6 463.0h1v1h-1zM134.1 463.9h1v1h-1zM127.3 464.5h1v1h-1zM124.9 466.8h1v1h-1zM135.5 462.4h1v1h-1zM127.5 458.0h1v1h-1zM132.4 465.3h1v1h-1zM132.9 465.0h1v1h-1zM129.7 465.3h1v1h-1zM142.9 460.4h1v1h-1zM132.0 461.5h1v1h-1zM143.1 461.1h1v1h-1zM126.0 457.5h1v1h-1zM123.7 467.1h1v1h-1zM133.4 456.0h1v1h-1zM135.7 464.2h1v1h-1zM129.0 463.0h1v1h-1zM132.6 462.5h1v1h-1zM128.1 460.6h1v1h-1zM140.0 461.2h1v1h-1zM128.5 462.3h1v1h-1zM135.1 466.0h1v1h-1zM128.1 461.4h1v1h-1zM131.3 464.8h1v1h-1zM132.8 463.5h1v1h-1zM141.2 460.3h1v1h-1zM125.9 462.3h1v1h-1zM133.3 463.2h1v1h-1zM135.6 455.4h1v1h-1zM133.4 458.2h1v1h-1zM144.5 463.2h1v1h-1zM128.0 462.3h1v1h-1zM122.3 467.2h1v1h-1zM138.0 458.6h1v1h-1zM136.4 468.3h1v1h-1zM144.3 458.3h1v1h-1zM135.5 461.0h1v1h-1zM123.2 460.1h1v1h-1zM127.1 465.7h1v1h-1zM129.7 462.4h1v1h-1zM134.2 462.1h1v1h-1zM132.3 462.7h1v1h-1zM138.6 462.0h1v1h-1zM127.8 463.5h1v1h-1zM125.7 464.5h1v1h-1zM142.7 458.1h1v1h-1zM137.8 461.2h1v1h-1zM133.5 464.6h1v1h-1zM135.7 460.4h1v1h-1zM136.7 457.3h1v1h-1zM129.0 461.1h1v1h-1zM142.6 460.6h1v1h-1zM137.8 462.4h1v1h-1zM122.5 465.9h1v1h-1zM126.9 464.7h1v1h-1zM128.7 463.5h1v1h-1zM117.9 461.1h1v1h-1zM139.5 462.5h1v1h-1zM126.5 465.1h1v1h-1zM135.0 461.4h1v1h-1zM124.1 461.6h1v1h-1zM134.2 467.7h1v1h-1zM124.9 461.9h1v1h-1zM129.4 460.8h1v1h-1zM133.9 467.8h1v1h-1zM126.0 458.0h1v1h-1zM128.1 468.0h1v1h-1zM138.6 461.4h1v1h-1zM130.3 459.4h1v1h-1zM121.2 465.3h1v1h-1zM126.0 461.6h1v1h-1zM124.0 461.0h1v1h-1zM138.4 465.3h1v1h-1zM145.8 460.8h1v1h-1zM124.9 466.1h1v1h-1zM135.6 457.4h1v1h-1zM137.9 463.3h1v1h-1zM131.7 465.6h1v1h-1zM134.1 467.1h1v1h-1zM129.4 467.2h1v1h-1zM134.8 462.5h1v1h-1zM123.6 464.3h1v1h-1zM132.0 458.9h1v1h-1zM130.7 464.6h1v1h-1zM127.5 464.5h1v1h-1zM134.3 462.4h1v1h-1zM129.7 462.4h1v1h-1zM131.9 462.8h1v1h-1zM126.1 464.6h1v1h-1zM126.6 467.8h1v1h-1zM130.7 457.2h1v1h-1zM137.3 462.0h1v1h-1zM129.7 461.1h1v1h-1zM138.5 457.8h1v1h-1zM130.4 463.4h1v1h-1zM130.0 465.1h1v1h-1zM126.9 465.8h1v1h-1zM134.8 465.8h1v1h-1zM135.8 466.7h1v1h-1zM129.1 463.1h1v1h-1zM126.3 467.5h1v1h-1zM146.4 461.7h1v1h-1zM128.0 466.6h1v1h-1zM131.8 463.7h1v1h-1zM136.6 459.7h1v1h-1zM129.6 465.4h1v1h-1zM126.7 462.7h1v1h-1zM131.6 461.1h1v1h-1zM137.1 462.6h1v1h-1zM144.1 461.8h1v1h-1zM128.4 466.0h1v1h-1zM138.2 462.2h1v1h-1zM127.0 463.6h1v1h-1zM138.2 462.2h1v1h-1zM129.2 460.9h1v1h-1zM136.4 459.3h1v1h-1zM127.0 464.1h1v1h-1zM138.4 461.4h1v1h-1zM127.7 457.5h1v1h-1zM133.1 465.6h1v1h-1zM130.8 462.1h1v1h-1zM136.3 462.5h1v1h-1zM127.2 467.2h1v1h-1zM127.8 468.2h1v1h-1zM131.9 465.2h1v1h-1zM132.6 466.1h1v1h-1zM126.8 465.7h1v1h-1zM128.6 460.9h1v1h-1zM126.3 464.6h1v1h-1zM132.5 467.7h1v1h-1zM135.6 462.0h1v1h-1zM119.1 465.4h1v1h-1zM137.6 464.5h1v1h-1zM141.2 460.5h1v1h-1zM124.5 463.9h1v1h-1zM130.7 468.3h1v1h-1zM119.1 466.5h1v1h-1zM126.8 463.0h1v1h-1zM134.3 464.6h1v1h-1zM127.1 459.3h1v1h-1zM140.7 458.7h1v1h-1zM130.4 467.2h1v1h-1zM128.0 459.4h1v1h-1zM134.5 463.8h1v1h-1zM124.4 465.2h1v1h-1zM126.6 465.1h1v1h-1zM134.9 459.3h1v1h-1zM132.7 464.5h1v1h-1zM131.4 458.0h1v1h-1zM134.9 467.2h1v1h-1zM140.2 460.4h1v1h-1zM151.9 459.4h1v1h-1zM131.3 464.7h1v1h-1zM134.2 464.8h1v1h-1zM131.3 465.4h1v1h-1zM126.5 458.4h1v1h-1zM135.2 459.2h1v1h-1zM128.5 463.6h1v1h-1zM130.6 464.6h1v1h-1zM135.3 460.7h1v1h-1zM133.2 462.8h1v1h-1zM124.0 468.2h1v1h-1zM134.1 464.2h1v1h-1zM126.9 463.9h1v1h-1zM126.9 467.2h1v1h-1zM136.9 463.3h1v1h-1zM139.3 459.8h1v1h-1zM135.3 459.0h1v1h-1zM119.4 467.5h1v1h-1zM124.6 467.2h1v1h-1zM130.0 460.2h1v1h-1zM130.0 458.9h1v1h-1zM128.7 464.7h1v1h-1zM131.3 460.8h1v1h-1zM131.8 465.6h1v1h-1zM138.1 459.4h1v1h-1zM133.8 462.2h1v1h-1zM128.5 465.9h1v1h-1zM136.9 464.7h1v1h-1zM125.8 460.3h1v1h-1zM140.2 460.3h1v1h-1zM134.5 462.3h1v1h-1zM140.1 462.7h1v1h-1zM131.7 462.1h1v1h-1zM140.0 462.1h1v1h-1zM133.3 464.8h1v1h-1zM128.4 466.7h1v1h-1zM131.3 461.0h1v1h-1zM128.2 466.6h1v1h-1zM129.0 463.3h1v1h-1zM136.6 466.2h1v1h-1zM134.4 466.0h1v1h-1zM136.4 465.4h1v1h-1zM126.1 467.5h1v1h-1zM132.1 466.7h1v1h-1zM132.7 462.9h1v1h-1zM131.8 462.8h1v1h-1zM137.1 464.4h1v1h-1zM131.6 463.8h1v1h-1zM119.7 465.9h1v1h-1zM127.9 467.0h1v1h-1zM129.0 464.1h1v1h-1zM133.1 461.8h1v1h-1zM127.1 462.8h1v1h-1zM134.3 464.2h1v1h-1zM130.8 461.4h1v1h-1zM133.5 461.0h1v1h-1zM131.2 460.2h1v1h-1zM143.7 458.8h1v1h-1zM121.2 461.2h1v1h-1zM117.9 466.3h1v1h-1zM136.9 459.0h1v1h-1zM128.2 460.1h1v1h-1zM131.7 465.5h1v1h-1zM131.8 463.0h1v1h-1zM131.5 462.5h1v1h-1zM118.0 462.7h1v1h-1zM127.9 462.7h1v1h-1zM127.0 464.5h1v1h-1zM133.2 461.2h1v1h-1zM128.7 467.2h1v1h-1zM132.2 463.6h1v1h-1zM140.1 459.2h1v1h-1zM130.0 463.6h1v1h-1zM126.5 465.5h1v1h-1zM133.2 462.6h1v1h-1zM137.4 464.2h1v1h-1zM133.4 463.6h1v1h-1zM131.4 462.7h1v1h-1zM129.8 463.5h1v1h-1zM130.6 460.8h1v1h-1zM130.7 463.0h1v1h-1zM145.6 457.7h1v1h-1zM133.6 459.7h1v1h-1zM125.4 463.3h1v1h-1zM135.4 461.2h1v1h-1zM136.4 459.9h1v1h-1zM138.8 463.7h1v1h-1zM134.5 464.6h1v1h-1zM138.4 461.3h1v1h-1zM124.2 465.5h1v1h-1zM125.2 462.5h1v1h-1zM128.6 461.4h1v1h-1zM134.0 465.0h1v1h-1zM134.7 461.0h1v1h-1zM139.1 458.7h1v1h-1zM134.3 465.4h1v1h-1zM132.9 462.4h1v1h-1zM131.3 462.5h1v1h-1zM124.5 463.9h1v1h-1zM131.4 462.6h1v1h-1zM131.3 464.7h1v1h-1zM132.4 461.0h1v1h-1zM129.5 463.3h1v1h-1zM127.0 463.7h1v1h-1zM132.8 467.4h1v1h-1zM138.8 464.4h1v1h-1zM133.1 467.4h1v1h-1zM121.4 464.6h1v1h-1zM128.9 458.7h1v1h-1zM129.1 463.3h1v1h-1zM134.5 462.1h1v1h-1zM129.7 459.5h1v1h-1zM130.9 462.8h1v1h-1zM133.3 467.2h1v1h-1zM133.3 463.0h1v1h-1zM134.6 460.7h1v1h-1zM141.9 466.7h1v1h-1zM128.9 466.0h1v1h-1zM126.5 463.9h1v1h-1zM131.1 463.4h1v1h-1zM131.6 465.1h1v1h-1zM128.3 465.0h1v1h-1zM130.9 467.2h1v1h-1zM141.4 463.0h1v1h-1zM134.7 460.9h1v1h-1zM137.4 463.8h1v1h-1zM125.7 464.0h1v1h-1zM129.7 465.1h1v1h-1zM134.7 465.8h1v1h-1zM145.5 456.9h1v1h-1zM138.6 460.9h1v1h-1zM119.9 466.3h1v1h-1zM128.2 463.3h1v1h-1zM130.4 462.0h1v1h-1zM127.0 466.1h1v1h-1zM132.2 465.9h1v1h-1zM128.6 462.7h1v1h-1zM142.4 461.3h1v1h-1zM137.1 465.7h1v1h-1zM128.8 463.5h1v1h-1zM135.6 465.7h1v1h-1zM134.8 462.3h1v1h-1zM138.1 458.9h1v1h-1zM135.0 464.0h1v1h-1zM133.8 465.7h1v1h-1zM130.9 463.6h1v1h-1zM124.3 466.1h1v1h-1zM133.1 460.4h1v1h-1zM130.9 463.2h1v1h-1zM128.7 461.7h1v1h-1zM122.8 465.5h1v1h-1zM117.4 462.5h1v1h-1zM138.4 468.3h1v1h-1zM122.2 467.7h1v1h-1zM125.9 462.1h1v1h-1zM129.6 467.7h1v1h-1zM130.8 462.7h1v1h-1zM135.7 461.0h1v1h-1zM131.2 466.4h1v1h-1zM135.9 463.5h1v1h-1zM131.5 464.9h1v1h-1zM133.0 468.0h1v1h-1zM143.6 462.1h1v1h-1zM132.2 467.8h1v1h-1zM132.4 459.8h1v1h-1zM135.3 464.1h1v1h-1zM138.7 462.3h1v1h-1zM131.2 463.7h1v1h-1zM128.6 463.3h1v1h-1zM138.7 464.0h1v1h-1zM129.3 463.4h1v1h-1zM129.9 467.9h1v1h-1zM131.2 466.8h1v1h-1zM134.9 464.2h1v1h-1zM129.5 462.0h1v1h-1zM134.5 459.0h1v1h-1zM132.6 465.6h1v1h-1zM137.9 460.3h1v1h-1zM138.7 467.3h1v1h-1zM131.7 466.9h1v1h-1zM125.0 463.8h1v1h-1zM135.9 464.0h1v1h-1zM129.0 460.2h1v1h-1zM135.2 463.1h1v1h-1zM134.2 462.6h1v1h-1zM125.0 467.2h1v1h-1zM132.6 461.6h1v1h-1zM125.6 468.0h1v1h-1zM137.2 460.7h1v1h-1zM140.5 467.9h1v1h-1zM125.6 459.9h1v1h-1zM131.5 458.9h1v1h-1zM135.8 465.5h1v1h-1zM134.2 461.7h1v1h-1zM132.7 462.2h1v1h-1zM135.1 459.1h1v1h-1zM138.2 458.6h1v1h-1zM135.8 467.2h1v1h-1zM145.0 463.5h1v1h-1zM133.4 462.3h1v1h-1zM134.9 461.9h1v1h-1zM126.6 462.7h1v1h-1zM136.1 460.8h1v1h-1zM126.6 466.0h1v1h-1zM136.4 459.5h1v1h-1zM124.7 462.3h1v1h-1zM117.2 467.6h1v1h-1zM133.8 463.5h1v1h-1zM133.5 468.2h1v1h-1zM130.4 462.5h1v1h-1zM126.3 464.8h1v1h-1zM127.7 463.1h1v1h-1zM122.9 466.1h1v1h-1zM134.4 466.9h1v1h-1zM129.4 461.6h1v1h-1zM136.3 465.4h1v1h-1zM136.9 461.2h1v1h-1zM131.0 459.2h1v1h-1zM135.3 461.5h1v1h-1zM136.3 460.3h1v1h-1zM138.7 462.1h1v1h-1zM120.5 462.1h1v1h-1zM135.6 461.0h1v1h-1zM125.8 458.2h1v1h-1zM125.2 458.5h1v1h-1zM128.5 459.2h1v1h-1zM133.2 456.9h1v1h-1zM135.3 457.6h1v1h-1zM140.0 459.8h1v1h-1zM130.4 458.2h1v1h-1zM137.2 461.4h1v1h-1zM127.4 459.1h1v1h-1zM131.1 455.2h1v1h-1zM131.4 458.6h1v1h-1zM132.5 456.9h1v1h-1zM128.9 456.1h1v1h-1zM122.8 457.0h1v1h-1zM134.2 456.8h1v1h-1zM139.2 458.4h1v1h-1zM132.5 458.0h1v1h-1zM126.4 459.8h1v1h-1zM125.4 457.5h1v1h-1zM116.4 461.1h1v1h-1zM130.4 456.6h1v1h-1zM129.4 456.7h1v1h-1zM129.6 459.3h1v1h-1zM120.7 458.7h1v1h-1zM140.3 457.9h1v1h-1z" fill="#151515"/>
<path d="M131.2 447.5h1v1h-1zM131.6 452.0h1v1h-1zM135.9 445.7h1v1h-1zM124.8 446.7h1v1h-1zM128.9 447.5h1v1h-1zM134.4 432.1h1v1h-1zM124.1 446.0h1v1h-1zM135.5 444.0h1v1h-1zM140.5 447.7h1v1h-1zM128.9 447.4h1v1h-1zM122.2 442.7h1v1h-1zM123.0 445.5h1v1h-1zM138.7 450.2h1v1h-1zM129.8 448.3h1v1h-1zM142.0 443.8h1v1h-1zM119.7 443.2h1v1h-1zM137.6 456.5h1v1h-1zM131.5 458.3h1v1h-1zM137.8 438.3h1v1h-1zM115.7 442.8h1v1h-1zM135.5 446.4h1v1h-1z" fill="#999"/>
<path d="M118.4 463.5h1v1h-1zM120.3 466.5h1v1h-1zM114.8 463.5h1v1h-1zM114.6 462.3h1v1h-1zM117.7 458.5h1v1h-1zM117.2 462.9h1v1h-1zM120.7 467.8h1v1h-1zM117.9 463.8h1v1h-1zM121.3 468.0h1v1h-1zM117.2 460.0h1v1h-1zM123.5 459.1h1v1h-1zM118.7 465.9h1v1h-1zM119.5 462.3h1v1h-1z" fill="#555"/>
<rect x="198.90" y="423.70" width="65.40" height="46.40" fill="#fff" stroke="#151515" stroke-width="1.1"/>
<line x1="205.50" y1="423.70" x2="205.50" y2="470.10" stroke="#151515" stroke-width="0.9"/>
<line x1="198.90" y1="458.00" x2="264.30" y2="458.00" stroke="#151515" stroke-width="0.9"/>
<text x="202.4" y="418.9" font-size="8.9" font-weight="bold" text-anchor="start" fill="#151515" stroke="#151515" stroke-width="0.4" stroke-linejoin="round">IL-12+IL-36<tspan font-weight="bold">β</tspan></text>
<text x="257.6" y="436.9" font-size="9" font-weight="normal" text-anchor="end" fill="#151515" stroke="#151515" stroke-width="0.25" stroke-linejoin="round">0.12%</text>
<text x="195.0" y="478.79999999999995" font-size="5.8" font-weight="normal" text-anchor="start" fill="#151515" stroke="#151515" stroke-width="0.3" stroke-linejoin="round">10<tspan dy="-2.4" font-size="4.3">0</tspan><tspan dy="2.4"></tspan></text>
<line x1="198.90" y1="470.10" x2="198.90" y2="472.30" stroke="#151515" stroke-width="0.7"/>
<line x1="196.70" y1="470.10" x2="198.90" y2="470.10" stroke="#151515" stroke-width="0.7"/>
<line x1="203.82" y1="470.10" x2="203.82" y2="471.60" stroke="#151515" stroke-width="0.6"/>
<line x1="197.30" y1="466.61" x2="198.90" y2="466.61" stroke="#151515" stroke-width="0.7"/>
<line x1="206.70" y1="470.10" x2="206.70" y2="471.60" stroke="#151515" stroke-width="0.6"/>
<line x1="197.30" y1="464.57" x2="198.90" y2="464.57" stroke="#151515" stroke-width="0.7"/>
<line x1="208.74" y1="470.10" x2="208.74" y2="471.60" stroke="#151515" stroke-width="0.6"/>
<line x1="197.30" y1="463.12" x2="198.90" y2="463.12" stroke="#151515" stroke-width="0.7"/>
<line x1="210.33" y1="470.10" x2="210.33" y2="471.60" stroke="#151515" stroke-width="0.6"/>
<line x1="197.30" y1="461.99" x2="198.90" y2="461.99" stroke="#151515" stroke-width="0.7"/>
<line x1="211.62" y1="470.10" x2="211.62" y2="471.60" stroke="#151515" stroke-width="0.6"/>
<line x1="197.30" y1="461.07" x2="198.90" y2="461.07" stroke="#151515" stroke-width="0.7"/>
<line x1="212.72" y1="470.10" x2="212.72" y2="471.60" stroke="#151515" stroke-width="0.6"/>
<line x1="197.30" y1="460.30" x2="198.90" y2="460.30" stroke="#151515" stroke-width="0.7"/>
<line x1="213.67" y1="470.10" x2="213.67" y2="471.60" stroke="#151515" stroke-width="0.6"/>
<line x1="197.30" y1="459.62" x2="198.90" y2="459.62" stroke="#151515" stroke-width="0.7"/>
<line x1="214.50" y1="470.10" x2="214.50" y2="471.60" stroke="#151515" stroke-width="0.6"/>
<line x1="197.30" y1="459.03" x2="198.90" y2="459.03" stroke="#151515" stroke-width="0.7"/>
<text x="211.35" y="478.79999999999995" font-size="5.8" font-weight="normal" text-anchor="start" fill="#151515" stroke="#151515" stroke-width="0.3" stroke-linejoin="round">10<tspan dy="-2.4" font-size="4.3">1</tspan><tspan dy="2.4"></tspan></text>
<line x1="215.25" y1="470.10" x2="215.25" y2="472.30" stroke="#151515" stroke-width="0.7"/>
<line x1="196.70" y1="458.50" x2="198.90" y2="458.50" stroke="#151515" stroke-width="0.7"/>
<line x1="220.17" y1="470.10" x2="220.17" y2="471.60" stroke="#151515" stroke-width="0.6"/>
<line x1="197.30" y1="455.01" x2="198.90" y2="455.01" stroke="#151515" stroke-width="0.7"/>
<line x1="223.05" y1="470.10" x2="223.05" y2="471.60" stroke="#151515" stroke-width="0.6"/>
<line x1="197.30" y1="452.97" x2="198.90" y2="452.97" stroke="#151515" stroke-width="0.7"/>
<line x1="225.09" y1="470.10" x2="225.09" y2="471.60" stroke="#151515" stroke-width="0.6"/>
<line x1="197.30" y1="451.52" x2="198.90" y2="451.52" stroke="#151515" stroke-width="0.7"/>
<line x1="226.68" y1="470.10" x2="226.68" y2="471.60" stroke="#151515" stroke-width="0.6"/>
<line x1="197.30" y1="450.39" x2="198.90" y2="450.39" stroke="#151515" stroke-width="0.7"/>
<line x1="227.97" y1="470.10" x2="227.97" y2="471.60" stroke="#151515" stroke-width="0.6"/>
<line x1="197.30" y1="449.47" x2="198.90" y2="449.47" stroke="#151515" stroke-width="0.7"/>
<line x1="229.07" y1="470.10" x2="229.07" y2="471.60" stroke="#151515" stroke-width="0.6"/>
<line x1="197.30" y1="448.70" x2="198.90" y2="448.70" stroke="#151515" stroke-width="0.7"/>
<line x1="230.02" y1="470.10" x2="230.02" y2="471.60" stroke="#151515" stroke-width="0.6"/>
<line x1="197.30" y1="448.02" x2="198.90" y2="448.02" stroke="#151515" stroke-width="0.7"/>
<line x1="230.85" y1="470.10" x2="230.85" y2="471.60" stroke="#151515" stroke-width="0.6"/>
<line x1="197.30" y1="447.43" x2="198.90" y2="447.43" stroke="#151515" stroke-width="0.7"/>
<text x="227.70000000000002" y="478.79999999999995" font-size="5.8" font-weight="normal" text-anchor="start" fill="#151515" stroke="#151515" stroke-width="0.3" stroke-linejoin="round">10<tspan dy="-2.4" font-size="4.3">2</tspan><tspan dy="2.4"></tspan></text>
<line x1="231.60" y1="470.10" x2="231.60" y2="472.30" stroke="#151515" stroke-width="0.7"/>
<line x1="196.70" y1="446.90" x2="198.90" y2="446.90" stroke="#151515" stroke-width="0.7"/>
<line x1="236.52" y1="470.10" x2="236.52" y2="471.60" stroke="#151515" stroke-width="0.6"/>
<line x1="197.30" y1="443.41" x2="198.90" y2="443.41" stroke="#151515" stroke-width="0.7"/>
<line x1="239.40" y1="470.10" x2="239.40" y2="471.60" stroke="#151515" stroke-width="0.6"/>
<line x1="197.30" y1="441.37" x2="198.90" y2="441.37" stroke="#151515" stroke-width="0.7"/>
<line x1="241.44" y1="470.10" x2="241.44" y2="471.60" stroke="#151515" stroke-width="0.6"/>
<line x1="197.30" y1="439.92" x2="198.90" y2="439.92" stroke="#151515" stroke-width="0.7"/>
<line x1="243.03" y1="470.10" x2="243.03" y2="471.60" stroke="#151515" stroke-width="0.6"/>
<line x1="197.30" y1="438.79" x2="198.90" y2="438.79" stroke="#151515" stroke-width="0.7"/>
<line x1="244.32" y1="470.10" x2="244.32" y2="471.60" stroke="#151515" stroke-width="0.6"/>
<line x1="197.30" y1="437.87" x2="198.90" y2="437.87" stroke="#151515" stroke-width="0.7"/>
<line x1="245.42" y1="470.10" x2="245.42" y2="471.60" stroke="#151515" stroke-width="0.6"/>
<line x1="197.30" y1="437.10" x2="198.90" y2="437.10" stroke="#151515" stroke-width="0.7"/>
<line x1="246.37" y1="470.10" x2="246.37" y2="471.60" stroke="#151515" stroke-width="0.6"/>
<line x1="197.30" y1="436.42" x2="198.90" y2="436.42" stroke="#151515" stroke-width="0.7"/>
<line x1="247.20" y1="470.10" x2="247.20" y2="471.60" stroke="#151515" stroke-width="0.6"/>
<line x1="197.30" y1="435.83" x2="198.90" y2="435.83" stroke="#151515" stroke-width="0.7"/>
<text x="244.05" y="478.79999999999995" font-size="5.8" font-weight="normal" text-anchor="start" fill="#151515" stroke="#151515" stroke-width="0.3" stroke-linejoin="round">10<tspan dy="-2.4" font-size="4.3">3</tspan><tspan dy="2.4"></tspan></text>
<line x1="247.95" y1="470.10" x2="247.95" y2="472.30" stroke="#151515" stroke-width="0.7"/>
<line x1="196.70" y1="435.30" x2="198.90" y2="435.30" stroke="#151515" stroke-width="0.7"/>
<line x1="252.87" y1="470.10" x2="252.87" y2="471.60" stroke="#151515" stroke-width="0.6"/>
<line x1="197.30" y1="431.81" x2="198.90" y2="431.81" stroke="#151515" stroke-width="0.7"/>
<line x1="255.75" y1="470.10" x2="255.75" y2="471.60" stroke="#151515" stroke-width="0.6"/>
<line x1="197.30" y1="429.77" x2="198.90" y2="429.77" stroke="#151515" stroke-width="0.7"/>
<line x1="257.79" y1="470.10" x2="257.79" y2="471.60" stroke="#151515" stroke-width="0.6"/>
<line x1="197.30" y1="428.32" x2="198.90" y2="428.32" stroke="#151515" stroke-width="0.7"/>
<line x1="259.38" y1="470.10" x2="259.38" y2="471.60" stroke="#151515" stroke-width="0.6"/>
<line x1="197.30" y1="427.19" x2="198.90" y2="427.19" stroke="#151515" stroke-width="0.7"/>
<line x1="260.67" y1="470.10" x2="260.67" y2="471.60" stroke="#151515" stroke-width="0.6"/>
<line x1="197.30" y1="426.27" x2="198.90" y2="426.27" stroke="#151515" stroke-width="0.7"/>
<line x1="261.77" y1="470.10" x2="261.77" y2="471.60" stroke="#151515" stroke-width="0.6"/>
<line x1="197.30" y1="425.50" x2="198.90" y2="425.50" stroke="#151515" stroke-width="0.7"/>
<line x1="262.72" y1="470.10" x2="262.72" y2="471.60" stroke="#151515" stroke-width="0.6"/>
<line x1="197.30" y1="424.82" x2="198.90" y2="424.82" stroke="#151515" stroke-width="0.7"/>
<line x1="263.55" y1="470.10" x2="263.55" y2="471.60" stroke="#151515" stroke-width="0.6"/>
<line x1="197.30" y1="424.23" x2="198.90" y2="424.23" stroke="#151515" stroke-width="0.7"/>
<text x="260.40000000000003" y="478.79999999999995" font-size="5.8" font-weight="normal" text-anchor="start" fill="#151515" stroke="#151515" stroke-width="0.3" stroke-linejoin="round">10<tspan dy="-2.4" font-size="4.3">4</tspan><tspan dy="2.4"></tspan></text>
<line x1="264.30" y1="470.10" x2="264.30" y2="472.30" stroke="#151515" stroke-width="0.7"/>
<line x1="196.70" y1="423.70" x2="198.90" y2="423.70" stroke="#151515" stroke-width="0.7"/>
<text x="191.9" y="473.09999999999997" font-size="5.8" font-weight="normal" text-anchor="start" fill="#151515" stroke="#151515" stroke-width="0.3" stroke-linejoin="round" transform="rotate(-90 191.9 473.09999999999997)">10<tspan dy="-2.4" font-size="4.3">0</tspan><tspan dy="2.4"></tspan></text>
<text x="191.9" y="427.7" font-size="5.8" font-weight="normal" text-anchor="start" fill="#151515" stroke="#151515" stroke-width="0.3" stroke-linejoin="round" transform="rotate(-90 191.9 427.7)">10<tspan dy="-2.4" font-size="4.3">4</tspan><tspan dy="2.4"></tspan></text>
<ellipse cx="216.7" cy="464.2" rx="9.8" ry="4.7" transform="rotate(-10 216.7 464.2)" fill="#151515"/>
<path d="M212.5 464.7h1v1h-1zM224.5 462.8h1v1h-1zM207.7 464.7h1v1h-1zM209.6 461.2h1v1h-1zM214.3 458.5h1v1h-1zM216.6 467.7h1v1h-1zM209.1 466.8h1v1h-1zM218.4 459.8h1v1h-1zM218.5 466.4h1v1h-1zM220.2 468.5h1v1h-1zM219.8 466.2h1v1h-1zM224.1 459.5h1v1h-1zM219.2 467.3h1v1h-1zM219.4 462.5h1v1h-1zM214.2 466.8h1v1h-1zM223.7 464.3h1v1h-1zM218.2 459.2h1v1h-1zM207.8 459.6h1v1h-1zM222.5 465.4h1v1h-1zM221.5 462.8h1v1h-1zM213.4 466.5h1v1h-1zM214.9 465.3h1v1h-1zM221.9 466.1h1v1h-1zM221.9 459.9h1v1h-1zM215.0 462.4h1v1h-1zM213.8 464.5h1v1h-1zM218.2 457.3h1v1h-1zM216.5 464.7h1v1h-1zM217.0 464.8h1v1h-1zM209.9 458.9h1v1h-1zM213.7 466.7h1v1h-1zM212.5 462.6h1v1h-1zM230.7 451.3h1v1h-1zM221.7 462.1h1v1h-1zM217.2 467.6h1v1h-1zM220.7 463.8h1v1h-1zM228.0 463.2h1v1h-1zM206.9 463.8h1v1h-1zM219.2 467.7h1v1h-1zM208.4 464.7h1v1h-1zM214.7 463.8h1v1h-1zM217.1 466.8h1v1h-1zM207.4 465.4h1v1h-1zM217.1 463.5h1v1h-1zM221.2 460.2h1v1h-1zM213.7 462.7h1v1h-1zM204.7 464.0h1v1h-1zM215.9 460.8h1v1h-1zM222.6 466.4h1v1h-1zM215.4 460.6h1v1h-1zM213.7 464.5h1v1h-1zM213.1 462.8h1v1h-1zM218.8 466.7h1v1h-1zM221.5 464.9h1v1h-1zM213.3 466.6h1v1h-1zM211.4 462.8h1v1h-1zM216.5 463.9h1v1h-1zM214.9 464.1h1v1h-1zM225.5 461.5h1v1h-1zM222.5 459.6h1v1h-1zM207.5 459.6h1v1h-1zM218.0 464.9h1v1h-1zM219.9 455.8h1v1h-1zM212.9 467.2h1v1h-1zM210.7 465.1h1v1h-1zM220.4 461.6h1v1h-1zM220.6 459.7h1v1h-1zM214.6 465.8h1v1h-1zM215.2 465.6h1v1h-1zM222.2 460.2h1v1h-1zM205.3 464.5h1v1h-1zM222.9 458.5h1v1h-1zM222.7 460.8h1v1h-1zM227.2 466.3h1v1h-1zM221.7 465.7h1v1h-1zM223.9 456.7h1v1h-1zM221.9 465.3h1v1h-1zM218.4 467.6h1v1h-1zM214.4 459.3h1v1h-1zM225.1 460.3h1v1h-1zM221.1 463.8h1v1h-1zM218.9 464.4h1v1h-1zM219.8 465.8h1v1h-1zM222.3 464.0h1v1h-1zM218.0 464.4h1v1h-1zM224.5 459.6h1v1h-1zM213.0 468.1h1v1h-1zM219.8 463.2h1v1h-1zM215.4 463.6h1v1h-1zM225.8 462.9h1v1h-1zM224.8 464.4h1v1h-1zM215.3 463.3h1v1h-1zM216.7 465.9h1v1h-1zM211.2 466.3h1v1h-1zM214.6 464.5h1v1h-1zM222.1 461.4h1v1h-1zM222.9 462.3h1v1h-1zM218.8 461.6h1v1h-1zM220.1 460.0h1v1h-1zM213.6 463.2h1v1h-1zM217.2 459.8h1v1h-1zM221.7 465.2h1v1h-1zM218.7 461.3h1v1h-1zM216.4 459.8h1v1h-1zM219.0 468.1h1v1h-1zM218.0 461.1h1v1h-1zM212.1 462.5h1v1h-1zM200.8 459.9h1v1h-1zM209.6 467.1h1v1h-1zM219.0 466.9h1v1h-1zM219.8 459.5h1v1h-1zM215.2 463.7h1v1h-1zM225.1 461.3h1v1h-1zM222.4 459.6h1v1h-1zM220.5 461.6h1v1h-1zM223.1 462.2h1v1h-1zM218.0 466.4h1v1h-1zM214.4 460.9h1v1h-1zM219.8 459.2h1v1h-1zM218.4 462.8h1v1h-1zM218.4 464.0h1v1h-1zM224.9 465.5h1v1h-1zM214.5 466.9h1v1h-1zM213.2 464.0h1v1h-1zM223.3 467.6h1v1h-1zM218.0 466.3h1v1h-1zM213.5 466.2h1v1h-1zM225.1 462.9h1v1h-1zM222.2 460.7h1v1h-1zM221.6 462.7h1v1h-1zM225.3 457.1h1v1h-1zM228.3 460.8h1v1h-1zM222.3 464.4h1v1h-1zM217.7 465.0h1v1h-1zM217.1 463.8h1v1h-1zM217.0 464.0h1v1h-1zM218.0 465.3h1v1h-1zM213.4 466.3h1v1h-1zM220.0 461.0h1v1h-1zM221.3 454.8h1v1h-1zM210.9 462.2h1v1h-1zM210.2 467.2h1v1h-1zM212.5 464.6h1v1h-1zM223.0 457.6h1v1h-1zM218.1 460.4h1v1h-1zM219.9 467.8h1v1h-1zM226.2 464.5h1v1h-1zM214.1 464.8h1v1h-1zM212.0 467.2h1v1h-1zM221.5 466.6h1v1h-1zM206.5 464.8h1v1h-1zM219.4 464.9h1v1h-1zM226.6 465.8h1v1h-1zM220.1 466.1h1v1h-1zM216.4 462.4h1v1h-1zM208.7 460.7h1v1h-1zM216.3 464.0h1v1h-1zM215.7 463.0h1v1h-1zM218.9 464.5h1v1h-1zM214.5 463.4h1v1h-1zM225.8 466.1h1v1h-1zM203.8 467.5h1v1h-1zM207.7 466.5h1v1h-1zM211.6 464.9h1v1h-1zM226.9 462.6h1v1h-1zM219.1 463.0h1v1h-1zM221.8 460.3h1v1h-1zM216.5 466.2h1v1h-1zM214.1 464.7h1v1h-1zM228.5 457.1h1v1h-1zM215.6 465.9h1v1h-1zM214.6 463.0h1v1h-1zM217.9 462.0h1v1h-1zM216.9 468.0h1v1h-1zM221.8 460.3h1v1h-1zM207.2 464.2h1v1h-1zM209.3 467.9h1v1h-1zM224.2 463.8h1v1h-1zM220.6 465.0h1v1h-1zM227.7 462.2h1v1h-1zM232.9 459.3h1v1h-1zM214.8 464.2h1v1h-1zM214.5 459.2h1v1h-1zM210.6 462.1h1v1h-1zM224.1 459.0h1v1h-1zM208.9 460.9h1v1h-1zM220.7 459.4h1v1h-1zM211.3 464.5h1v1h-1zM223.1 462.6h1v1h-1zM218.2 465.3h1v1h-1zM215.9 464.2h1v1h-1zM230.8 462.1h1v1h-1zM214.7 468.1h1v1h-1zM219.0 463.0h1v1h-1zM227.3 462.8h1v1h-1zM212.8 463.9h1v1h-1zM212.1 465.8h1v1h-1zM206.5 468.0h1v1h-1zM201.9 464.0h1v1h-1zM216.6 465.3h1v1h-1zM216.4 464.4h1v1h-1zM221.7 466.1h1v1h-1zM213.6 465.2h1v1h-1zM217.5 463.9h1v1h-1zM217.3 461.3h1v1h-1zM217.6 463.1h1v1h-1zM219.7 465.3h1v1h-1zM225.2 458.9h1v1h-1zM214.3 462.9h1v1h-1zM220.4 456.4h1v1h-1zM217.1 460.8h1v1h-1zM212.1 466.0h1v1h-1zM215.6 465.6h1v1h-1zM210.0 463.4h1v1h-1zM211.9 468.2h1v1h-1zM215.0 459.6h1v1h-1zM222.8 463.8h1v1h-1zM216.2 461.6h1v1h-1zM221.2 463.9h1v1h-1zM211.9 463.6h1v1h-1zM223.4 463.2h1v1h-1zM219.4 465.0h1v1h-1zM214.5 459.7h1v1h-1zM212.7 460.3h1v1h-1zM214.6 464.6h1v1h-1zM220.6 461.1h1v1h-1zM213.5 465.2h1v1h-1zM216.6 464.0h1v1h-1zM215.7 461.4h1v1h-1zM210.8 462.3h1v1h-1zM222.5 467.5h1v1h-1zM216.9 467.0h1v1h-1zM208.1 465.6h1v1h-1zM220.1 465.2h1v1h-1zM218.4 463.8h1v1h-1zM206.1 466.7h1v1h-1zM221.2 458.5h1v1h-1zM218.9 464.8h1v1h-1zM217.8 465.8h1v1h-1zM220.2 461.2h1v1h-1zM214.7 464.5h1v1h-1zM215.8 462.2h1v1h-1zM218.1 462.8h1v1h-1zM220.3 463.2h1v1h-1zM213.6 461.6h1v1h-1zM212.0 464.8h1v1h-1zM214.3 466.1h1v1h-1zM217.6 462.5h1v1h-1zM215.6 466.0h1v1h-1zM217.0 461.0h1v1h-1zM210.0 467.3h1v1h-1zM211.2 467.7h1v1h-1zM219.6 456.6h1v1h-1zM216.9 467.7h1v1h-1zM210.7 462.5h1v1h-1zM221.7 459.9h1v1h-1zM221.2 465.3h1v1h-1zM212.6 464.9h1v1h-1zM221.4 465.2h1v1h-1zM210.6 461.1h1v1h-1zM207.8 460.4h1v1h-1zM210.3 462.9h1v1h-1zM213.6 460.4h1v1h-1zM214.2 464.4h1v1h-1zM219.3 465.0h1v1h-1zM210.0 467.7h1v1h-1zM212.0 464.4h1v1h-1zM227.6 461.7h1v1h-1zM212.4 467.4h1v1h-1zM212.4 468.7h1v1h-1zM211.8 465.4h1v1h-1zM208.1 460.0h1v1h-1zM214.7 464.4h1v1h-1zM214.6 465.4h1v1h-1zM211.6 461.0h1v1h-1zM212.2 467.8h1v1h-1zM220.9 467.6h1v1h-1zM226.4 463.7h1v1h-1zM214.9 458.6h1v1h-1zM207.4 459.5h1v1h-1zM213.1 467.3h1v1h-1zM220.4 457.6h1v1h-1zM216.0 463.8h1v1h-1zM217.0 464.5h1v1h-1zM217.9 463.7h1v1h-1zM213.1 468.3h1v1h-1zM204.2 465.6h1v1h-1zM213.1 464.4h1v1h-1zM219.3 463.8h1v1h-1zM220.2 462.8h1v1h-1zM222.2 463.7h1v1h-1zM213.1 462.3h1v1h-1zM209.9 461.2h1v1h-1zM214.3 466.7h1v1h-1zM219.3 457.9h1v1h-1zM211.2 466.7h1v1h-1zM219.6 454.7h1v1h-1zM205.2 467.6h1v1h-1zM228.1 461.0h1v1h-1zM218.2 465.0h1v1h-1zM223.2 460.5h1v1h-1zM215.3 466.4h1v1h-1zM219.1 463.9h1v1h-1zM211.5 466.8h1v1h-1zM212.1 460.5h1v1h-1zM207.9 463.6h1v1h-1zM216.9 464.6h1v1h-1zM213.0 461.0h1v1h-1zM213.9 460.2h1v1h-1zM219.1 463.5h1v1h-1zM213.0 465.0h1v1h-1zM217.6 460.6h1v1h-1zM210.8 468.0h1v1h-1zM212.0 467.4h1v1h-1zM206.4 463.2h1v1h-1zM225.1 468.3h1v1h-1zM224.4 464.6h1v1h-1zM218.4 458.8h1v1h-1zM215.3 461.6h1v1h-1zM215.5 463.9h1v1h-1zM213.3 463.9h1v1h-1zM216.7 460.6h1v1h-1zM212.5 459.9h1v1h-1zM212.2 463.2h1v1h-1zM212.8 463.4h1v1h-1zM223.4 455.6h1v1h-1zM210.8 468.1h1v1h-1zM212.3 467.6h1v1h-1zM216.3 464.6h1v1h-1zM222.4 461.5h1v1h-1zM215.9 464.2h1v1h-1zM217.3 461.2h1v1h-1zM226.8 463.7h1v1h-1zM221.7 462.5h1v1h-1zM214.7 463.0h1v1h-1zM211.0 455.2h1v1h-1zM220.6 464.9h1v1h-1zM217.5 465.8h1v1h-1zM215.4 465.5h1v1h-1zM212.8 468.5h1v1h-1zM223.7 463.1h1v1h-1zM220.3 464.9h1v1h-1zM214.4 466.3h1v1h-1zM229.7 457.8h1v1h-1zM221.5 462.8h1v1h-1zM214.9 462.4h1v1h-1zM223.0 467.6h1v1h-1zM211.1 462.2h1v1h-1zM217.8 465.1h1v1h-1zM212.0 467.6h1v1h-1zM216.4 462.2h1v1h-1zM218.4 461.0h1v1h-1zM213.7 458.9h1v1h-1zM217.9 462.5h1v1h-1zM219.0 467.4h1v1h-1zM223.3 458.9h1v1h-1zM221.5 462.5h1v1h-1zM211.0 462.9h1v1h-1zM216.2 456.4h1v1h-1zM212.8 466.4h1v1h-1zM213.8 467.3h1v1h-1zM210.3 467.0h1v1h-1zM215.7 457.4h1v1h-1zM226.2 458.1h1v1h-1zM210.8 463.4h1v1h-1zM221.2 460.8h1v1h-1zM212.4 460.8h1v1h-1zM216.0 465.8h1v1h-1zM226.3 459.3h1v1h-1zM218.1 459.0h1v1h-1zM224.2 462.7h1v1h-1zM217.6 464.8h1v1h-1zM227.7 461.9h1v1h-1zM218.4 468.6h1v1h-1zM217.3 462.2h1v1h-1zM224.4 462.4h1v1h-1zM216.5 462.3h1v1h-1zM206.6 460.3h1v1h-1zM216.4 457.2h1v1h-1zM223.2 458.9h1v1h-1zM209.1 462.2h1v1h-1z" fill="#151515"/>
<path d="M227.6 451.3h1v1h-1zM216.9 453.0h1v1h-1zM218.8 452.3h1v1h-1zM221.6 447.7h1v1h-1zM212.8 444.7h1v1h-1zM218.0 450.1h1v1h-1z" fill="#999"/>
<path d="M203.9 465.4h1v1h-1zM201.9 464.9h1v1h-1zM208.6 461.7h1v1h-1zM202.2 464.2h1v1h-1zM208.4 467.6h1v1h-1zM208.5 466.2h1v1h-1zM200.7 468.3h1v1h-1zM201.5 459.1h1v1h-1zM205.0 459.2h1v1h-1zM200.3 460.9h1v1h-1zM209.7 461.8h1v1h-1zM208.4 468.5h1v1h-1zM202.1 460.1h1v1h-1z" fill="#555"/>
<text x="266.2" y="376.3" font-size="8.6" font-weight="bold" text-anchor="start" fill="#151515" stroke="#151515" stroke-width="0.4" stroke-linejoin="round" letter-spacing="-0.4">WT</text>
<text x="266.2" y="450.5" font-size="8.6" font-weight="bold" text-anchor="start" fill="#151515" stroke="#151515" stroke-width="0.4" stroke-linejoin="round">IL-36R<tspan dy="-2.6" font-size="4.6">-/-</tspan><tspan dy="2.6"> </tspan></text>
</g>
<g id="panelE">
<text x="323.6" y="335.8" font-size="13.4" font-weight="bold" text-anchor="start" fill="#151515" stroke="#151515" stroke-width="0.4" stroke-linejoin="round">E</text>
<line x1="357.50" y1="345.80" x2="357.50" y2="534.20" stroke="#151515" stroke-width="1.1"/>
<line x1="357.00" y1="533.70" x2="520.00" y2="533.70" stroke="#151515" stroke-width="1.1"/>
<line x1="355.00" y1="533.70" x2="357.50" y2="533.70" stroke="#151515" stroke-width="1"/>
<text x="355.3" y="536.4000000000001" font-size="7.5" font-weight="bold" text-anchor="end" fill="#151515" stroke="#151515" stroke-width="0.4" stroke-linejoin="round">0.0</text>
<line x1="355.00" y1="502.45" x2="357.50" y2="502.45" stroke="#151515" stroke-width="1"/>
<text x="355.3" y="505.15000000000003" font-size="7.5" font-weight="bold" text-anchor="end" fill="#151515" stroke="#151515" stroke-width="0.4" stroke-linejoin="round">2.5</text>
<line x1="355.00" y1="471.20" x2="357.50" y2="471.20" stroke="#151515" stroke-width="1"/>
<text x="355.3" y="473.90000000000003" font-size="7.5" font-weight="bold" text-anchor="end" fill="#151515" stroke="#151515" stroke-width="0.4" stroke-linejoin="round">5.0</text>
<line x1="355.00" y1="439.95" x2="357.50" y2="439.95" stroke="#151515" stroke-width="1"/>
<text x="355.3" y="442.65000000000003" font-size="7.5" font-weight="bold" text-anchor="end" fill="#151515" stroke="#151515" stroke-width="0.4" stroke-linejoin="round">7.5</text>
<line x1="355.00" y1="408.70" x2="357.50" y2="408.70" stroke="#151515" stroke-width="1"/>
<text x="355.3" y="411.40000000000003" font-size="7.5" font-weight="bold" text-anchor="end" fill="#151515" stroke="#151515" stroke-width="0.4" stroke-linejoin="round">10.0</text>
<line x1="355.00" y1="377.45" x2="357.50" y2="377.45" stroke="#151515" stroke-width="1"/>
<text x="355.3" y="380.15000000000003" font-size="7.5" font-weight="bold" text-anchor="end" fill="#151515" stroke="#151515" stroke-width="0.4" stroke-linejoin="round">12.5</text>
<line x1="355.00" y1="346.20" x2="357.50" y2="346.20" stroke="#151515" stroke-width="1"/>
<text x="355.3" y="348.90000000000003" font-size="7.5" font-weight="bold" text-anchor="end" fill="#151515" stroke="#151515" stroke-width="0.4" stroke-linejoin="round">15.0</text>
<text x="335.2" y="435.6" font-size="7.5" font-weight="bold" text-anchor="middle" fill="#151515" stroke="#151515" stroke-width="0.4" stroke-linejoin="round" transform="rotate(-90 335.2 435.6)" word-spacing="0.9" xml:space="preserve">% IFN-<tspan font-weight="normal">γ</tspan> positive CD4<tspan dy="-2.6" font-size="5">+</tspan><tspan dy="2.6"> </tspan>T cells</text>
<rect x="364.50" y="532.08" width="13.20" height="1.62" fill="#151515" stroke="none" stroke-width="1"/>
<rect x="383.20" y="532.35" width="13.20" height="1.35" fill="#555" stroke="none" stroke-width="1"/>
<line x1="427.85" y1="410.95" x2="427.85" y2="446.20" stroke="#151515" stroke-width="1"/>
<line x1="424.35" y1="410.95" x2="431.35" y2="410.95" stroke="#151515" stroke-width="1"/>
<rect x="421.25" y="446.20" width="13.20" height="87.50" fill="#151515" stroke="none" stroke-width="1"/>
<line x1="446.55" y1="522.70" x2="446.55" y2="526.70" stroke="#151515" stroke-width="1"/>
<line x1="443.05" y1="522.70" x2="450.05" y2="522.70" stroke="#151515" stroke-width="1"/>
<rect x="440.45" y="527.20" width="12.20" height="6.50" fill="#dcdcdc" stroke="#151515" stroke-width="1"/>
<line x1="484.60" y1="365.45" x2="484.60" y2="368.70" stroke="#151515" stroke-width="1"/>
<line x1="481.10" y1="365.45" x2="488.10" y2="365.45" stroke="#151515" stroke-width="1"/>
<rect x="478.00" y="368.70" width="13.20" height="165.00" fill="#151515" stroke="none" stroke-width="1"/>
<rect x="496.70" y="532.23" width="13.20" height="1.48" fill="#555" stroke="none" stroke-width="1"/>
<line x1="424.20" y1="406.80" x2="457.00" y2="406.80" stroke="#333" stroke-width="1.2"/>
<text x="440.8" y="403.8" font-size="7" font-weight="bold" text-anchor="middle" fill="#151515" stroke="#151515" stroke-width="0.2" stroke-linejoin="round">*</text>
<rect x="365.00" y="353.20" width="10.00" height="4.40" fill="#151515" stroke="none" stroke-width="1"/>
<text x="376.3" y="357.9" font-size="7" font-weight="bold" text-anchor="start" fill="#151515" stroke="#151515" stroke-width="0.4" stroke-linejoin="round" letter-spacing="-0.3">WT</text>
<rect x="365.4" y="362.6" width="9.4" height="4.2" rx="0.8" fill="#dcdcdc" stroke="#151515" stroke-width="0.9"/>
<text x="376.3" y="367.4" font-size="7" font-weight="bold" text-anchor="start" fill="#151515" stroke="#151515" stroke-width="0.4" stroke-linejoin="round">IL-36R<tspan dy="-2.4" font-size="4.4">-/-</tspan><tspan dy="2.4"> </tspan></text>
<text x="379.8" y="543.2" font-size="8" font-weight="bold" text-anchor="middle" fill="#151515" stroke="#151515" stroke-width="0.4" stroke-linejoin="round">Medium</text>
<text x="437.8" y="543.2" font-size="8" font-weight="bold" text-anchor="middle" fill="#151515" stroke="#151515" stroke-width="0.4" stroke-linejoin="round">IL-12+IL-18</text>
<text x="494.8" y="543.2" font-size="8" font-weight="bold" text-anchor="middle" fill="#151515" stroke="#151515" stroke-width="0.4" stroke-linejoin="round">IL-12+IL-36<tspan font-weight="normal">β</tspan></text>
</g>
</svg>
</body></html>
